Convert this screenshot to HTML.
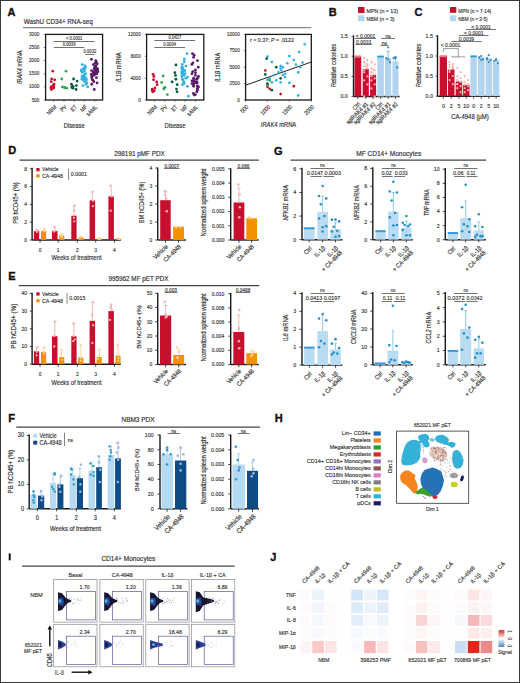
<!DOCTYPE html>
<html><head><meta charset="utf-8"><style>
html,body{margin:0;padding:0;background:#fff;}
svg{display:block;}
text{font-family:"Liberation Sans", sans-serif;}
</style></head><body>
<svg width="520" height="683" viewBox="0 0 520 683" font-family='"Liberation Sans", sans-serif'>
<rect x="0" y="0" width="520" height="683" fill="#fff"/>
<text x="7.6" y="15.7" font-size="11.0" text-anchor="start" fill="#111" font-weight="bold" stroke="#111" stroke-width="0.35">A</text>
<text x="23.8" y="23.6" font-size="6.9" text-anchor="start" fill="#333" stroke="#333" stroke-width="0.173" textLength="69" lengthAdjust="spacingAndGlyphs">WashU CD34+ RNA-seq</text>
<line x1="23" y1="27.7" x2="311.3" y2="27.7" stroke="#8a8a8a" stroke-width="1.2"/>
<rect x="45.6" y="34.4" width="56.99999999999999" height="65.6" fill="none" stroke="#1a1a1a" stroke-width="1.3"/>
<line x1="43.800000000000004" y1="100.0" x2="45.6" y2="100.0" stroke="#1a1a1a" stroke-width="0.6"/>
<text x="39.3" y="101.6" font-size="5.29" text-anchor="end" fill="#333" stroke="#333" stroke-width="0.132" textLength="7.67" lengthAdjust="spacingAndGlyphs">500</text>
<line x1="43.800000000000004" y1="86.88" x2="45.6" y2="86.88" stroke="#1a1a1a" stroke-width="0.6"/>
<text x="39.3" y="88.47999999999999" font-size="5.29" text-anchor="end" fill="#333" stroke="#333" stroke-width="0.132" textLength="10.23" lengthAdjust="spacingAndGlyphs">1000</text>
<line x1="43.800000000000004" y1="73.76" x2="45.6" y2="73.76" stroke="#1a1a1a" stroke-width="0.6"/>
<text x="39.3" y="75.36" font-size="5.29" text-anchor="end" fill="#333" stroke="#333" stroke-width="0.132" textLength="10.23" lengthAdjust="spacingAndGlyphs">1500</text>
<line x1="43.800000000000004" y1="60.64000000000001" x2="45.6" y2="60.64000000000001" stroke="#1a1a1a" stroke-width="0.6"/>
<text x="39.3" y="62.24000000000001" font-size="5.29" text-anchor="end" fill="#333" stroke="#333" stroke-width="0.132" textLength="10.23" lengthAdjust="spacingAndGlyphs">2000</text>
<line x1="43.800000000000004" y1="47.52" x2="45.6" y2="47.52" stroke="#1a1a1a" stroke-width="0.6"/>
<text x="39.3" y="49.120000000000005" font-size="5.29" text-anchor="end" fill="#333" stroke="#333" stroke-width="0.132" textLength="10.23" lengthAdjust="spacingAndGlyphs">2500</text>
<line x1="43.800000000000004" y1="34.400000000000006" x2="45.6" y2="34.400000000000006" stroke="#1a1a1a" stroke-width="0.6"/>
<text x="39.3" y="36.00000000000001" font-size="5.29" text-anchor="end" fill="#333" stroke="#333" stroke-width="0.132" textLength="10.23" lengthAdjust="spacingAndGlyphs">3000</text>
<text x="22.5" y="67.2" font-size="6.44" text-anchor="middle" fill="#333" stroke="#333" stroke-width="0.161" textLength="33.4" lengthAdjust="spacingAndGlyphs" transform="rotate(-90 22.5 67.2)"><tspan font-style="italic">IRAK4</tspan> mRNA</text>
<line x1="53.8" y1="100.0" x2="53.8" y2="101.6" stroke="#1a1a1a" stroke-width="0.6"/>
<line x1="64.0" y1="100.0" x2="64.0" y2="101.6" stroke="#1a1a1a" stroke-width="0.6"/>
<line x1="74.2" y1="100.0" x2="74.2" y2="101.6" stroke="#1a1a1a" stroke-width="0.6"/>
<line x1="84.4" y1="100.0" x2="84.4" y2="101.6" stroke="#1a1a1a" stroke-width="0.6"/>
<line x1="94.6" y1="100.0" x2="94.6" y2="101.6" stroke="#1a1a1a" stroke-width="0.6"/>
<text x="57.0" y="107.4" font-size="5.86" text-anchor="end" fill="#333" stroke="#333" stroke-width="0.147" textLength="11.33" lengthAdjust="spacingAndGlyphs" transform="rotate(-45 57.0 107.4)">NBM</text>
<text x="67.2" y="107.4" font-size="5.86" text-anchor="end" fill="#333" stroke="#333" stroke-width="0.147" textLength="6.8" lengthAdjust="spacingAndGlyphs" transform="rotate(-45 67.2 107.4)">PV</text>
<text x="77.4" y="107.4" font-size="5.86" text-anchor="end" fill="#333" stroke="#333" stroke-width="0.147" textLength="6.52" lengthAdjust="spacingAndGlyphs" transform="rotate(-45 77.4 107.4)">ET</text>
<text x="87.6" y="107.4" font-size="5.86" text-anchor="end" fill="#333" stroke="#333" stroke-width="0.147" textLength="7.36" lengthAdjust="spacingAndGlyphs" transform="rotate(-45 87.6 107.4)">MF</text>
<text x="97.8" y="107.4" font-size="5.86" text-anchor="end" fill="#333" stroke="#333" stroke-width="0.147" textLength="13.04" lengthAdjust="spacingAndGlyphs" transform="rotate(-45 97.8 107.4)">sAML</text>
<text x="74.2" y="127.5" font-size="6.67" text-anchor="middle" fill="#333" stroke="#333" stroke-width="0.167" textLength="20.95" lengthAdjust="spacingAndGlyphs">Disease</text>
<circle cx="52.74" cy="71.14" r="1.4" fill="#c8102e"/>
<circle cx="51.71" cy="79.01" r="1.4" fill="#c8102e"/>
<circle cx="54.71" cy="79.8" r="1.4" fill="#c8102e"/>
<circle cx="51.23" cy="81.63" r="1.4" fill="#c8102e"/>
<circle cx="54.02" cy="84.26" r="1.4" fill="#c8102e"/>
<circle cx="52.99" cy="85.57" r="1.4" fill="#c8102e"/>
<circle cx="51.15" cy="86.88" r="1.4" fill="#c8102e"/>
<circle cx="53.84" cy="86.88" r="1.4" fill="#c8102e"/>
<circle cx="51.02" cy="87.4" r="1.4" fill="#c8102e"/>
<circle cx="53.4" cy="88.19" r="1.4" fill="#c8102e"/>
<circle cx="51.22" cy="88.72" r="1.4" fill="#c8102e"/>
<circle cx="51.34" cy="89.5" r="1.4" fill="#c8102e"/>
<circle cx="53.35" cy="85.57" r="1.4" fill="#c8102e"/>
<circle cx="65.96" cy="71.14" r="1.4" fill="#34a853"/>
<circle cx="61.74" cy="79.01" r="1.4" fill="#34a853"/>
<circle cx="62.34" cy="86.88" r="1.4" fill="#34a853"/>
<circle cx="64.76" cy="87.93" r="1.4" fill="#34a853"/>
<circle cx="66.69" cy="88.19" r="1.4" fill="#34a853"/>
<circle cx="64.46" cy="87.14" r="1.4" fill="#34a853"/>
<circle cx="73.58" cy="79.01" r="1.4" fill="#0c5a3e"/>
<circle cx="77.06" cy="81.11" r="1.4" fill="#0c5a3e"/>
<circle cx="71.48" cy="84.26" r="1.4" fill="#0c5a3e"/>
<circle cx="76.35" cy="85.57" r="1.4" fill="#0c5a3e"/>
<circle cx="72.94" cy="86.36" r="1.4" fill="#0c5a3e"/>
<circle cx="72.07" cy="86.88" r="1.4" fill="#0c5a3e"/>
<circle cx="71.91" cy="87.4" r="1.4" fill="#0c5a3e"/>
<circle cx="73.05" cy="88.19" r="1.4" fill="#0c5a3e"/>
<circle cx="76.1" cy="89.5" r="1.4" fill="#0c5a3e"/>
<circle cx="82.23" cy="64.58" r="1.4" fill="#36b0e0"/>
<circle cx="84.95" cy="65.89" r="1.4" fill="#36b0e0"/>
<circle cx="85.34" cy="67.2" r="1.4" fill="#36b0e0"/>
<circle cx="83.53" cy="68.51" r="1.4" fill="#36b0e0"/>
<circle cx="84.72" cy="69.04" r="1.4" fill="#36b0e0"/>
<circle cx="81.43" cy="69.82" r="1.4" fill="#36b0e0"/>
<circle cx="81.41" cy="71.14" r="1.4" fill="#36b0e0"/>
<circle cx="82.4" cy="72.45" r="1.4" fill="#36b0e0"/>
<circle cx="85.63" cy="73.76" r="1.4" fill="#36b0e0"/>
<circle cx="83.91" cy="75.07" r="1.4" fill="#36b0e0"/>
<circle cx="83.14" cy="76.38" r="1.4" fill="#36b0e0"/>
<circle cx="84.98" cy="76.91" r="1.4" fill="#36b0e0"/>
<circle cx="84.08" cy="77.7" r="1.4" fill="#36b0e0"/>
<circle cx="83.04" cy="78.22" r="1.4" fill="#36b0e0"/>
<circle cx="86.4" cy="79.01" r="1.4" fill="#36b0e0"/>
<circle cx="85.75" cy="79.01" r="1.4" fill="#36b0e0"/>
<circle cx="82.66" cy="79.53" r="1.4" fill="#36b0e0"/>
<circle cx="84.91" cy="80.32" r="1.4" fill="#36b0e0"/>
<circle cx="84.57" cy="81.63" r="1.4" fill="#36b0e0"/>
<circle cx="86.95" cy="82.94" r="1.4" fill="#36b0e0"/>
<circle cx="85.96" cy="84.26" r="1.4" fill="#36b0e0"/>
<circle cx="82.96" cy="85.57" r="1.4" fill="#36b0e0"/>
<circle cx="87.67" cy="86.88" r="1.4" fill="#36b0e0"/>
<circle cx="81.8" cy="79.01" r="1.4" fill="#36b0e0"/>
<circle cx="83.84" cy="78.48" r="1.4" fill="#36b0e0"/>
<circle cx="86.15" cy="80.32" r="1.4" fill="#36b0e0"/>
<circle cx="82.03" cy="76.38" r="1.4" fill="#36b0e0"/>
<circle cx="84.32" cy="71.14" r="1.4" fill="#36b0e0"/>
<circle cx="91.47" cy="59.33" r="1.4" fill="#5a1a6a"/>
<circle cx="95.74" cy="60.64" r="1.4" fill="#5a1a6a"/>
<circle cx="96.4" cy="61.95" r="1.4" fill="#5a1a6a"/>
<circle cx="95.1" cy="63.26" r="1.4" fill="#5a1a6a"/>
<circle cx="97.15" cy="63.79" r="1.4" fill="#5a1a6a"/>
<circle cx="93.33" cy="64.58" r="1.4" fill="#5a1a6a"/>
<circle cx="95.93" cy="65.89" r="1.4" fill="#5a1a6a"/>
<circle cx="95.24" cy="66.41" r="1.4" fill="#5a1a6a"/>
<circle cx="95.14" cy="67.2" r="1.4" fill="#5a1a6a"/>
<circle cx="94.3" cy="67.99" r="1.4" fill="#5a1a6a"/>
<circle cx="96.91" cy="68.51" r="1.4" fill="#5a1a6a"/>
<circle cx="97.62" cy="69.04" r="1.4" fill="#5a1a6a"/>
<circle cx="94.42" cy="69.82" r="1.4" fill="#5a1a6a"/>
<circle cx="95.72" cy="70.09" r="1.4" fill="#5a1a6a"/>
<circle cx="91.61" cy="70.61" r="1.4" fill="#5a1a6a"/>
<circle cx="95.97" cy="71.14" r="1.4" fill="#5a1a6a"/>
<circle cx="95.6" cy="71.14" r="1.4" fill="#5a1a6a"/>
<circle cx="97.95" cy="71.66" r="1.4" fill="#5a1a6a"/>
<circle cx="96.79" cy="72.19" r="1.4" fill="#5a1a6a"/>
<circle cx="93.14" cy="72.45" r="1.4" fill="#5a1a6a"/>
<circle cx="93.82" cy="72.97" r="1.4" fill="#5a1a6a"/>
<circle cx="95.75" cy="73.76" r="1.4" fill="#5a1a6a"/>
<circle cx="91.35" cy="74.28" r="1.4" fill="#5a1a6a"/>
<circle cx="94.34" cy="75.07" r="1.4" fill="#5a1a6a"/>
<circle cx="92.34" cy="75.86" r="1.4" fill="#5a1a6a"/>
<circle cx="92.0" cy="76.38" r="1.4" fill="#5a1a6a"/>
<circle cx="91.6" cy="76.91" r="1.4" fill="#5a1a6a"/>
<circle cx="96.42" cy="77.7" r="1.4" fill="#5a1a6a"/>
<circle cx="92.08" cy="79.01" r="1.4" fill="#5a1a6a"/>
<circle cx="92.88" cy="80.32" r="1.4" fill="#5a1a6a"/>
<circle cx="93.86" cy="81.63" r="1.4" fill="#5a1a6a"/>
<circle cx="97.13" cy="82.94" r="1.4" fill="#5a1a6a"/>
<circle cx="91.75" cy="84.26" r="1.4" fill="#5a1a6a"/>
<circle cx="94.25" cy="89.5" r="1.4" fill="#5a1a6a"/>
<circle cx="94.94" cy="68.51" r="1.4" fill="#5a1a6a"/>
<circle cx="97.21" cy="69.82" r="1.4" fill="#5a1a6a"/>
<circle cx="96.77" cy="73.76" r="1.4" fill="#5a1a6a"/>
<circle cx="97.08" cy="71.14" r="1.4" fill="#5a1a6a"/>
<line x1="53.8" y1="41.5" x2="94.6" y2="41.5" stroke="#444" stroke-width="0.75"/>
<text x="74.19999999999999" y="40.3" font-size="4.83" text-anchor="middle" fill="#333" stroke="#333" stroke-width="0.121" textLength="16.47" lengthAdjust="spacingAndGlyphs">&lt; 0.0001</text>
<line x1="53.8" y1="47.5" x2="84.4" y2="47.5" stroke="#444" stroke-width="0.75"/>
<text x="69.1" y="46.3" font-size="4.83" text-anchor="middle" fill="#333" stroke="#333" stroke-width="0.121" textLength="12.85" lengthAdjust="spacingAndGlyphs">0.0039</text>
<line x1="85.2" y1="54.5" x2="94.6" y2="54.5" stroke="#444" stroke-width="0.75"/>
<text x="89.9" y="53.3" font-size="4.83" text-anchor="middle" fill="#333" stroke="#333" stroke-width="0.121" textLength="12.85" lengthAdjust="spacingAndGlyphs">0.0032</text>
<rect x="146.6" y="34.4" width="57.20000000000002" height="65.6" fill="none" stroke="#1a1a1a" stroke-width="1.3"/>
<line x1="144.79999999999998" y1="100.0" x2="146.6" y2="100.0" stroke="#1a1a1a" stroke-width="0.6"/>
<text x="140.7" y="101.6" font-size="5.29" text-anchor="end" fill="#333" stroke="#333" stroke-width="0.132" textLength="2.56" lengthAdjust="spacingAndGlyphs">0</text>
<line x1="144.79999999999998" y1="78.13333333333334" x2="146.6" y2="78.13333333333334" stroke="#1a1a1a" stroke-width="0.6"/>
<text x="140.7" y="79.73333333333333" font-size="5.29" text-anchor="end" fill="#333" stroke="#333" stroke-width="0.132" textLength="10.23" lengthAdjust="spacingAndGlyphs">4000</text>
<line x1="144.79999999999998" y1="56.26666666666667" x2="146.6" y2="56.26666666666667" stroke="#1a1a1a" stroke-width="0.6"/>
<text x="140.7" y="57.866666666666674" font-size="5.29" text-anchor="end" fill="#333" stroke="#333" stroke-width="0.132" textLength="10.23" lengthAdjust="spacingAndGlyphs">8000</text>
<line x1="144.79999999999998" y1="34.400000000000006" x2="146.6" y2="34.400000000000006" stroke="#1a1a1a" stroke-width="0.6"/>
<text x="140.7" y="36.00000000000001" font-size="5.29" text-anchor="end" fill="#333" stroke="#333" stroke-width="0.132" textLength="12.79" lengthAdjust="spacingAndGlyphs">12000</text>
<text x="120.9" y="67.2" font-size="6.44" text-anchor="middle" fill="#333" stroke="#333" stroke-width="0.161" textLength="29.4" lengthAdjust="spacingAndGlyphs" transform="rotate(-90 120.9 67.2)"><tspan font-style="italic">IL1B</tspan> mRNA</text>
<line x1="154.4" y1="100.0" x2="154.4" y2="101.6" stroke="#1a1a1a" stroke-width="0.6"/>
<line x1="164.6" y1="100.0" x2="164.6" y2="101.6" stroke="#1a1a1a" stroke-width="0.6"/>
<line x1="174.8" y1="100.0" x2="174.8" y2="101.6" stroke="#1a1a1a" stroke-width="0.6"/>
<line x1="185.0" y1="100.0" x2="185.0" y2="101.6" stroke="#1a1a1a" stroke-width="0.6"/>
<line x1="195.2" y1="100.0" x2="195.2" y2="101.6" stroke="#1a1a1a" stroke-width="0.6"/>
<text x="157.6" y="107.4" font-size="5.86" text-anchor="end" fill="#333" stroke="#333" stroke-width="0.147" textLength="11.33" lengthAdjust="spacingAndGlyphs" transform="rotate(-45 157.6 107.4)">NBM</text>
<text x="167.8" y="107.4" font-size="5.86" text-anchor="end" fill="#333" stroke="#333" stroke-width="0.147" textLength="6.8" lengthAdjust="spacingAndGlyphs" transform="rotate(-45 167.8 107.4)">PV</text>
<text x="178.0" y="107.4" font-size="5.86" text-anchor="end" fill="#333" stroke="#333" stroke-width="0.147" textLength="6.52" lengthAdjust="spacingAndGlyphs" transform="rotate(-45 178.0 107.4)">ET</text>
<text x="188.2" y="107.4" font-size="5.86" text-anchor="end" fill="#333" stroke="#333" stroke-width="0.147" textLength="7.36" lengthAdjust="spacingAndGlyphs" transform="rotate(-45 188.2 107.4)">MF</text>
<text x="198.4" y="107.4" font-size="5.86" text-anchor="end" fill="#333" stroke="#333" stroke-width="0.147" textLength="13.04" lengthAdjust="spacingAndGlyphs" transform="rotate(-45 198.4 107.4)">sAML</text>
<text x="175" y="127.5" font-size="6.67" text-anchor="middle" fill="#333" stroke="#333" stroke-width="0.167" textLength="20.95" lengthAdjust="spacingAndGlyphs">Disease</text>
<circle cx="153.07" cy="74.31" r="1.4" fill="#c8102e"/>
<circle cx="153.89" cy="76.49" r="1.4" fill="#c8102e"/>
<circle cx="153.55" cy="79.77" r="1.4" fill="#c8102e"/>
<circle cx="156.71" cy="81.96" r="1.4" fill="#c8102e"/>
<circle cx="157.15" cy="84.69" r="1.4" fill="#c8102e"/>
<circle cx="152.31" cy="89.07" r="1.4" fill="#c8102e"/>
<circle cx="152.46" cy="90.16" r="1.4" fill="#c8102e"/>
<circle cx="152.79" cy="91.25" r="1.4" fill="#c8102e"/>
<circle cx="152.8" cy="91.8" r="1.4" fill="#c8102e"/>
<circle cx="154.31" cy="90.71" r="1.4" fill="#c8102e"/>
<circle cx="154.93" cy="87.97" r="1.4" fill="#c8102e"/>
<circle cx="163.18" cy="75.95" r="1.4" fill="#34a853"/>
<circle cx="161.62" cy="82.51" r="1.4" fill="#34a853"/>
<circle cx="164.11" cy="87.97" r="1.4" fill="#34a853"/>
<circle cx="163.82" cy="89.07" r="1.4" fill="#34a853"/>
<circle cx="165.0" cy="87.43" r="1.4" fill="#34a853"/>
<circle cx="167.32" cy="94.53" r="1.4" fill="#34a853"/>
<circle cx="175.94" cy="65.01" r="1.4" fill="#0c5a3e"/>
<circle cx="174.89" cy="72.67" r="1.4" fill="#0c5a3e"/>
<circle cx="175.51" cy="75.4" r="1.4" fill="#0c5a3e"/>
<circle cx="175.86" cy="79.23" r="1.4" fill="#0c5a3e"/>
<circle cx="172.12" cy="81.96" r="1.4" fill="#0c5a3e"/>
<circle cx="177.2" cy="84.69" r="1.4" fill="#0c5a3e"/>
<circle cx="176.48" cy="89.07" r="1.4" fill="#0c5a3e"/>
<circle cx="177.05" cy="91.8" r="1.4" fill="#0c5a3e"/>
<circle cx="187.03" cy="53.53" r="1.4" fill="#36b0e0"/>
<circle cx="184.27" cy="59.0" r="1.4" fill="#36b0e0"/>
<circle cx="184.31" cy="61.73" r="1.4" fill="#36b0e0"/>
<circle cx="182.3" cy="64.47" r="1.4" fill="#36b0e0"/>
<circle cx="185.91" cy="66.11" r="1.4" fill="#36b0e0"/>
<circle cx="182.02" cy="67.2" r="1.4" fill="#36b0e0"/>
<circle cx="182.06" cy="68.29" r="1.4" fill="#36b0e0"/>
<circle cx="183.02" cy="69.39" r="1.4" fill="#36b0e0"/>
<circle cx="182.7" cy="69.93" r="1.4" fill="#36b0e0"/>
<circle cx="183.91" cy="71.03" r="1.4" fill="#36b0e0"/>
<circle cx="181.96" cy="71.57" r="1.4" fill="#36b0e0"/>
<circle cx="181.6" cy="72.67" r="1.4" fill="#36b0e0"/>
<circle cx="182.63" cy="73.21" r="1.4" fill="#36b0e0"/>
<circle cx="182.29" cy="74.31" r="1.4" fill="#36b0e0"/>
<circle cx="184.07" cy="75.4" r="1.4" fill="#36b0e0"/>
<circle cx="181.77" cy="76.49" r="1.4" fill="#36b0e0"/>
<circle cx="187.55" cy="77.04" r="1.4" fill="#36b0e0"/>
<circle cx="185.78" cy="78.13" r="1.4" fill="#36b0e0"/>
<circle cx="182.61" cy="79.23" r="1.4" fill="#36b0e0"/>
<circle cx="183.32" cy="80.87" r="1.4" fill="#36b0e0"/>
<circle cx="183.96" cy="82.51" r="1.4" fill="#36b0e0"/>
<circle cx="184.08" cy="83.6" r="1.4" fill="#36b0e0"/>
<circle cx="182.44" cy="84.69" r="1.4" fill="#36b0e0"/>
<circle cx="187.37" cy="86.33" r="1.4" fill="#36b0e0"/>
<circle cx="188.35" cy="96.17" r="1.4" fill="#36b0e0"/>
<circle cx="184.77" cy="70.48" r="1.4" fill="#36b0e0"/>
<circle cx="184.89" cy="73.76" r="1.4" fill="#36b0e0"/>
<circle cx="182.18" cy="67.2" r="1.4" fill="#36b0e0"/>
<circle cx="192.49" cy="53.53" r="1.4" fill="#5a1a6a"/>
<circle cx="194.13" cy="55.17" r="1.4" fill="#5a1a6a"/>
<circle cx="193.6" cy="57.36" r="1.4" fill="#5a1a6a"/>
<circle cx="197.44" cy="60.64" r="1.4" fill="#5a1a6a"/>
<circle cx="192.9" cy="62.83" r="1.4" fill="#5a1a6a"/>
<circle cx="191.96" cy="64.47" r="1.4" fill="#5a1a6a"/>
<circle cx="198.27" cy="67.2" r="1.4" fill="#5a1a6a"/>
<circle cx="195.39" cy="69.93" r="1.4" fill="#5a1a6a"/>
<circle cx="192.8" cy="71.57" r="1.4" fill="#5a1a6a"/>
<circle cx="195.49" cy="72.67" r="1.4" fill="#5a1a6a"/>
<circle cx="191.98" cy="73.76" r="1.4" fill="#5a1a6a"/>
<circle cx="195.39" cy="75.4" r="1.4" fill="#5a1a6a"/>
<circle cx="198.45" cy="76.49" r="1.4" fill="#5a1a6a"/>
<circle cx="197.67" cy="78.13" r="1.4" fill="#5a1a6a"/>
<circle cx="196.53" cy="79.23" r="1.4" fill="#5a1a6a"/>
<circle cx="193.58" cy="80.32" r="1.4" fill="#5a1a6a"/>
<circle cx="194.29" cy="80.87" r="1.4" fill="#5a1a6a"/>
<circle cx="192.94" cy="81.41" r="1.4" fill="#5a1a6a"/>
<circle cx="197.05" cy="81.96" r="1.4" fill="#5a1a6a"/>
<circle cx="195.42" cy="82.51" r="1.4" fill="#5a1a6a"/>
<circle cx="197.1" cy="83.05" r="1.4" fill="#5a1a6a"/>
<circle cx="194.04" cy="83.6" r="1.4" fill="#5a1a6a"/>
<circle cx="193.32" cy="84.69" r="1.4" fill="#5a1a6a"/>
<circle cx="197.32" cy="85.79" r="1.4" fill="#5a1a6a"/>
<circle cx="198.5" cy="86.88" r="1.4" fill="#5a1a6a"/>
<circle cx="197.6" cy="87.97" r="1.4" fill="#5a1a6a"/>
<circle cx="197.28" cy="89.07" r="1.4" fill="#5a1a6a"/>
<circle cx="197.36" cy="90.16" r="1.4" fill="#5a1a6a"/>
<circle cx="196.83" cy="91.8" r="1.4" fill="#5a1a6a"/>
<circle cx="193.34" cy="93.44" r="1.4" fill="#5a1a6a"/>
<circle cx="195.32" cy="94.53" r="1.4" fill="#5a1a6a"/>
<circle cx="194.22" cy="95.08" r="1.4" fill="#5a1a6a"/>
<circle cx="192.0" cy="80.87" r="1.4" fill="#5a1a6a"/>
<circle cx="191.99" cy="83.6" r="1.4" fill="#5a1a6a"/>
<circle cx="193.7" cy="86.33" r="1.4" fill="#5a1a6a"/>
<circle cx="193.56" cy="78.13" r="1.4" fill="#5a1a6a"/>
<line x1="154.4" y1="40.5" x2="195.2" y2="40.5" stroke="#444" stroke-width="0.75"/>
<text x="174.8" y="39.3" font-size="4.83" text-anchor="middle" fill="#333" stroke="#333" stroke-width="0.121" textLength="12.85" lengthAdjust="spacingAndGlyphs">0.0427</text>
<line x1="154.4" y1="47.5" x2="185.0" y2="47.5" stroke="#444" stroke-width="0.75"/>
<text x="169.7" y="46.3" font-size="4.83" text-anchor="middle" fill="#333" stroke="#333" stroke-width="0.121" textLength="12.85" lengthAdjust="spacingAndGlyphs">0.0004</text>
<rect x="245.6" y="34.4" width="65.70000000000002" height="65.6" fill="none" stroke="#1a1a1a" stroke-width="1.3"/>
<line x1="243.79999999999998" y1="100.0" x2="245.6" y2="100.0" stroke="#1a1a1a" stroke-width="0.6"/>
<text x="239.7" y="101.6" font-size="5.29" text-anchor="end" fill="#333" stroke="#333" stroke-width="0.132" textLength="2.56" lengthAdjust="spacingAndGlyphs">0</text>
<line x1="243.79999999999998" y1="83.6" x2="245.6" y2="83.6" stroke="#1a1a1a" stroke-width="0.6"/>
<text x="239.7" y="85.19999999999999" font-size="5.29" text-anchor="end" fill="#333" stroke="#333" stroke-width="0.132" textLength="10.23" lengthAdjust="spacingAndGlyphs">2500</text>
<line x1="243.79999999999998" y1="67.2" x2="245.6" y2="67.2" stroke="#1a1a1a" stroke-width="0.6"/>
<text x="239.7" y="68.8" font-size="5.29" text-anchor="end" fill="#333" stroke="#333" stroke-width="0.132" textLength="10.23" lengthAdjust="spacingAndGlyphs">5000</text>
<line x1="243.79999999999998" y1="50.800000000000004" x2="245.6" y2="50.800000000000004" stroke="#1a1a1a" stroke-width="0.6"/>
<text x="239.7" y="52.400000000000006" font-size="5.29" text-anchor="end" fill="#333" stroke="#333" stroke-width="0.132" textLength="10.23" lengthAdjust="spacingAndGlyphs">7500</text>
<line x1="243.79999999999998" y1="34.400000000000006" x2="245.6" y2="34.400000000000006" stroke="#1a1a1a" stroke-width="0.6"/>
<text x="239.7" y="36.00000000000001" font-size="5.29" text-anchor="end" fill="#333" stroke="#333" stroke-width="0.132" textLength="12.79" lengthAdjust="spacingAndGlyphs">10000</text>
<line x1="245.6" y1="100.0" x2="245.6" y2="101.6" stroke="#1a1a1a" stroke-width="0.6"/>
<text x="248.8" y="107.4" font-size="5.86" text-anchor="end" fill="#333" stroke="#333" stroke-width="0.147" textLength="8.51" lengthAdjust="spacingAndGlyphs" transform="rotate(-45 248.8 107.4)">500</text>
<line x1="267.5" y1="100.0" x2="267.5" y2="101.6" stroke="#1a1a1a" stroke-width="0.6"/>
<text x="270.7" y="107.4" font-size="5.86" text-anchor="end" fill="#333" stroke="#333" stroke-width="0.147" textLength="11.34" lengthAdjust="spacingAndGlyphs" transform="rotate(-45 270.7 107.4)">1000</text>
<line x1="289.4" y1="100.0" x2="289.4" y2="101.6" stroke="#1a1a1a" stroke-width="0.6"/>
<text x="292.6" y="107.4" font-size="5.86" text-anchor="end" fill="#333" stroke="#333" stroke-width="0.147" textLength="11.34" lengthAdjust="spacingAndGlyphs" transform="rotate(-45 292.6 107.4)">1500</text>
<line x1="311.3" y1="100.0" x2="311.3" y2="101.6" stroke="#1a1a1a" stroke-width="0.6"/>
<text x="314.5" y="107.4" font-size="5.86" text-anchor="end" fill="#333" stroke="#333" stroke-width="0.147" textLength="11.34" lengthAdjust="spacingAndGlyphs" transform="rotate(-45 314.5 107.4)">2000</text>
<text x="219.7" y="67.4" font-size="6.72" text-anchor="middle" fill="#333" stroke="#333" stroke-width="0.168" textLength="29.0" lengthAdjust="spacingAndGlyphs" transform="rotate(-90 219.7 67.4)"><tspan font-style="italic">IL1B</tspan> mRNA</text>
<text x="278.5" y="126.5" font-size="6.67" text-anchor="middle" fill="#333" stroke="#333" stroke-width="0.167" textLength="35.45" lengthAdjust="spacingAndGlyphs"><tspan font-style="italic">IRAK4</tspan> mRNA</text>
<text x="250" y="41.5" font-size="5.29" text-anchor="start" fill="#333" stroke="#333" stroke-width="0.132" textLength="44" lengthAdjust="spacingAndGlyphs">r = 0.37; <tspan font-style="italic">P</tspan> = .0122</text>
<line x1="245.6" y1="85.2" x2="311.3" y2="62.0" stroke="#222" stroke-width="1.0"/>
<circle cx="267.5" cy="56.7" r="1.35" fill="#36b0e0"/>
<circle cx="271.88" cy="61.95" r="1.35" fill="#36b0e0"/>
<circle cx="269.69" cy="78.35" r="1.35" fill="#36b0e0"/>
<circle cx="271.88" cy="82.29" r="1.35" fill="#36b0e0"/>
<circle cx="276.26" cy="80.32" r="1.35" fill="#36b0e0"/>
<circle cx="280.64" cy="65.89" r="1.35" fill="#36b0e0"/>
<circle cx="280.64" cy="68.51" r="1.35" fill="#36b0e0"/>
<circle cx="281.52" cy="70.48" r="1.35" fill="#36b0e0"/>
<circle cx="282.83" cy="75.07" r="1.35" fill="#36b0e0"/>
<circle cx="285.02" cy="73.76" r="1.35" fill="#36b0e0"/>
<circle cx="287.21" cy="63.26" r="1.35" fill="#36b0e0"/>
<circle cx="289.4" cy="56.05" r="1.35" fill="#36b0e0"/>
<circle cx="289.4" cy="82.94" r="1.35" fill="#36b0e0"/>
<circle cx="293.78" cy="59.98" r="1.35" fill="#36b0e0"/>
<circle cx="295.97" cy="64.58" r="1.35" fill="#36b0e0"/>
<circle cx="298.16" cy="72.45" r="1.35" fill="#36b0e0"/>
<circle cx="299.04" cy="52.11" r="1.35" fill="#36b0e0"/>
<circle cx="300.35" cy="67.2" r="1.35" fill="#36b0e0"/>
<circle cx="302.54" cy="62.61" r="1.35" fill="#36b0e0"/>
<circle cx="304.73" cy="44.24" r="1.35" fill="#36b0e0"/>
<circle cx="298.16" cy="95.41" r="1.35" fill="#36b0e0"/>
<circle cx="280.64" cy="82.29" r="1.35" fill="#36b0e0"/>
<circle cx="278.45" cy="72.45" r="1.35" fill="#36b0e0"/>
<circle cx="274.07" cy="75.07" r="1.35" fill="#36b0e0"/>
<circle cx="267.5" cy="79.66" r="1.35" fill="#36b0e0"/>
<circle cx="285.02" cy="77.04" r="1.35" fill="#36b0e0"/>
<circle cx="282.83" cy="67.2" r="1.35" fill="#36b0e0"/>
<circle cx="265.31" cy="70.48" r="1.35" fill="#c8102e"/>
<circle cx="267.5" cy="86.88" r="1.35" fill="#c8102e"/>
<circle cx="269.69" cy="88.85" r="1.35" fill="#c8102e"/>
<circle cx="280.64" cy="94.1" r="1.35" fill="#c8102e"/>
<circle cx="293.78" cy="86.22" r="1.35" fill="#c8102e"/>
<circle cx="267.5" cy="84.91" r="1.35" fill="#c8102e"/>
<circle cx="266.62" cy="58.67" r="1.35" fill="#0c5a3e"/>
<circle cx="265.31" cy="74.42" r="1.35" fill="#0c5a3e"/>
<circle cx="267.5" cy="83.6" r="1.35" fill="#0c5a3e"/>
<circle cx="271.88" cy="90.16" r="1.35" fill="#0c5a3e"/>
<circle cx="276.26" cy="67.2" r="1.35" fill="#0c5a3e"/>
<circle cx="280.64" cy="78.35" r="1.35" fill="#0c5a3e"/>
<circle cx="269.69" cy="80.32" r="1.35" fill="#34a853"/>
<circle cx="267.5" cy="85.57" r="1.35" fill="#34a853"/>
<text x="328.8" y="16.2" font-size="11.0" text-anchor="start" fill="#111" font-weight="bold" stroke="#111" stroke-width="0.35">B</text>
<rect x="358" y="7" width="6.5" height="6" fill="#c8102e"/>
<text x="366.5" y="12.5" font-size="5.98" text-anchor="start" fill="#333" stroke="#333" stroke-width="0.15" textLength="31.5" lengthAdjust="spacingAndGlyphs">MPN (n = 13)</text>
<rect x="358" y="15.3" width="6.5" height="6" fill="#b3d6f0"/>
<text x="366.5" y="20.7" font-size="5.98" text-anchor="start" fill="#333" stroke="#333" stroke-width="0.15" textLength="28" lengthAdjust="spacingAndGlyphs">NBM (n = 3)</text>
<line x1="353.5" y1="35.5" x2="353.5" y2="96.5" stroke="#1a1a1a" stroke-width="1.4"/>
<line x1="353.5" y1="96.5" x2="399.6" y2="96.5" stroke="#1a1a1a" stroke-width="1.4"/>
<line x1="351.6" y1="96.5" x2="353.5" y2="96.5" stroke="#1a1a1a" stroke-width="0.7"/>
<text x="347.8" y="98.4" font-size="6.09" text-anchor="end" fill="#333" stroke="#333" stroke-width="0.152" textLength="7.37" lengthAdjust="spacingAndGlyphs">0.0</text>
<line x1="351.6" y1="76.36666666666667" x2="353.5" y2="76.36666666666667" stroke="#1a1a1a" stroke-width="0.7"/>
<text x="347.8" y="78.26666666666668" font-size="6.09" text-anchor="end" fill="#333" stroke="#333" stroke-width="0.152" textLength="7.37" lengthAdjust="spacingAndGlyphs">0.5</text>
<line x1="351.6" y1="56.233333333333334" x2="353.5" y2="56.233333333333334" stroke="#1a1a1a" stroke-width="0.7"/>
<text x="347.8" y="58.13333333333333" font-size="6.09" text-anchor="end" fill="#333" stroke="#333" stroke-width="0.152" textLength="7.37" lengthAdjust="spacingAndGlyphs">1.0</text>
<line x1="351.6" y1="36.1" x2="353.5" y2="36.1" stroke="#1a1a1a" stroke-width="0.7"/>
<text x="347.8" y="38.0" font-size="6.09" text-anchor="end" fill="#333" stroke="#333" stroke-width="0.152" textLength="7.37" lengthAdjust="spacingAndGlyphs">1.5</text>
<text x="336.1" y="65.55" font-size="7.53" text-anchor="middle" fill="#333" stroke="#333" stroke-width="0.188" textLength="43.1" lengthAdjust="spacingAndGlyphs" transform="rotate(-90 336.1 65.55)">Relative colonies</text>
<rect x="354.5" y="56.233333333333334" width="6.699999999999989" height="40.266666666666666" fill="#c8102e"/>
<line x1="357.85" y1="96.5" x2="357.85" y2="99.1" stroke="#1a1a1a" stroke-width="0.7"/>
<text x="360.85" y="104.5" font-size="6.2" text-anchor="end" fill="#333" stroke="#333" stroke-width="0.155" textLength="8.38" lengthAdjust="spacingAndGlyphs" transform="rotate(-45 360.85 104.5)">Ctrl</text>
<rect x="362.7" y="69.11866666666667" width="6.100000000000023" height="27.38133333333333" fill="#c8102e"/>
<line x1="365.75" y1="96.5" x2="365.75" y2="99.1" stroke="#1a1a1a" stroke-width="0.7"/>
<text x="368.75" y="104.5" font-size="6.2" text-anchor="end" fill="#333" stroke="#333" stroke-width="0.155" textLength="28.76" lengthAdjust="spacingAndGlyphs" transform="rotate(-45 368.75 104.5)">sgIRAK4 #1</text>
<rect x="370.1" y="75.15866666666668" width="6.0" height="21.341333333333324" fill="#c8102e"/>
<line x1="373.1" y1="96.5" x2="373.1" y2="99.1" stroke="#1a1a1a" stroke-width="0.7"/>
<text x="376.1" y="104.5" font-size="6.2" text-anchor="end" fill="#333" stroke="#333" stroke-width="0.155" textLength="28.76" lengthAdjust="spacingAndGlyphs" transform="rotate(-45 376.1 104.5)">sgIRAK4 #2</text>
<rect x="377.3" y="56.233333333333334" width="6.599999999999966" height="40.266666666666666" fill="#b3d4f0"/>
<line x1="380.6" y1="96.5" x2="380.6" y2="99.1" stroke="#1a1a1a" stroke-width="0.7"/>
<text x="383.6" y="104.5" font-size="6.2" text-anchor="end" fill="#333" stroke="#333" stroke-width="0.155" textLength="8.38" lengthAdjust="spacingAndGlyphs" transform="rotate(-45 383.6 104.5)">Ctrl</text>
<rect x="385" y="58.24666666666667" width="6.199999999999989" height="38.25333333333333" fill="#b3d4f0"/>
<line x1="388.1" y1="96.5" x2="388.1" y2="99.1" stroke="#1a1a1a" stroke-width="0.7"/>
<text x="391.1" y="104.5" font-size="6.2" text-anchor="end" fill="#333" stroke="#333" stroke-width="0.155" textLength="28.76" lengthAdjust="spacingAndGlyphs" transform="rotate(-45 391.1 104.5)">sgIRAK4 #1</text>
<rect x="392.4" y="61.468" width="6.100000000000023" height="35.032" fill="#b3d4f0"/>
<line x1="395.45" y1="96.5" x2="395.45" y2="99.1" stroke="#1a1a1a" stroke-width="0.7"/>
<text x="398.45" y="104.5" font-size="6.2" text-anchor="end" fill="#333" stroke="#333" stroke-width="0.155" textLength="28.76" lengthAdjust="spacingAndGlyphs" transform="rotate(-45 398.45 104.5)">sgIRAK4 #2</text>
<circle cx="364.15" cy="58.25" r="1.15" fill="#f6b0b0"/>
<circle cx="367.35" cy="60.26" r="1.15" fill="#f6b0b0"/>
<circle cx="364.15" cy="62.27" r="1.15" fill="#f6b0b0"/>
<circle cx="367.35" cy="64.29" r="1.15" fill="#f6b0b0"/>
<circle cx="364.15" cy="66.3" r="1.15" fill="#f6b0b0"/>
<circle cx="367.35" cy="68.31" r="1.15" fill="#f6b0b0"/>
<circle cx="364.15" cy="72.34" r="1.15" fill="#f6b0b0"/>
<circle cx="367.35" cy="76.37" r="1.15" fill="#f6b0b0"/>
<circle cx="364.15" cy="80.39" r="1.15" fill="#f6b0b0"/>
<circle cx="367.35" cy="84.42" r="1.15" fill="#f6b0b0"/>
<circle cx="364.15" cy="96.5" r="1.15" fill="#f6b0b0"/>
<circle cx="367.35" cy="66.3" r="1.15" fill="#f6b0b0"/>
<circle cx="364.15" cy="70.33" r="1.15" fill="#f6b0b0"/>
<circle cx="371.5" cy="62.27" r="1.15" fill="#f6b0b0"/>
<circle cx="374.7" cy="64.29" r="1.15" fill="#f6b0b0"/>
<circle cx="371.5" cy="68.31" r="1.15" fill="#f6b0b0"/>
<circle cx="374.7" cy="70.33" r="1.15" fill="#f6b0b0"/>
<circle cx="371.5" cy="72.34" r="1.15" fill="#f6b0b0"/>
<circle cx="374.7" cy="74.35" r="1.15" fill="#f6b0b0"/>
<circle cx="371.5" cy="76.37" r="1.15" fill="#f6b0b0"/>
<circle cx="374.7" cy="78.38" r="1.15" fill="#f6b0b0"/>
<circle cx="371.5" cy="80.39" r="1.15" fill="#f6b0b0"/>
<circle cx="374.7" cy="84.42" r="1.15" fill="#f6b0b0"/>
<circle cx="371.5" cy="88.45" r="1.15" fill="#f6b0b0"/>
<circle cx="374.7" cy="96.5" r="1.15" fill="#f6b0b0"/>
<circle cx="371.5" cy="72.34" r="1.15" fill="#f6b0b0"/>
<circle cx="356.25" cy="56.23" r="1.15" fill="#f6b0b0"/>
<circle cx="359.45" cy="56.23" r="1.15" fill="#f6b0b0"/>
<circle cx="356.25" cy="56.23" r="1.15" fill="#f6b0b0"/>
<rect x="377.3" y="55.63333333333333" width="6.6" height="1.8" fill="#2a9ac0"/>
<rect x="354.5" y="55.63333333333333" width="6.7" height="1.8" fill="#e87a88"/>
<circle cx="388.1" cy="47.37" r="1.15" fill="#3a8cc0"/>
<circle cx="386.3" cy="58.25" r="1.15" fill="#3a8cc0"/>
<circle cx="389.9" cy="62.27" r="1.15" fill="#3a8cc0"/>
<circle cx="388.1" cy="59.45" r="1.15" fill="#3a8cc0"/>
<circle cx="395.45" cy="57.04" r="1.15" fill="#3a8cc0"/>
<circle cx="393.65" cy="58.25" r="1.15" fill="#3a8cc0"/>
<circle cx="397.25" cy="67.51" r="1.15" fill="#3a8cc0"/>
<circle cx="395.45" cy="58.25" r="1.15" fill="#3a8cc0"/>
<line x1="365.75" y1="69.11866666666667" x2="365.75" y2="62.676" stroke="#f6b0b0" stroke-width="0.6"/>
<line x1="364.15" y1="62.676" x2="367.35" y2="62.676" stroke="#f6b0b0" stroke-width="0.6"/>
<line x1="373.1" y1="75.15866666666668" x2="373.1" y2="69.11866666666667" stroke="#f6b0b0" stroke-width="0.6"/>
<line x1="371.5" y1="69.11866666666667" x2="374.70000000000005" y2="69.11866666666667" stroke="#f6b0b0" stroke-width="0.6"/>
<line x1="388.1" y1="58.24666666666667" x2="388.1" y2="51.40133333333333" stroke="#2b8fd0" stroke-width="0.6"/>
<line x1="386.5" y1="51.40133333333333" x2="389.70000000000005" y2="51.40133333333333" stroke="#2b8fd0" stroke-width="0.6"/>
<line x1="395.45" y1="61.468" x2="395.45" y2="57.03866666666667" stroke="#2b8fd0" stroke-width="0.6"/>
<line x1="393.84999999999997" y1="57.03866666666667" x2="397.05" y2="57.03866666666667" stroke="#2b8fd0" stroke-width="0.6"/>
<line x1="355" y1="38.5" x2="376" y2="38.5" stroke="#444" stroke-width="0.75"/>
<text x="365.5" y="37.6" font-size="5.75" text-anchor="middle" fill="#333" stroke="#333" stroke-width="0.144" textLength="19.6" lengthAdjust="spacingAndGlyphs">&lt; 0.0001</text>
<line x1="355.5" y1="44.5" x2="372" y2="44.5" stroke="#444" stroke-width="0.75"/>
<text x="363.75" y="43.6" font-size="5.75" text-anchor="middle" fill="#333" stroke="#333" stroke-width="0.144" textLength="15.3" lengthAdjust="spacingAndGlyphs">0.0033</text>
<line x1="381.2" y1="38.5" x2="395" y2="38.5" stroke="#444" stroke-width="0.75"/>
<text x="388.1" y="37.6" font-size="5.75" text-anchor="middle" fill="#333" stroke="#333" stroke-width="0.144" textLength="5.28" lengthAdjust="spacingAndGlyphs">ns</text>
<line x1="380.7" y1="45.5" x2="388" y2="45.5" stroke="#444" stroke-width="0.75"/>
<text x="384.35" y="44.6" font-size="5.75" text-anchor="middle" fill="#333" stroke="#333" stroke-width="0.144" textLength="5.28" lengthAdjust="spacingAndGlyphs">ns</text>
<text x="414.5" y="16.2" font-size="11.0" text-anchor="start" fill="#111" font-weight="bold" stroke="#111" stroke-width="0.35">C</text>
<rect x="450" y="7" width="6.3" height="5.8" fill="#c8102e"/>
<text x="458.2" y="12.5" font-size="5.98" text-anchor="start" fill="#333" stroke="#333" stroke-width="0.15" textLength="33" lengthAdjust="spacingAndGlyphs">MPN (n = 7-14)</text>
<rect x="450" y="15.3" width="6.3" height="5.8" fill="#b3d6f0"/>
<text x="458.2" y="20.7" font-size="5.98" text-anchor="start" fill="#333" stroke="#333" stroke-width="0.15" textLength="29.5" lengthAdjust="spacingAndGlyphs">NBM (n = 3-5)</text>
<line x1="437.5" y1="35.2" x2="437.5" y2="96.2" stroke="#1a1a1a" stroke-width="1.4"/>
<line x1="437.5" y1="96.2" x2="499.8" y2="96.2" stroke="#1a1a1a" stroke-width="1.4"/>
<line x1="435.6" y1="96.2" x2="437.5" y2="96.2" stroke="#1a1a1a" stroke-width="0.7"/>
<text x="432.9" y="98.10000000000001" font-size="6.09" text-anchor="end" fill="#333" stroke="#333" stroke-width="0.152" textLength="7.37" lengthAdjust="spacingAndGlyphs">0.0</text>
<line x1="435.6" y1="76.1" x2="437.5" y2="76.1" stroke="#1a1a1a" stroke-width="0.7"/>
<text x="432.9" y="78.0" font-size="6.09" text-anchor="end" fill="#333" stroke="#333" stroke-width="0.152" textLength="7.37" lengthAdjust="spacingAndGlyphs">0.5</text>
<line x1="435.6" y1="56.0" x2="437.5" y2="56.0" stroke="#1a1a1a" stroke-width="0.7"/>
<text x="432.9" y="57.9" font-size="6.09" text-anchor="end" fill="#333" stroke="#333" stroke-width="0.152" textLength="7.37" lengthAdjust="spacingAndGlyphs">1.0</text>
<line x1="435.6" y1="35.9" x2="437.5" y2="35.9" stroke="#1a1a1a" stroke-width="0.7"/>
<text x="432.9" y="37.8" font-size="6.09" text-anchor="end" fill="#333" stroke="#333" stroke-width="0.152" textLength="7.37" lengthAdjust="spacingAndGlyphs">1.5</text>
<text x="421.1" y="65.55" font-size="7.26" text-anchor="middle" fill="#333" stroke="#333" stroke-width="0.181" textLength="43.1" lengthAdjust="spacingAndGlyphs" transform="rotate(-90 421.1 65.55)">Relative colonies</text>
<rect x="439.7" y="56.0" width="7.300000000000011" height="40.2" fill="#c8102e"/>
<line x1="443.35" y1="96.2" x2="443.35" y2="98.8" stroke="#1a1a1a" stroke-width="0.7"/>
<text x="443.35" y="107.6" font-size="6.09" text-anchor="middle" fill="#333" stroke="#333" stroke-width="0.152" textLength="2.95" lengthAdjust="spacingAndGlyphs">0</text>
<rect x="447.9" y="69.467" width="6.600000000000023" height="26.733000000000004" fill="#c8102e"/>
<line x1="451.2" y1="96.2" x2="451.2" y2="98.8" stroke="#1a1a1a" stroke-width="0.7"/>
<text x="451.2" y="107.6" font-size="6.09" text-anchor="middle" fill="#333" stroke="#333" stroke-width="0.152" textLength="2.95" lengthAdjust="spacingAndGlyphs">2</text>
<rect x="455.7" y="81.527" width="6.5" height="14.673000000000002" fill="#c8102e"/>
<line x1="458.95" y1="96.2" x2="458.95" y2="98.8" stroke="#1a1a1a" stroke-width="0.7"/>
<text x="458.95" y="107.6" font-size="6.09" text-anchor="middle" fill="#333" stroke="#333" stroke-width="0.152" textLength="2.95" lengthAdjust="spacingAndGlyphs">5</text>
<rect x="463.1" y="84.944" width="6.399999999999977" height="11.256" fill="#c8102e"/>
<line x1="466.3" y1="96.2" x2="466.3" y2="98.8" stroke="#1a1a1a" stroke-width="0.7"/>
<text x="466.3" y="107.6" font-size="6.09" text-anchor="middle" fill="#333" stroke="#333" stroke-width="0.152" textLength="5.89" lengthAdjust="spacingAndGlyphs">10</text>
<rect x="470.4" y="56.0" width="6.400000000000034" height="40.2" fill="#b3d4f0"/>
<line x1="473.6" y1="96.2" x2="473.6" y2="98.8" stroke="#1a1a1a" stroke-width="0.7"/>
<text x="473.6" y="107.6" font-size="6.09" text-anchor="middle" fill="#333" stroke="#333" stroke-width="0.152" textLength="2.95" lengthAdjust="spacingAndGlyphs">0</text>
<rect x="477.8" y="57.407000000000004" width="6.800000000000011" height="38.793" fill="#b3d4f0"/>
<line x1="481.20000000000005" y1="96.2" x2="481.20000000000005" y2="98.8" stroke="#1a1a1a" stroke-width="0.7"/>
<text x="481.20000000000005" y="107.6" font-size="6.09" text-anchor="middle" fill="#333" stroke="#333" stroke-width="0.152" textLength="2.95" lengthAdjust="spacingAndGlyphs">2</text>
<rect x="485.6" y="58.211" width="6.399999999999977" height="37.989000000000004" fill="#b3d4f0"/>
<line x1="488.8" y1="96.2" x2="488.8" y2="98.8" stroke="#1a1a1a" stroke-width="0.7"/>
<text x="488.8" y="107.6" font-size="6.09" text-anchor="middle" fill="#333" stroke="#333" stroke-width="0.152" textLength="2.95" lengthAdjust="spacingAndGlyphs">5</text>
<rect x="492.9" y="60.02" width="6.400000000000034" height="36.18" fill="#b3d4f0"/>
<line x1="496.1" y1="96.2" x2="496.1" y2="98.8" stroke="#1a1a1a" stroke-width="0.7"/>
<text x="496.1" y="107.6" font-size="6.09" text-anchor="middle" fill="#333" stroke="#333" stroke-width="0.152" textLength="5.89" lengthAdjust="spacingAndGlyphs">10</text>
<text x="470.0" y="118.6" font-size="7.36" text-anchor="middle" fill="#333" stroke="#333" stroke-width="0.184" textLength="37.5" lengthAdjust="spacingAndGlyphs">CA-4948 (μM)</text>
<circle cx="449.6" cy="62.03" r="1.1" fill="#f6b0b0"/>
<circle cx="452.8" cy="64.04" r="1.1" fill="#f6b0b0"/>
<circle cx="449.6" cy="64.84" r="1.1" fill="#f6b0b0"/>
<circle cx="452.8" cy="66.05" r="1.1" fill="#f6b0b0"/>
<circle cx="449.6" cy="67.26" r="1.1" fill="#f6b0b0"/>
<circle cx="452.8" cy="68.06" r="1.1" fill="#f6b0b0"/>
<circle cx="449.6" cy="72.08" r="1.1" fill="#f6b0b0"/>
<circle cx="452.8" cy="76.1" r="1.1" fill="#f6b0b0"/>
<circle cx="449.6" cy="80.12" r="1.1" fill="#f6b0b0"/>
<circle cx="452.8" cy="84.14" r="1.1" fill="#f6b0b0"/>
<circle cx="449.6" cy="70.07" r="1.1" fill="#f6b0b0"/>
<circle cx="452.8" cy="68.06" r="1.1" fill="#f6b0b0"/>
<circle cx="457.35" cy="68.06" r="1.1" fill="#f6b0b0"/>
<circle cx="460.55" cy="72.08" r="1.1" fill="#f6b0b0"/>
<circle cx="457.35" cy="76.1" r="1.1" fill="#f6b0b0"/>
<circle cx="460.55" cy="78.11" r="1.1" fill="#f6b0b0"/>
<circle cx="457.35" cy="80.12" r="1.1" fill="#f6b0b0"/>
<circle cx="460.55" cy="82.13" r="1.1" fill="#f6b0b0"/>
<circle cx="457.35" cy="84.14" r="1.1" fill="#f6b0b0"/>
<circle cx="460.55" cy="86.15" r="1.1" fill="#f6b0b0"/>
<circle cx="457.35" cy="88.16" r="1.1" fill="#f6b0b0"/>
<circle cx="460.55" cy="92.18" r="1.1" fill="#f6b0b0"/>
<circle cx="457.35" cy="84.14" r="1.1" fill="#f6b0b0"/>
<circle cx="464.7" cy="76.1" r="1.1" fill="#f6b0b0"/>
<circle cx="467.9" cy="80.12" r="1.1" fill="#f6b0b0"/>
<circle cx="464.7" cy="82.13" r="1.1" fill="#f6b0b0"/>
<circle cx="467.9" cy="84.14" r="1.1" fill="#f6b0b0"/>
<circle cx="464.7" cy="84.94" r="1.1" fill="#f6b0b0"/>
<circle cx="467.9" cy="86.15" r="1.1" fill="#f6b0b0"/>
<circle cx="464.7" cy="88.16" r="1.1" fill="#f6b0b0"/>
<circle cx="467.9" cy="90.17" r="1.1" fill="#f6b0b0"/>
<circle cx="464.7" cy="92.18" r="1.1" fill="#f6b0b0"/>
<circle cx="441.75" cy="56.0" r="1.1" fill="#f6b0b0"/>
<circle cx="444.95" cy="56.0" r="1.1" fill="#f6b0b0"/>
<circle cx="441.75" cy="56.0" r="1.1" fill="#f6b0b0"/>
<circle cx="444.95" cy="56.0" r="1.1" fill="#f6b0b0"/>
<rect x="470.4" y="55.4" width="6.4" height="1.8" fill="#2a9ac0"/>
<rect x="439.7" y="55.4" width="7.3" height="1.8" fill="#e87a88"/>
<circle cx="481.2" cy="56.0" r="1.1" fill="#3a8cc0"/>
<circle cx="479.4" cy="58.01" r="1.1" fill="#3a8cc0"/>
<circle cx="483.0" cy="59.22" r="1.1" fill="#3a8cc0"/>
<circle cx="481.2" cy="60.02" r="1.1" fill="#3a8cc0"/>
<circle cx="479.4" cy="57.21" r="1.1" fill="#3a8cc0"/>
<circle cx="488.8" cy="55.2" r="1.1" fill="#3a8cc0"/>
<circle cx="487.0" cy="58.01" r="1.1" fill="#3a8cc0"/>
<circle cx="490.6" cy="60.02" r="1.1" fill="#3a8cc0"/>
<circle cx="488.8" cy="62.03" r="1.1" fill="#3a8cc0"/>
<circle cx="487.0" cy="59.22" r="1.1" fill="#3a8cc0"/>
<circle cx="496.1" cy="59.22" r="1.1" fill="#3a8cc0"/>
<circle cx="494.3" cy="60.82" r="1.1" fill="#3a8cc0"/>
<circle cx="497.9" cy="63.24" r="1.1" fill="#3a8cc0"/>
<circle cx="496.1" cy="60.02" r="1.1" fill="#3a8cc0"/>
<line x1="466" y1="29.5" x2="496" y2="29.5" stroke="#444" stroke-width="0.75"/>
<text x="481.0" y="28.6" font-size="5.75" text-anchor="middle" fill="#333" stroke="#333" stroke-width="0.144" textLength="19.6" lengthAdjust="spacingAndGlyphs">&lt; 0.0001</text>
<line x1="459.1" y1="35.5" x2="488.6" y2="35.5" stroke="#444" stroke-width="0.75"/>
<text x="473.85" y="34.6" font-size="5.75" text-anchor="middle" fill="#333" stroke="#333" stroke-width="0.144" textLength="19.6" lengthAdjust="spacingAndGlyphs">&lt; 0.0001</text>
<line x1="451.3" y1="41.5" x2="481.6" y2="41.5" stroke="#444" stroke-width="0.75"/>
<text x="466.45000000000005" y="40.6" font-size="5.75" text-anchor="middle" fill="#333" stroke="#333" stroke-width="0.144" textLength="15.3" lengthAdjust="spacingAndGlyphs">0.0039</text>
<text x="450.5" y="47.4" font-size="5.75" text-anchor="middle" fill="#333" stroke="#333" stroke-width="0.144" textLength="19.6" lengthAdjust="spacingAndGlyphs">&lt; 0.0001</text>
<path d="M443.6 52 V48.6 H458.3 V56.9" fill="none" stroke="#555" stroke-width="0.6"/>
<line x1="451.3" y1="56.9" x2="465.2" y2="56.9" stroke="#555" stroke-width="0.6"/>
<line x1="32.1" y1="167.8" x2="32.1" y2="240" stroke="#1a1a1a" stroke-width="1.4"/>
<line x1="32.1" y1="240" x2="120.8" y2="240" stroke="#1a1a1a" stroke-width="1.4"/>
<line x1="29.8" y1="240.0" x2="32.1" y2="240.0" stroke="#1a1a1a" stroke-width="0.8"/>
<text x="27.0" y="241.8" font-size="5.75" text-anchor="end" fill="#333" stroke="#333" stroke-width="0.144" textLength="2.78" lengthAdjust="spacingAndGlyphs">0</text>
<line x1="29.8" y1="222.2" x2="32.1" y2="222.2" stroke="#1a1a1a" stroke-width="0.8"/>
<text x="27.0" y="224.0" font-size="5.75" text-anchor="end" fill="#333" stroke="#333" stroke-width="0.144" textLength="2.78" lengthAdjust="spacingAndGlyphs">2</text>
<line x1="29.8" y1="204.4" x2="32.1" y2="204.4" stroke="#1a1a1a" stroke-width="0.8"/>
<text x="27.0" y="206.20000000000002" font-size="5.75" text-anchor="end" fill="#333" stroke="#333" stroke-width="0.144" textLength="2.78" lengthAdjust="spacingAndGlyphs">4</text>
<line x1="29.8" y1="186.60000000000002" x2="32.1" y2="186.60000000000002" stroke="#1a1a1a" stroke-width="0.8"/>
<text x="27.0" y="188.40000000000003" font-size="5.75" text-anchor="end" fill="#333" stroke="#333" stroke-width="0.144" textLength="2.78" lengthAdjust="spacingAndGlyphs">6</text>
<line x1="29.8" y1="168.8" x2="32.1" y2="168.8" stroke="#1a1a1a" stroke-width="0.8"/>
<text x="27.0" y="170.60000000000002" font-size="5.75" text-anchor="end" fill="#333" stroke="#333" stroke-width="0.144" textLength="2.78" lengthAdjust="spacingAndGlyphs">8</text>
<text x="18.41" y="203.0" font-size="6.6" text-anchor="middle" fill="#333" stroke="#333" stroke-width="0.165" textLength="41.6" lengthAdjust="spacingAndGlyphs" transform="rotate(-90 18.41 203.0)">PB hCD45+ (%)</text>
<rect x="33.9" y="231.1" width="5.300000000000004" height="8.900000000000006" fill="#c8102e"/>
<rect x="41" y="231.1" width="5.200000000000003" height="8.900000000000006" fill="#f39200"/>
<rect x="52" y="231.1" width="5.5" height="8.900000000000006" fill="#c8102e"/>
<rect x="59.1" y="235.55" width="5.199999999999996" height="4.449999999999989" fill="#f39200"/>
<rect x="71.3" y="215.703" width="5.299999999999997" height="24.296999999999997" fill="#c8102e"/>
<rect x="78.1" y="237.33" width="5.300000000000011" height="2.6699999999999875" fill="#f39200"/>
<rect x="89.6" y="200.395" width="5.5" height="39.60499999999999" fill="#c8102e"/>
<rect x="96.6" y="238.665" width="5.200000000000003" height="1.335000000000008" fill="#f39200"/>
<rect x="108.4" y="196.39" width="5.5" height="43.610000000000014" fill="#c8102e"/>
<rect x="115.5" y="238.665" width="5.099999999999994" height="1.335000000000008" fill="#f39200"/>
<line x1="36.55" y1="231.1" x2="36.55" y2="229.76500000000001" stroke="#e58a8a" stroke-width="0.6"/>
<line x1="35.25" y1="229.76500000000001" x2="37.849999999999994" y2="229.76500000000001" stroke="#e58a8a" stroke-width="0.6"/>
<line x1="43.6" y1="231.1" x2="43.6" y2="228.875" stroke="#f7c27a" stroke-width="0.6"/>
<line x1="42.300000000000004" y1="228.875" x2="44.9" y2="228.875" stroke="#f7c27a" stroke-width="0.6"/>
<line x1="54.75" y1="231.1" x2="54.75" y2="227.095" stroke="#e58a8a" stroke-width="0.6"/>
<line x1="53.45" y1="227.095" x2="56.05" y2="227.095" stroke="#e58a8a" stroke-width="0.6"/>
<line x1="61.7" y1="235.55" x2="61.7" y2="233.77" stroke="#f7c27a" stroke-width="0.6"/>
<line x1="60.400000000000006" y1="233.77" x2="63.0" y2="233.77" stroke="#f7c27a" stroke-width="0.6"/>
<line x1="73.94999999999999" y1="215.703" x2="73.94999999999999" y2="205.735" stroke="#e58a8a" stroke-width="0.6"/>
<line x1="72.64999999999999" y1="205.735" x2="75.24999999999999" y2="205.735" stroke="#e58a8a" stroke-width="0.6"/>
<line x1="80.75" y1="237.33" x2="80.75" y2="236.44" stroke="#f7c27a" stroke-width="0.6"/>
<line x1="79.45" y1="236.44" x2="82.05" y2="236.44" stroke="#f7c27a" stroke-width="0.6"/>
<line x1="92.35" y1="200.395" x2="92.35" y2="191.94" stroke="#e58a8a" stroke-width="0.6"/>
<line x1="91.05" y1="191.94" x2="93.64999999999999" y2="191.94" stroke="#e58a8a" stroke-width="0.6"/>
<line x1="99.19999999999999" y1="238.665" x2="99.19999999999999" y2="238.22" stroke="#f7c27a" stroke-width="0.6"/>
<line x1="97.89999999999999" y1="238.22" x2="100.49999999999999" y2="238.22" stroke="#f7c27a" stroke-width="0.6"/>
<line x1="111.15" y1="196.39" x2="111.15" y2="185.71" stroke="#e58a8a" stroke-width="0.6"/>
<line x1="109.85000000000001" y1="185.71" x2="112.45" y2="185.71" stroke="#e58a8a" stroke-width="0.6"/>
<line x1="118.05" y1="238.665" x2="118.05" y2="238.22" stroke="#f7c27a" stroke-width="0.6"/>
<line x1="116.75" y1="238.22" x2="119.35" y2="238.22" stroke="#f7c27a" stroke-width="0.6"/>
<circle cx="36.94" cy="231.99" r="1.15" fill="#f5b3b3"/>
<circle cx="37.46" cy="230.21" r="1.15" fill="#f5b3b3"/>
<circle cx="36.44" cy="231.1" r="1.15" fill="#f5b3b3"/>
<circle cx="44.65" cy="229.32" r="1.1" fill="#fbd39a"/>
<circle cx="44.77" cy="230.21" r="1.1" fill="#fbd39a"/>
<circle cx="44.69" cy="231.1" r="1.1" fill="#fbd39a"/>
<circle cx="54.48" cy="227.09" r="1.15" fill="#f5b3b3"/>
<circle cx="54.19" cy="231.1" r="1.15" fill="#f5b3b3"/>
<circle cx="54.2" cy="231.55" r="1.15" fill="#f5b3b3"/>
<circle cx="60.97" cy="233.77" r="1.1" fill="#fbd39a"/>
<circle cx="60.99" cy="236.44" r="1.1" fill="#fbd39a"/>
<circle cx="62.0" cy="237.33" r="1.1" fill="#fbd39a"/>
<circle cx="74.75" cy="205.74" r="1.15" fill="#f5b3b3"/>
<circle cx="74.63" cy="210.63" r="1.15" fill="#f5b3b3"/>
<circle cx="73.91" cy="217.75" r="1.15" fill="#f5b3b3"/>
<circle cx="74.26" cy="221.31" r="1.15" fill="#f5b3b3"/>
<circle cx="81.47" cy="236.88" r="1.1" fill="#fbd39a"/>
<circle cx="79.75" cy="238.22" r="1.1" fill="#fbd39a"/>
<circle cx="92.67" cy="191.94" r="1.15" fill="#f5b3b3"/>
<circle cx="93.17" cy="200.84" r="1.15" fill="#f5b3b3"/>
<circle cx="92.91" cy="206.18" r="1.15" fill="#f5b3b3"/>
<circle cx="99.8" cy="238.66" r="1.1" fill="#fbd39a"/>
<circle cx="99.15" cy="239.11" r="1.1" fill="#fbd39a"/>
<circle cx="110.51" cy="185.71" r="1.15" fill="#f5b3b3"/>
<circle cx="111.73" cy="196.39" r="1.15" fill="#f5b3b3"/>
<circle cx="110.82" cy="210.63" r="1.15" fill="#f5b3b3"/>
<circle cx="118.77" cy="238.66" r="1.1" fill="#fbd39a"/>
<circle cx="119.18" cy="239.11" r="1.1" fill="#fbd39a"/>
<line x1="40.05" y1="240" x2="40.05" y2="242.6" stroke="#1a1a1a" stroke-width="0.8"/>
<text x="40.05" y="251.8" font-size="5.75" text-anchor="middle" fill="#333" stroke="#333" stroke-width="0.144" textLength="2.78" lengthAdjust="spacingAndGlyphs">0</text>
<line x1="58.15" y1="240" x2="58.15" y2="242.6" stroke="#1a1a1a" stroke-width="0.8"/>
<text x="58.15" y="251.8" font-size="5.75" text-anchor="middle" fill="#333" stroke="#333" stroke-width="0.144" textLength="2.78" lengthAdjust="spacingAndGlyphs">1</text>
<line x1="77.35" y1="240" x2="77.35" y2="242.6" stroke="#1a1a1a" stroke-width="0.8"/>
<text x="77.35" y="251.8" font-size="5.75" text-anchor="middle" fill="#333" stroke="#333" stroke-width="0.144" textLength="2.78" lengthAdjust="spacingAndGlyphs">2</text>
<line x1="95.69999999999999" y1="240" x2="95.69999999999999" y2="242.6" stroke="#1a1a1a" stroke-width="0.8"/>
<text x="95.69999999999999" y="251.8" font-size="5.75" text-anchor="middle" fill="#333" stroke="#333" stroke-width="0.144" textLength="2.78" lengthAdjust="spacingAndGlyphs">3</text>
<line x1="114.5" y1="240" x2="114.5" y2="242.6" stroke="#1a1a1a" stroke-width="0.8"/>
<text x="114.5" y="251.8" font-size="5.75" text-anchor="middle" fill="#333" stroke="#333" stroke-width="0.144" textLength="2.78" lengthAdjust="spacingAndGlyphs">4</text>
<text x="76.6" y="260.2" font-size="7.36" text-anchor="middle" fill="#333" stroke="#333" stroke-width="0.184" textLength="50" lengthAdjust="spacingAndGlyphs">Weeks of treatment</text>
<rect x="36.3" y="168.0" width="3.3" height="3.3" fill="#c8102e"/>
<text x="42" y="171.3" font-size="5.75" text-anchor="start" fill="#333" stroke="#333" stroke-width="0.144" textLength="16.5" lengthAdjust="spacingAndGlyphs">Vehicle</text>
<rect x="36.3" y="174.2" width="3.3" height="3.3" fill="#f39200"/>
<text x="42" y="177.6" font-size="5.75" text-anchor="start" fill="#333" stroke="#333" stroke-width="0.144" textLength="21" lengthAdjust="spacingAndGlyphs">CA-4948</text>
<line x1="68.6" y1="168.4" x2="68.6" y2="180" stroke="#333" stroke-width="0.6"/>
<text x="70.8" y="176.2" font-size="5.75" text-anchor="start" fill="#333" stroke="#333" stroke-width="0.144" textLength="16.2" lengthAdjust="spacingAndGlyphs">0.0001</text>
<line x1="157.7" y1="167.4" x2="157.7" y2="240" stroke="#1a1a1a" stroke-width="1.4"/>
<line x1="157.7" y1="240" x2="186.2" y2="240" stroke="#1a1a1a" stroke-width="1.4"/>
<line x1="155.2" y1="240.0" x2="157.7" y2="240.0" stroke="#1a1a1a" stroke-width="0.8"/>
<text x="152.4" y="241.8" font-size="5.75" text-anchor="end" fill="#333" stroke="#333" stroke-width="0.144" textLength="2.78" lengthAdjust="spacingAndGlyphs">0</text>
<line x1="155.2" y1="222.0" x2="157.7" y2="222.0" stroke="#1a1a1a" stroke-width="0.8"/>
<text x="152.4" y="223.8" font-size="5.75" text-anchor="end" fill="#333" stroke="#333" stroke-width="0.144" textLength="2.78" lengthAdjust="spacingAndGlyphs">1</text>
<line x1="155.2" y1="204.0" x2="157.7" y2="204.0" stroke="#1a1a1a" stroke-width="0.8"/>
<text x="152.4" y="205.8" font-size="5.75" text-anchor="end" fill="#333" stroke="#333" stroke-width="0.144" textLength="2.78" lengthAdjust="spacingAndGlyphs">2</text>
<line x1="155.2" y1="186.0" x2="157.7" y2="186.0" stroke="#1a1a1a" stroke-width="0.8"/>
<text x="152.4" y="187.8" font-size="5.75" text-anchor="end" fill="#333" stroke="#333" stroke-width="0.144" textLength="2.78" lengthAdjust="spacingAndGlyphs">3</text>
<line x1="155.2" y1="168.0" x2="157.7" y2="168.0" stroke="#1a1a1a" stroke-width="0.8"/>
<text x="152.4" y="169.8" font-size="5.75" text-anchor="end" fill="#333" stroke="#333" stroke-width="0.144" textLength="2.78" lengthAdjust="spacingAndGlyphs">4</text>
<text x="143.91" y="202.45" font-size="6.6" text-anchor="middle" fill="#333" stroke="#333" stroke-width="0.165" textLength="41.5" lengthAdjust="spacingAndGlyphs" transform="rotate(-90 143.91 202.45)">BM hCD45+ (%)</text>
<rect x="160.2" y="200.2" width="10.5" height="39.80000000000001" fill="#c8102e"/>
<rect x="173.1" y="226.7" width="10.900000000000006" height="13.300000000000011" fill="#f39200"/>
<line x1="165.45" y1="200.2" x2="165.45" y2="191.4" stroke="#e58a8a" stroke-width="0.6"/>
<line x1="163.85" y1="191.4" x2="167.04999999999998" y2="191.4" stroke="#e58a8a" stroke-width="0.6"/>
<circle cx="165.14" cy="191.4" r="1.3" fill="#f5b3b3"/>
<circle cx="165.15" cy="195.0" r="1.3" fill="#f5b3b3"/>
<circle cx="166.79" cy="211.2" r="1.3" fill="#f5b3b3"/>
<circle cx="166.12" cy="198.6" r="1.3" fill="#f5b3b3"/>
<circle cx="176.52" cy="227.04" r="0.9" fill="#fbd39a"/>
<circle cx="176.26" cy="227.4" r="0.9" fill="#fbd39a"/>
<circle cx="176.41" cy="227.76" r="0.9" fill="#fbd39a"/>
<circle cx="180.93" cy="227.04" r="0.9" fill="#fbd39a"/>
<circle cx="180.34" cy="227.4" r="0.9" fill="#fbd39a"/>
<line x1="165.45" y1="240" x2="165.45" y2="242.8" stroke="#1a1a1a" stroke-width="0.8"/>
<text x="168.35" y="247.0" font-size="6.32" text-anchor="end" fill="#333" stroke="#333" stroke-width="0.158" textLength="17.74" lengthAdjust="spacingAndGlyphs" transform="rotate(-45 168.35 247.0)">Vehicle</text>
<line x1="178.5" y1="240" x2="178.5" y2="242.8" stroke="#1a1a1a" stroke-width="0.8"/>
<text x="181.4" y="247.0" font-size="6.32" text-anchor="end" fill="#333" stroke="#333" stroke-width="0.158" textLength="21.71" lengthAdjust="spacingAndGlyphs" transform="rotate(-45 181.4 247.0)">CA-4948</text>
<line x1="164" y1="168.5" x2="179.5" y2="168.5" stroke="#444" stroke-width="0.75"/>
<text x="171.75" y="167.5" font-size="5.52" text-anchor="middle" fill="#333" stroke="#333" stroke-width="0.138" textLength="14.69" lengthAdjust="spacingAndGlyphs">0.0007</text>
<line x1="230.7" y1="168.2" x2="230.7" y2="240" stroke="#1a1a1a" stroke-width="1.4"/>
<line x1="230.7" y1="240" x2="258.8" y2="240" stroke="#1a1a1a" stroke-width="1.4"/>
<line x1="228.2" y1="240.0" x2="230.7" y2="240.0" stroke="#1a1a1a" stroke-width="0.8"/>
<text x="224.6" y="241.8" font-size="5.75" text-anchor="end" fill="#333" stroke="#333" stroke-width="0.144" textLength="12.51" lengthAdjust="spacingAndGlyphs">0.000</text>
<line x1="228.2" y1="225.75" x2="230.7" y2="225.75" stroke="#1a1a1a" stroke-width="0.8"/>
<text x="224.6" y="227.55" font-size="5.75" text-anchor="end" fill="#333" stroke="#333" stroke-width="0.144" textLength="12.51" lengthAdjust="spacingAndGlyphs">0.001</text>
<line x1="228.2" y1="211.5" x2="230.7" y2="211.5" stroke="#1a1a1a" stroke-width="0.8"/>
<text x="224.6" y="213.3" font-size="5.75" text-anchor="end" fill="#333" stroke="#333" stroke-width="0.144" textLength="12.51" lengthAdjust="spacingAndGlyphs">0.002</text>
<line x1="228.2" y1="197.25" x2="230.7" y2="197.25" stroke="#1a1a1a" stroke-width="0.8"/>
<text x="224.6" y="199.05" font-size="5.75" text-anchor="end" fill="#333" stroke="#333" stroke-width="0.144" textLength="12.51" lengthAdjust="spacingAndGlyphs">0.003</text>
<line x1="228.2" y1="183.0" x2="230.7" y2="183.0" stroke="#1a1a1a" stroke-width="0.8"/>
<text x="224.6" y="184.8" font-size="5.75" text-anchor="end" fill="#333" stroke="#333" stroke-width="0.144" textLength="12.51" lengthAdjust="spacingAndGlyphs">0.004</text>
<line x1="228.2" y1="168.75" x2="230.7" y2="168.75" stroke="#1a1a1a" stroke-width="0.8"/>
<text x="224.6" y="170.55" font-size="5.75" text-anchor="end" fill="#333" stroke="#333" stroke-width="0.144" textLength="12.51" lengthAdjust="spacingAndGlyphs">0.005</text>
<text x="205.98" y="202.45" font-size="7.23" text-anchor="middle" fill="#333" stroke="#333" stroke-width="0.181" textLength="67.9" lengthAdjust="spacingAndGlyphs" transform="rotate(-90 205.98 202.45)">Normalized spleen weight</text>
<rect x="233.6" y="202.5" width="10.700000000000017" height="37.5" fill="#c8102e"/>
<rect x="246.3" y="218.3" width="10.699999999999989" height="21.69999999999999" fill="#f39200"/>
<line x1="238.95" y1="202.5" x2="238.95" y2="188" stroke="#e58a8a" stroke-width="0.6"/>
<line x1="237.35" y1="188" x2="240.54999999999998" y2="188" stroke="#e58a8a" stroke-width="0.6"/>
<circle cx="238.24" cy="184.43" r="1.3" fill="#f5b3b3"/>
<circle cx="239.6" cy="194.4" r="1.3" fill="#f5b3b3"/>
<circle cx="239.91" cy="207.22" r="1.3" fill="#f5b3b3"/>
<circle cx="239.26" cy="217.2" r="1.3" fill="#f5b3b3"/>
<circle cx="250.7" cy="217.2" r="0.9" fill="#fbd39a"/>
<circle cx="251.89" cy="218.62" r="0.9" fill="#fbd39a"/>
<circle cx="249.39" cy="217.91" r="0.9" fill="#fbd39a"/>
<circle cx="248.69" cy="217.2" r="0.9" fill="#fbd39a"/>
<line x1="238.95" y1="240" x2="238.95" y2="242.8" stroke="#1a1a1a" stroke-width="0.8"/>
<text x="241.85" y="247.0" font-size="6.32" text-anchor="end" fill="#333" stroke="#333" stroke-width="0.158" textLength="17.74" lengthAdjust="spacingAndGlyphs" transform="rotate(-45 241.85 247.0)">Vehicle</text>
<line x1="251.6" y1="240" x2="251.6" y2="242.8" stroke="#1a1a1a" stroke-width="0.8"/>
<text x="254.5" y="247.0" font-size="6.32" text-anchor="end" fill="#333" stroke="#333" stroke-width="0.158" textLength="21.71" lengthAdjust="spacingAndGlyphs" transform="rotate(-45 254.5 247.0)">CA-4948</text>
<line x1="237" y1="168.5" x2="250" y2="168.5" stroke="#444" stroke-width="0.75"/>
<text x="243.5" y="167.5" font-size="5.52" text-anchor="middle" fill="#333" stroke="#333" stroke-width="0.138" textLength="12.02" lengthAdjust="spacingAndGlyphs">0.066</text>
<line x1="32.1" y1="292.8" x2="32.1" y2="364.2" stroke="#1a1a1a" stroke-width="1.4"/>
<line x1="32.1" y1="364.2" x2="120.8" y2="364.2" stroke="#1a1a1a" stroke-width="1.4"/>
<line x1="29.8" y1="364.2" x2="32.1" y2="364.2" stroke="#1a1a1a" stroke-width="0.8"/>
<text x="27.0" y="366.0" font-size="5.75" text-anchor="end" fill="#333" stroke="#333" stroke-width="0.144" textLength="2.78" lengthAdjust="spacingAndGlyphs">0</text>
<line x1="29.8" y1="346.5" x2="32.1" y2="346.5" stroke="#1a1a1a" stroke-width="0.8"/>
<text x="27.0" y="348.3" font-size="5.75" text-anchor="end" fill="#333" stroke="#333" stroke-width="0.144" textLength="5.56" lengthAdjust="spacingAndGlyphs">10</text>
<line x1="29.8" y1="328.79999999999995" x2="32.1" y2="328.79999999999995" stroke="#1a1a1a" stroke-width="0.8"/>
<text x="27.0" y="330.59999999999997" font-size="5.75" text-anchor="end" fill="#333" stroke="#333" stroke-width="0.144" textLength="5.56" lengthAdjust="spacingAndGlyphs">20</text>
<line x1="29.8" y1="311.09999999999997" x2="32.1" y2="311.09999999999997" stroke="#1a1a1a" stroke-width="0.8"/>
<text x="27.0" y="312.9" font-size="5.75" text-anchor="end" fill="#333" stroke="#333" stroke-width="0.144" textLength="5.56" lengthAdjust="spacingAndGlyphs">30</text>
<line x1="29.8" y1="293.4" x2="32.1" y2="293.4" stroke="#1a1a1a" stroke-width="0.8"/>
<text x="27.0" y="295.2" font-size="5.75" text-anchor="end" fill="#333" stroke="#333" stroke-width="0.144" textLength="5.56" lengthAdjust="spacingAndGlyphs">40</text>
<text x="15.96" y="326.25" font-size="7.34" text-anchor="middle" fill="#333" stroke="#333" stroke-width="0.183" textLength="45.1" lengthAdjust="spacingAndGlyphs" transform="rotate(-90 15.96 326.25)">PB hCD45+ (%)</text>
<rect x="33.9" y="351.279" width="5.300000000000004" height="12.920999999999992" fill="#c8102e"/>
<rect x="41" y="351.81" width="5.200000000000003" height="12.389999999999986" fill="#f39200"/>
<rect x="52" y="336.234" width="5.5" height="27.966000000000008" fill="#c8102e"/>
<rect x="59.1" y="357.12" width="5.199999999999996" height="7.079999999999984" fill="#f39200"/>
<rect x="71.3" y="336.234" width="5.299999999999997" height="27.966000000000008" fill="#c8102e"/>
<rect x="78.1" y="357.474" width="5.300000000000011" height="6.725999999999999" fill="#f39200"/>
<rect x="89.6" y="320.835" width="5.5" height="43.36500000000001" fill="#c8102e"/>
<rect x="96.6" y="357.12" width="5.200000000000003" height="7.079999999999984" fill="#f39200"/>
<rect x="108.4" y="311.09999999999997" width="5.5" height="53.10000000000002" fill="#c8102e"/>
<rect x="115.5" y="355.704" width="5.099999999999994" height="8.495999999999981" fill="#f39200"/>
<line x1="36.55" y1="351.279" x2="36.55" y2="347.385" stroke="#e58a8a" stroke-width="0.6"/>
<line x1="35.25" y1="347.385" x2="37.849999999999994" y2="347.385" stroke="#e58a8a" stroke-width="0.6"/>
<line x1="43.6" y1="351.81" x2="43.6" y2="347.385" stroke="#f7c27a" stroke-width="0.6"/>
<line x1="42.300000000000004" y1="347.385" x2="44.9" y2="347.385" stroke="#f7c27a" stroke-width="0.6"/>
<line x1="54.75" y1="336.234" x2="54.75" y2="321.71999999999997" stroke="#e58a8a" stroke-width="0.6"/>
<line x1="53.45" y1="321.71999999999997" x2="56.05" y2="321.71999999999997" stroke="#e58a8a" stroke-width="0.6"/>
<line x1="61.7" y1="357.12" x2="61.7" y2="350.03999999999996" stroke="#f7c27a" stroke-width="0.6"/>
<line x1="60.400000000000006" y1="350.03999999999996" x2="63.0" y2="350.03999999999996" stroke="#f7c27a" stroke-width="0.6"/>
<line x1="73.94999999999999" y1="336.234" x2="73.94999999999999" y2="323.49" stroke="#e58a8a" stroke-width="0.6"/>
<line x1="72.64999999999999" y1="323.49" x2="75.24999999999999" y2="323.49" stroke="#e58a8a" stroke-width="0.6"/>
<line x1="80.75" y1="357.474" x2="80.75" y2="344.72999999999996" stroke="#f7c27a" stroke-width="0.6"/>
<line x1="79.45" y1="344.72999999999996" x2="82.05" y2="344.72999999999996" stroke="#f7c27a" stroke-width="0.6"/>
<line x1="92.35" y1="320.835" x2="92.35" y2="302.25" stroke="#e58a8a" stroke-width="0.6"/>
<line x1="91.05" y1="302.25" x2="93.64999999999999" y2="302.25" stroke="#e58a8a" stroke-width="0.6"/>
<line x1="99.19999999999999" y1="357.12" x2="99.19999999999999" y2="350.03999999999996" stroke="#f7c27a" stroke-width="0.6"/>
<line x1="97.89999999999999" y1="350.03999999999996" x2="100.49999999999999" y2="350.03999999999996" stroke="#f7c27a" stroke-width="0.6"/>
<line x1="111.15" y1="311.09999999999997" x2="111.15" y2="304.02" stroke="#e58a8a" stroke-width="0.6"/>
<line x1="109.85000000000001" y1="304.02" x2="112.45" y2="304.02" stroke="#e58a8a" stroke-width="0.6"/>
<line x1="118.05" y1="355.704" x2="118.05" y2="344.72999999999996" stroke="#f7c27a" stroke-width="0.6"/>
<line x1="116.75" y1="344.72999999999996" x2="119.35" y2="344.72999999999996" stroke="#f7c27a" stroke-width="0.6"/>
<circle cx="37.49" cy="347.38" r="1.15" fill="#f5b3b3"/>
<circle cx="36.85" cy="351.81" r="1.15" fill="#f5b3b3"/>
<circle cx="36.6" cy="355.35" r="1.15" fill="#f5b3b3"/>
<circle cx="44.64" cy="347.38" r="1.1" fill="#fbd39a"/>
<circle cx="43.44" cy="351.81" r="1.1" fill="#fbd39a"/>
<circle cx="44.49" cy="353.58" r="1.1" fill="#fbd39a"/>
<circle cx="55.4" cy="321.72" r="1.15" fill="#f5b3b3"/>
<circle cx="54.17" cy="335.88" r="1.15" fill="#f5b3b3"/>
<circle cx="54.25" cy="346.5" r="1.15" fill="#f5b3b3"/>
<circle cx="61.2" cy="350.04" r="1.1" fill="#fbd39a"/>
<circle cx="61.08" cy="353.58" r="1.1" fill="#fbd39a"/>
<circle cx="61.91" cy="359.77" r="1.1" fill="#fbd39a"/>
<circle cx="73.47" cy="323.49" r="1.15" fill="#f5b3b3"/>
<circle cx="73.79" cy="335.88" r="1.15" fill="#f5b3b3"/>
<circle cx="73.21" cy="341.19" r="1.15" fill="#f5b3b3"/>
<circle cx="74.77" cy="339.42" r="1.15" fill="#f5b3b3"/>
<circle cx="80.4" cy="344.73" r="1.1" fill="#fbd39a"/>
<circle cx="80.65" cy="358.0" r="1.1" fill="#fbd39a"/>
<circle cx="80.95" cy="360.66" r="1.1" fill="#fbd39a"/>
<circle cx="93.16" cy="302.25" r="1.15" fill="#f5b3b3"/>
<circle cx="92.19" cy="314.64" r="1.15" fill="#f5b3b3"/>
<circle cx="93.19" cy="325.26" r="1.15" fill="#f5b3b3"/>
<circle cx="92.35" cy="342.96" r="1.15" fill="#f5b3b3"/>
<circle cx="99.28" cy="350.04" r="1.1" fill="#fbd39a"/>
<circle cx="99.26" cy="355.35" r="1.1" fill="#fbd39a"/>
<circle cx="98.04" cy="358.89" r="1.1" fill="#fbd39a"/>
<circle cx="111.03" cy="305.79" r="1.15" fill="#f5b3b3"/>
<circle cx="110.52" cy="307.56" r="1.15" fill="#f5b3b3"/>
<circle cx="110.16" cy="319.95" r="1.15" fill="#f5b3b3"/>
<circle cx="111.75" cy="309.33" r="1.15" fill="#f5b3b3"/>
<circle cx="117.26" cy="344.73" r="1.1" fill="#fbd39a"/>
<circle cx="117.99" cy="355.35" r="1.1" fill="#fbd39a"/>
<circle cx="118.59" cy="358.0" r="1.1" fill="#fbd39a"/>
<circle cx="118.19" cy="360.66" r="1.1" fill="#fbd39a"/>
<line x1="40.05" y1="364.2" x2="40.05" y2="366.8" stroke="#1a1a1a" stroke-width="0.8"/>
<text x="40.05" y="375.6" font-size="5.75" text-anchor="middle" fill="#333" stroke="#333" stroke-width="0.144" textLength="2.78" lengthAdjust="spacingAndGlyphs">0</text>
<line x1="58.15" y1="364.2" x2="58.15" y2="366.8" stroke="#1a1a1a" stroke-width="0.8"/>
<text x="58.15" y="375.6" font-size="5.75" text-anchor="middle" fill="#333" stroke="#333" stroke-width="0.144" textLength="2.78" lengthAdjust="spacingAndGlyphs">1</text>
<line x1="77.35" y1="364.2" x2="77.35" y2="366.8" stroke="#1a1a1a" stroke-width="0.8"/>
<text x="77.35" y="375.6" font-size="5.75" text-anchor="middle" fill="#333" stroke="#333" stroke-width="0.144" textLength="2.78" lengthAdjust="spacingAndGlyphs">2</text>
<line x1="95.69999999999999" y1="364.2" x2="95.69999999999999" y2="366.8" stroke="#1a1a1a" stroke-width="0.8"/>
<text x="95.69999999999999" y="375.6" font-size="5.75" text-anchor="middle" fill="#333" stroke="#333" stroke-width="0.144" textLength="2.78" lengthAdjust="spacingAndGlyphs">3</text>
<line x1="114.5" y1="364.2" x2="114.5" y2="366.8" stroke="#1a1a1a" stroke-width="0.8"/>
<text x="114.5" y="375.6" font-size="5.75" text-anchor="middle" fill="#333" stroke="#333" stroke-width="0.144" textLength="2.78" lengthAdjust="spacingAndGlyphs">4</text>
<text x="76.6" y="384.5" font-size="7.36" text-anchor="middle" fill="#333" stroke="#333" stroke-width="0.184" textLength="50" lengthAdjust="spacingAndGlyphs">Weeks of treatment</text>
<rect x="36.3" y="292.3" width="3.3" height="3.3" fill="#c8102e"/>
<text x="42" y="295.5" font-size="5.75" text-anchor="start" fill="#333" stroke="#333" stroke-width="0.144" textLength="16.5" lengthAdjust="spacingAndGlyphs">Vehicle</text>
<rect x="36.3" y="299.1" width="3.3" height="3.3" fill="#f39200"/>
<text x="42" y="302.5" font-size="5.75" text-anchor="start" fill="#333" stroke="#333" stroke-width="0.144" textLength="21" lengthAdjust="spacingAndGlyphs">CA-4948</text>
<line x1="67" y1="292.7" x2="67" y2="303.8" stroke="#333" stroke-width="0.6"/>
<text x="69.3" y="300.1" font-size="5.75" text-anchor="start" fill="#333" stroke="#333" stroke-width="0.144" textLength="16" lengthAdjust="spacingAndGlyphs">0.0015</text>
<line x1="157.7" y1="292.7" x2="157.7" y2="364.5" stroke="#1a1a1a" stroke-width="1.4"/>
<line x1="157.7" y1="364.5" x2="186" y2="364.5" stroke="#1a1a1a" stroke-width="1.4"/>
<line x1="155.2" y1="364.5" x2="157.7" y2="364.5" stroke="#1a1a1a" stroke-width="0.8"/>
<text x="152.4" y="366.3" font-size="5.75" text-anchor="end" fill="#333" stroke="#333" stroke-width="0.144" textLength="2.78" lengthAdjust="spacingAndGlyphs">0</text>
<line x1="155.2" y1="350.26" x2="157.7" y2="350.26" stroke="#1a1a1a" stroke-width="0.8"/>
<text x="152.4" y="352.06" font-size="5.75" text-anchor="end" fill="#333" stroke="#333" stroke-width="0.144" textLength="5.56" lengthAdjust="spacingAndGlyphs">10</text>
<line x1="155.2" y1="336.02" x2="157.7" y2="336.02" stroke="#1a1a1a" stroke-width="0.8"/>
<text x="152.4" y="337.82" font-size="5.75" text-anchor="end" fill="#333" stroke="#333" stroke-width="0.144" textLength="5.56" lengthAdjust="spacingAndGlyphs">20</text>
<line x1="155.2" y1="321.78000000000003" x2="157.7" y2="321.78000000000003" stroke="#1a1a1a" stroke-width="0.8"/>
<text x="152.4" y="323.58000000000004" font-size="5.75" text-anchor="end" fill="#333" stroke="#333" stroke-width="0.144" textLength="5.56" lengthAdjust="spacingAndGlyphs">30</text>
<line x1="155.2" y1="307.54" x2="157.7" y2="307.54" stroke="#1a1a1a" stroke-width="0.8"/>
<text x="152.4" y="309.34000000000003" font-size="5.75" text-anchor="end" fill="#333" stroke="#333" stroke-width="0.144" textLength="5.56" lengthAdjust="spacingAndGlyphs">40</text>
<line x1="155.2" y1="293.3" x2="157.7" y2="293.3" stroke="#1a1a1a" stroke-width="0.8"/>
<text x="152.4" y="295.1" font-size="5.75" text-anchor="end" fill="#333" stroke="#333" stroke-width="0.144" textLength="5.56" lengthAdjust="spacingAndGlyphs">50</text>
<text x="141.1" y="327.0" font-size="6.18" text-anchor="middle" fill="#333" stroke="#333" stroke-width="0.154" textLength="43.6" lengthAdjust="spacingAndGlyphs" transform="rotate(-90 141.1 327.0)">BM hCD45+ (%)</text>
<rect x="160" y="315.5" width="11.199999999999989" height="49.0" fill="#c8102e"/>
<rect x="173.2" y="355" width="11.0" height="9.5" fill="#f39200"/>
<line x1="165.6" y1="315.5" x2="165.6" y2="305.5" stroke="#e58a8a" stroke-width="0.6"/>
<line x1="164.0" y1="305.5" x2="167.2" y2="305.5" stroke="#e58a8a" stroke-width="0.6"/>
<circle cx="164.73" cy="301.84" r="1.3" fill="#f5b3b3"/>
<circle cx="165.69" cy="314.66" r="1.3" fill="#f5b3b3"/>
<circle cx="165.88" cy="317.51" r="1.3" fill="#f5b3b3"/>
<circle cx="167.02" cy="316.08" r="1.3" fill="#f5b3b3"/>
<circle cx="176.73" cy="347.41" r="1.2" fill="#fbd39a"/>
<circle cx="179.0" cy="351.68" r="1.2" fill="#fbd39a"/>
<circle cx="177.44" cy="357.38" r="1.2" fill="#fbd39a"/>
<circle cx="177.58" cy="357.38" r="1.2" fill="#fbd39a"/>
<line x1="178.7" y1="355" x2="178.7" y2="349" stroke="#f7c27a" stroke-width="0.6"/>
<line x1="177.1" y1="349" x2="180.29999999999998" y2="349" stroke="#f7c27a" stroke-width="0.6"/>
<line x1="165.6" y1="364.5" x2="165.6" y2="367.3" stroke="#1a1a1a" stroke-width="0.8"/>
<text x="168.5" y="371.5" font-size="6.32" text-anchor="end" fill="#333" stroke="#333" stroke-width="0.158" textLength="17.74" lengthAdjust="spacingAndGlyphs" transform="rotate(-45 168.5 371.5)">Vehicle</text>
<line x1="178.7" y1="364.5" x2="178.7" y2="367.3" stroke="#1a1a1a" stroke-width="0.8"/>
<text x="181.6" y="371.5" font-size="6.32" text-anchor="end" fill="#333" stroke="#333" stroke-width="0.158" textLength="21.71" lengthAdjust="spacingAndGlyphs" transform="rotate(-45 181.6 371.5)">CA-4948</text>
<line x1="164.5" y1="292.5" x2="177.5" y2="292.5" stroke="#444" stroke-width="0.75"/>
<text x="171.0" y="291.5" font-size="5.52" text-anchor="middle" fill="#333" stroke="#333" stroke-width="0.138" textLength="12.02" lengthAdjust="spacingAndGlyphs">0.003</text>
<line x1="230.7" y1="293.1" x2="230.7" y2="364.5" stroke="#1a1a1a" stroke-width="1.4"/>
<line x1="230.7" y1="364.5" x2="258.8" y2="364.5" stroke="#1a1a1a" stroke-width="1.4"/>
<line x1="228.2" y1="364.5" x2="230.7" y2="364.5" stroke="#1a1a1a" stroke-width="0.8"/>
<text x="224.3" y="366.3" font-size="5.75" text-anchor="end" fill="#333" stroke="#333" stroke-width="0.144" textLength="12.51" lengthAdjust="spacingAndGlyphs">0.000</text>
<line x1="228.2" y1="350.34" x2="230.7" y2="350.34" stroke="#1a1a1a" stroke-width="0.8"/>
<text x="224.3" y="352.14" font-size="5.75" text-anchor="end" fill="#333" stroke="#333" stroke-width="0.144" textLength="12.51" lengthAdjust="spacingAndGlyphs">0.002</text>
<line x1="228.2" y1="336.18" x2="230.7" y2="336.18" stroke="#1a1a1a" stroke-width="0.8"/>
<text x="224.3" y="337.98" font-size="5.75" text-anchor="end" fill="#333" stroke="#333" stroke-width="0.144" textLength="12.51" lengthAdjust="spacingAndGlyphs">0.004</text>
<line x1="228.2" y1="322.02" x2="230.7" y2="322.02" stroke="#1a1a1a" stroke-width="0.8"/>
<text x="224.3" y="323.82" font-size="5.75" text-anchor="end" fill="#333" stroke="#333" stroke-width="0.144" textLength="12.51" lengthAdjust="spacingAndGlyphs">0.006</text>
<line x1="228.2" y1="307.86" x2="230.7" y2="307.86" stroke="#1a1a1a" stroke-width="0.8"/>
<text x="224.3" y="309.66" font-size="5.75" text-anchor="end" fill="#333" stroke="#333" stroke-width="0.144" textLength="12.51" lengthAdjust="spacingAndGlyphs">0.008</text>
<line x1="228.2" y1="293.7" x2="230.7" y2="293.7" stroke="#1a1a1a" stroke-width="0.8"/>
<text x="224.3" y="295.5" font-size="5.75" text-anchor="end" fill="#333" stroke="#333" stroke-width="0.144" textLength="12.51" lengthAdjust="spacingAndGlyphs">0.010</text>
<text x="206.05" y="327.45" font-size="6.91" text-anchor="middle" fill="#333" stroke="#333" stroke-width="0.173" textLength="67.9" lengthAdjust="spacingAndGlyphs" transform="rotate(-90 206.05 327.45)">Normalized spleen weight</text>
<rect x="233.3" y="332" width="11.0" height="32.5" fill="#c8102e"/>
<rect x="246.3" y="353.2" width="10.699999999999989" height="11.300000000000011" fill="#f39200"/>
<line x1="238.8" y1="332" x2="238.8" y2="315" stroke="#e58a8a" stroke-width="0.6"/>
<line x1="237.20000000000002" y1="315" x2="240.4" y2="315" stroke="#e58a8a" stroke-width="0.6"/>
<circle cx="239.24" cy="309.98" r="1.3" fill="#f5b3b3"/>
<circle cx="238.81" cy="328.39" r="1.3" fill="#f5b3b3"/>
<circle cx="238.9" cy="341.14" r="1.3" fill="#f5b3b3"/>
<circle cx="239.22" cy="348.22" r="1.3" fill="#f5b3b3"/>
<circle cx="253.66" cy="351.76" r="1.2" fill="#fbd39a"/>
<circle cx="251.32" cy="356.0" r="1.2" fill="#fbd39a"/>
<circle cx="252.16" cy="354.59" r="1.2" fill="#fbd39a"/>
<line x1="251.6" y1="353.2" x2="251.6" y2="350" stroke="#f7c27a" stroke-width="0.6"/>
<line x1="250.0" y1="350" x2="253.2" y2="350" stroke="#f7c27a" stroke-width="0.6"/>
<line x1="238.8" y1="364.5" x2="238.8" y2="367.3" stroke="#1a1a1a" stroke-width="0.8"/>
<text x="241.7" y="371.5" font-size="6.32" text-anchor="end" fill="#333" stroke="#333" stroke-width="0.158" textLength="17.74" lengthAdjust="spacingAndGlyphs" transform="rotate(-45 241.7 371.5)">Vehicle</text>
<line x1="251.6" y1="364.5" x2="251.6" y2="367.3" stroke="#1a1a1a" stroke-width="0.8"/>
<text x="254.5" y="371.5" font-size="6.32" text-anchor="end" fill="#333" stroke="#333" stroke-width="0.158" textLength="21.71" lengthAdjust="spacingAndGlyphs" transform="rotate(-45 254.5 371.5)">CA-4948</text>
<line x1="236" y1="292.5" x2="250" y2="292.5" stroke="#444" stroke-width="0.75"/>
<text x="243.0" y="291.5" font-size="5.52" text-anchor="middle" fill="#333" stroke="#333" stroke-width="0.138" textLength="14.69" lengthAdjust="spacingAndGlyphs">0.0488</text>
<line x1="29.2" y1="434.6" x2="29.2" y2="508.8" stroke="#1a1a1a" stroke-width="1.4"/>
<line x1="29.2" y1="508.8" x2="121" y2="508.8" stroke="#1a1a1a" stroke-width="1.4"/>
<line x1="26.8" y1="508.8" x2="29.2" y2="508.8" stroke="#1a1a1a" stroke-width="0.8"/>
<text x="24.0" y="510.8" font-size="6.44" text-anchor="end" fill="#333" stroke="#333" stroke-width="0.161" textLength="3.11" lengthAdjust="spacingAndGlyphs">0</text>
<line x1="26.8" y1="484.3333333333333" x2="29.2" y2="484.3333333333333" stroke="#1a1a1a" stroke-width="0.8"/>
<text x="24.0" y="486.3333333333333" font-size="6.44" text-anchor="end" fill="#333" stroke="#333" stroke-width="0.161" textLength="6.23" lengthAdjust="spacingAndGlyphs">10</text>
<line x1="26.8" y1="459.8666666666667" x2="29.2" y2="459.8666666666667" stroke="#1a1a1a" stroke-width="0.8"/>
<text x="24.0" y="461.8666666666667" font-size="6.44" text-anchor="end" fill="#333" stroke="#333" stroke-width="0.161" textLength="6.23" lengthAdjust="spacingAndGlyphs">20</text>
<line x1="26.8" y1="435.4" x2="29.2" y2="435.4" stroke="#1a1a1a" stroke-width="0.8"/>
<text x="24.0" y="437.4" font-size="6.44" text-anchor="end" fill="#333" stroke="#333" stroke-width="0.161" textLength="6.23" lengthAdjust="spacingAndGlyphs">30</text>
<text x="12.84" y="471.65" font-size="6.49" text-anchor="middle" fill="#333" stroke="#333" stroke-width="0.162" textLength="43.5" lengthAdjust="spacingAndGlyphs" transform="rotate(-90 12.84 471.65)">PB hCD45+ (%)</text>
<rect x="30.4" y="494.36466666666666" width="6.399999999999999" height="14.435333333333347" fill="#b7daf3"/>
<rect x="38" y="495.588" width="6.200000000000003" height="13.211999999999989" fill="#0f4b85"/>
<rect x="50" y="482.86533333333335" width="6.200000000000003" height="25.934666666666658" fill="#b7daf3"/>
<rect x="57.4" y="484.3333333333333" width="6.0" height="24.466666666666697" fill="#0f4b85"/>
<rect x="69.6" y="475.28066666666666" width="6.300000000000011" height="33.51933333333335" fill="#b7daf3"/>
<rect x="76.8" y="478.21666666666664" width="6.200000000000003" height="30.58333333333337" fill="#0f4b85"/>
<rect x="88.5" y="470.632" width="6.5" height="38.168000000000006" fill="#b7daf3"/>
<rect x="96.2" y="467.20666666666665" width="5.700000000000003" height="41.59333333333336" fill="#0f4b85"/>
<rect x="107.7" y="454.9733333333333" width="6.5" height="53.82666666666671" fill="#b7daf3"/>
<rect x="115.1" y="458.39866666666666" width="5.800000000000011" height="50.401333333333355" fill="#0f4b85"/>
<line x1="33.599999999999994" y1="494.36466666666666" x2="33.599999999999994" y2="491.67333333333335" stroke="#6fb5e5" stroke-width="0.6"/>
<line x1="32.3" y1="491.67333333333335" x2="34.89999999999999" y2="491.67333333333335" stroke="#6fb5e5" stroke-width="0.6"/>
<line x1="41.1" y1="495.588" x2="41.1" y2="490.45" stroke="#7fa8d0" stroke-width="0.6"/>
<line x1="39.800000000000004" y1="490.45" x2="42.4" y2="490.45" stroke="#7fa8d0" stroke-width="0.6"/>
<line x1="53.1" y1="482.86533333333335" x2="53.1" y2="473.3233333333333" stroke="#6fb5e5" stroke-width="0.6"/>
<line x1="51.800000000000004" y1="473.3233333333333" x2="54.4" y2="473.3233333333333" stroke="#6fb5e5" stroke-width="0.6"/>
<line x1="60.4" y1="484.3333333333333" x2="60.4" y2="476.99333333333334" stroke="#7fa8d0" stroke-width="0.6"/>
<line x1="59.1" y1="476.99333333333334" x2="61.699999999999996" y2="476.99333333333334" stroke="#7fa8d0" stroke-width="0.6"/>
<line x1="72.75" y1="475.28066666666666" x2="72.75" y2="468.43" stroke="#6fb5e5" stroke-width="0.6"/>
<line x1="71.45" y1="468.43" x2="74.05" y2="468.43" stroke="#6fb5e5" stroke-width="0.6"/>
<line x1="79.9" y1="478.21666666666664" x2="79.9" y2="468.43" stroke="#7fa8d0" stroke-width="0.6"/>
<line x1="78.60000000000001" y1="468.43" x2="81.2" y2="468.43" stroke="#7fa8d0" stroke-width="0.6"/>
<line x1="91.75" y1="470.632" x2="91.75" y2="462.31333333333333" stroke="#6fb5e5" stroke-width="0.6"/>
<line x1="90.45" y1="462.31333333333333" x2="93.05" y2="462.31333333333333" stroke="#6fb5e5" stroke-width="0.6"/>
<line x1="99.05000000000001" y1="467.20666666666665" x2="99.05000000000001" y2="456.19666666666666" stroke="#7fa8d0" stroke-width="0.6"/>
<line x1="97.75000000000001" y1="456.19666666666666" x2="100.35000000000001" y2="456.19666666666666" stroke="#7fa8d0" stroke-width="0.6"/>
<line x1="110.95" y1="454.9733333333333" x2="110.95" y2="446.40999999999997" stroke="#6fb5e5" stroke-width="0.6"/>
<line x1="109.65" y1="446.40999999999997" x2="112.25" y2="446.40999999999997" stroke="#6fb5e5" stroke-width="0.6"/>
<line x1="118.0" y1="458.39866666666666" x2="118.0" y2="442.74" stroke="#7fa8d0" stroke-width="0.6"/>
<line x1="116.7" y1="442.74" x2="119.3" y2="442.74" stroke="#7fa8d0" stroke-width="0.6"/>
<circle cx="33.62" cy="491.18" r="1.2" fill="#2a9ed0"/>
<circle cx="33.65" cy="495.34" r="1.2" fill="#2a9ed0"/>
<circle cx="34.37" cy="497.06" r="1.2" fill="#2a9ed0"/>
<circle cx="33.41" cy="500.24" r="1.2" fill="#2a9ed0"/>
<circle cx="33.73" cy="502.68" r="1.2" fill="#2a9ed0"/>
<circle cx="41.05" cy="491.18" r="1.25" fill="#9ab8dc"/>
<circle cx="42.16" cy="496.57" r="1.25" fill="#9ab8dc"/>
<circle cx="41.58" cy="500.24" r="1.25" fill="#9ab8dc"/>
<circle cx="54.61" cy="473.32" r="1.2" fill="#2a9ed0"/>
<circle cx="54.87" cy="474.55" r="1.2" fill="#2a9ed0"/>
<circle cx="52.14" cy="486.78" r="1.2" fill="#2a9ed0"/>
<circle cx="53.34" cy="489.23" r="1.2" fill="#2a9ed0"/>
<circle cx="54.87" cy="491.67" r="1.2" fill="#2a9ed0"/>
<circle cx="61.22" cy="475.77" r="1.25" fill="#9ab8dc"/>
<circle cx="59.53" cy="484.33" r="1.25" fill="#9ab8dc"/>
<circle cx="59.49" cy="486.78" r="1.25" fill="#9ab8dc"/>
<circle cx="60.26" cy="491.67" r="1.25" fill="#9ab8dc"/>
<circle cx="71.04" cy="468.43" r="1.2" fill="#2a9ed0"/>
<circle cx="71.71" cy="469.65" r="1.2" fill="#2a9ed0"/>
<circle cx="71.04" cy="474.55" r="1.2" fill="#2a9ed0"/>
<circle cx="73.43" cy="479.44" r="1.2" fill="#2a9ed0"/>
<circle cx="73.89" cy="484.33" r="1.2" fill="#2a9ed0"/>
<circle cx="80.85" cy="464.76" r="1.25" fill="#9ab8dc"/>
<circle cx="79.07" cy="476.99" r="1.25" fill="#9ab8dc"/>
<circle cx="80.42" cy="484.33" r="1.25" fill="#9ab8dc"/>
<circle cx="80.28" cy="491.67" r="1.25" fill="#9ab8dc"/>
<circle cx="90.32" cy="463.54" r="1.2" fill="#2a9ed0"/>
<circle cx="93.28" cy="465.98" r="1.2" fill="#2a9ed0"/>
<circle cx="93.62" cy="472.1" r="1.2" fill="#2a9ed0"/>
<circle cx="90.63" cy="474.55" r="1.2" fill="#2a9ed0"/>
<circle cx="93.56" cy="475.77" r="1.2" fill="#2a9ed0"/>
<circle cx="98.81" cy="456.2" r="1.25" fill="#9ab8dc"/>
<circle cx="99.02" cy="462.31" r="1.25" fill="#9ab8dc"/>
<circle cx="100.23" cy="469.65" r="1.25" fill="#9ab8dc"/>
<circle cx="99.85" cy="481.89" r="1.25" fill="#9ab8dc"/>
<circle cx="109.6" cy="446.41" r="1.2" fill="#2a9ed0"/>
<circle cx="110.68" cy="450.08" r="1.2" fill="#2a9ed0"/>
<circle cx="111.01" cy="452.53" r="1.2" fill="#2a9ed0"/>
<circle cx="110.31" cy="456.2" r="1.2" fill="#2a9ed0"/>
<circle cx="109.73" cy="459.87" r="1.2" fill="#2a9ed0"/>
<circle cx="117.56" cy="442.74" r="1.25" fill="#9ab8dc"/>
<circle cx="118.53" cy="447.63" r="1.25" fill="#9ab8dc"/>
<circle cx="116.85" cy="452.53" r="1.25" fill="#9ab8dc"/>
<circle cx="118.13" cy="459.87" r="1.25" fill="#9ab8dc"/>
<circle cx="117.86" cy="481.89" r="1.25" fill="#9ab8dc"/>
<line x1="37.3" y1="508.8" x2="37.3" y2="511.4" stroke="#1a1a1a" stroke-width="0.8"/>
<text x="37.3" y="520.0" font-size="6.44" text-anchor="middle" fill="#333" stroke="#333" stroke-width="0.161" textLength="3.11" lengthAdjust="spacingAndGlyphs">0</text>
<line x1="56.7" y1="508.8" x2="56.7" y2="511.4" stroke="#1a1a1a" stroke-width="0.8"/>
<text x="56.7" y="520.0" font-size="6.44" text-anchor="middle" fill="#333" stroke="#333" stroke-width="0.161" textLength="3.11" lengthAdjust="spacingAndGlyphs">1</text>
<line x1="76.3" y1="508.8" x2="76.3" y2="511.4" stroke="#1a1a1a" stroke-width="0.8"/>
<text x="76.3" y="520.0" font-size="6.44" text-anchor="middle" fill="#333" stroke="#333" stroke-width="0.161" textLength="3.11" lengthAdjust="spacingAndGlyphs">2</text>
<line x1="95.2" y1="508.8" x2="95.2" y2="511.4" stroke="#1a1a1a" stroke-width="0.8"/>
<text x="95.2" y="520.0" font-size="6.44" text-anchor="middle" fill="#333" stroke="#333" stroke-width="0.161" textLength="3.11" lengthAdjust="spacingAndGlyphs">3</text>
<line x1="114.30000000000001" y1="508.8" x2="114.30000000000001" y2="511.4" stroke="#1a1a1a" stroke-width="0.8"/>
<text x="114.30000000000001" y="520.0" font-size="6.44" text-anchor="middle" fill="#333" stroke="#333" stroke-width="0.161" textLength="3.11" lengthAdjust="spacingAndGlyphs">4</text>
<text x="75.5" y="530.5" font-size="7.82" text-anchor="middle" fill="#333" stroke="#333" stroke-width="0.196" textLength="51" lengthAdjust="spacingAndGlyphs">Weeks of treatment</text>
<rect x="33.2" y="433.8" width="4" height="3.9" fill="#b7daf3"/>
<text x="39.6" y="437.5" font-size="6.44" text-anchor="start" fill="#333" stroke="#333" stroke-width="0.161" textLength="17" lengthAdjust="spacingAndGlyphs">Vehicle</text>
<rect x="33.2" y="440.7" width="4" height="3.9" fill="#0f4b85"/>
<text x="39.6" y="445.0" font-size="6.44" text-anchor="start" fill="#333" stroke="#333" stroke-width="0.161" textLength="22" lengthAdjust="spacingAndGlyphs">CA-4948</text>
<line x1="64.5" y1="432.6" x2="64.5" y2="446" stroke="#333" stroke-width="0.6"/>
<text x="67.8" y="442.3" font-size="5.75" text-anchor="start" fill="#333" stroke="#333" stroke-width="0.144" textLength="5.28" lengthAdjust="spacingAndGlyphs">ns</text>
<line x1="160.0" y1="434.4" x2="160.0" y2="508.8" stroke="#1a1a1a" stroke-width="1.4"/>
<line x1="160.0" y1="508.8" x2="187.5" y2="508.8" stroke="#1a1a1a" stroke-width="1.4"/>
<line x1="157.5" y1="508.8" x2="160.0" y2="508.8" stroke="#1a1a1a" stroke-width="0.8"/>
<text x="153.6" y="510.7" font-size="6.09" text-anchor="end" fill="#333" stroke="#333" stroke-width="0.152" textLength="2.95" lengthAdjust="spacingAndGlyphs">0</text>
<line x1="157.5" y1="494.04" x2="160.0" y2="494.04" stroke="#1a1a1a" stroke-width="0.8"/>
<text x="153.6" y="495.94" font-size="6.09" text-anchor="end" fill="#333" stroke="#333" stroke-width="0.152" textLength="5.89" lengthAdjust="spacingAndGlyphs">20</text>
<line x1="157.5" y1="479.28000000000003" x2="160.0" y2="479.28000000000003" stroke="#1a1a1a" stroke-width="0.8"/>
<text x="153.6" y="481.18" font-size="6.09" text-anchor="end" fill="#333" stroke="#333" stroke-width="0.152" textLength="5.89" lengthAdjust="spacingAndGlyphs">40</text>
<line x1="157.5" y1="464.52" x2="160.0" y2="464.52" stroke="#1a1a1a" stroke-width="0.8"/>
<text x="153.6" y="466.41999999999996" font-size="6.09" text-anchor="end" fill="#333" stroke="#333" stroke-width="0.152" textLength="5.89" lengthAdjust="spacingAndGlyphs">60</text>
<line x1="157.5" y1="449.76" x2="160.0" y2="449.76" stroke="#1a1a1a" stroke-width="0.8"/>
<text x="153.6" y="451.65999999999997" font-size="6.09" text-anchor="end" fill="#333" stroke="#333" stroke-width="0.152" textLength="5.89" lengthAdjust="spacingAndGlyphs">80</text>
<line x1="157.5" y1="435.0" x2="160.0" y2="435.0" stroke="#1a1a1a" stroke-width="0.8"/>
<text x="153.6" y="436.9" font-size="6.09" text-anchor="end" fill="#333" stroke="#333" stroke-width="0.152" textLength="8.84" lengthAdjust="spacingAndGlyphs">100</text>
<text x="139.1" y="469.95" font-size="6.18" text-anchor="middle" fill="#333" stroke="#333" stroke-width="0.154" textLength="42.5" lengthAdjust="spacingAndGlyphs" transform="rotate(-90 139.1 469.95)">BM hCD45+ (%)</text>
<rect x="161.3" y="454.5" width="11.699999999999989" height="54.30000000000001" fill="#b7daf3"/>
<rect x="175" y="460.5" width="11.300000000000011" height="48.30000000000001" fill="#0f4b85"/>
<line x1="167.1" y1="454.5" x2="167.1" y2="448.5" stroke="#6fb5e5" stroke-width="0.6"/>
<line x1="165.5" y1="448.5" x2="168.7" y2="448.5" stroke="#6fb5e5" stroke-width="0.6"/>
<line x1="180.6" y1="460.5" x2="180.6" y2="449" stroke="#7fa8d0" stroke-width="0.6"/>
<line x1="179.0" y1="449" x2="182.2" y2="449" stroke="#7fa8d0" stroke-width="0.6"/>
<circle cx="167.1" cy="447.55" r="1.3" fill="#2a9ed0"/>
<circle cx="167.1" cy="450.13" r="1.3" fill="#2a9ed0"/>
<circle cx="163.6" cy="454.19" r="1.3" fill="#2a9ed0"/>
<circle cx="170.6" cy="454.19" r="1.3" fill="#2a9ed0"/>
<circle cx="167.1" cy="464.52" r="1.3" fill="#2a9ed0"/>
<circle cx="180.6" cy="447.55" r="1.3" fill="#9ab8dc"/>
<circle cx="177.8" cy="455.66" r="1.3" fill="#9ab8dc"/>
<circle cx="183.4" cy="454.19" r="1.3" fill="#9ab8dc"/>
<circle cx="180.6" cy="463.78" r="1.3" fill="#9ab8dc"/>
<circle cx="180.6" cy="470.42" r="1.3" fill="#9ab8dc"/>
<line x1="167.1" y1="508.8" x2="167.1" y2="511.8" stroke="#1a1a1a" stroke-width="0.8"/>
<text x="170.7" y="517.1" font-size="6.96" text-anchor="end" fill="#333" stroke="#333" stroke-width="0.174" textLength="19.51" lengthAdjust="spacingAndGlyphs" transform="rotate(-45 170.7 517.1)">Vehicle</text>
<line x1="180.6" y1="508.8" x2="180.6" y2="511.8" stroke="#1a1a1a" stroke-width="0.8"/>
<text x="184.2" y="517.1" font-size="6.96" text-anchor="end" fill="#333" stroke="#333" stroke-width="0.174" textLength="23.88" lengthAdjust="spacingAndGlyphs" transform="rotate(-45 184.2 517.1)">CA-4948</text>
<line x1="167.5" y1="433.5" x2="180" y2="433.5" stroke="#444" stroke-width="0.75"/>
<text x="173.75" y="432.5" font-size="5.52" text-anchor="middle" fill="#333" stroke="#333" stroke-width="0.138" textLength="5.07" lengthAdjust="spacingAndGlyphs">ns</text>
<line x1="230.7" y1="434.4" x2="230.7" y2="508.8" stroke="#1a1a1a" stroke-width="1.4"/>
<line x1="230.7" y1="508.8" x2="259" y2="508.8" stroke="#1a1a1a" stroke-width="1.4"/>
<line x1="228.2" y1="508.8" x2="230.7" y2="508.8" stroke="#1a1a1a" stroke-width="0.8"/>
<text x="224.3" y="510.7" font-size="6.09" text-anchor="end" fill="#333" stroke="#333" stroke-width="0.152" textLength="13.26" lengthAdjust="spacingAndGlyphs">0.000</text>
<line x1="228.2" y1="494.04" x2="230.7" y2="494.04" stroke="#1a1a1a" stroke-width="0.8"/>
<text x="224.3" y="495.94" font-size="6.09" text-anchor="end" fill="#333" stroke="#333" stroke-width="0.152" textLength="13.26" lengthAdjust="spacingAndGlyphs">0.001</text>
<line x1="228.2" y1="479.28000000000003" x2="230.7" y2="479.28000000000003" stroke="#1a1a1a" stroke-width="0.8"/>
<text x="224.3" y="481.18" font-size="6.09" text-anchor="end" fill="#333" stroke="#333" stroke-width="0.152" textLength="13.26" lengthAdjust="spacingAndGlyphs">0.002</text>
<line x1="228.2" y1="464.52" x2="230.7" y2="464.52" stroke="#1a1a1a" stroke-width="0.8"/>
<text x="224.3" y="466.41999999999996" font-size="6.09" text-anchor="end" fill="#333" stroke="#333" stroke-width="0.152" textLength="13.26" lengthAdjust="spacingAndGlyphs">0.003</text>
<line x1="228.2" y1="449.76" x2="230.7" y2="449.76" stroke="#1a1a1a" stroke-width="0.8"/>
<text x="224.3" y="451.65999999999997" font-size="6.09" text-anchor="end" fill="#333" stroke="#333" stroke-width="0.152" textLength="13.26" lengthAdjust="spacingAndGlyphs">0.004</text>
<line x1="228.2" y1="435.0" x2="230.7" y2="435.0" stroke="#1a1a1a" stroke-width="0.8"/>
<text x="224.3" y="436.9" font-size="6.09" text-anchor="end" fill="#333" stroke="#333" stroke-width="0.152" textLength="13.26" lengthAdjust="spacingAndGlyphs">0.005</text>
<text x="205.83" y="470.4" font-size="7.03" text-anchor="middle" fill="#333" stroke="#333" stroke-width="0.176" textLength="68.0" lengthAdjust="spacingAndGlyphs" transform="rotate(-90 205.83 470.4)">Normalized spleen weight</text>
<rect x="232.5" y="464.5" width="12.5" height="44.30000000000001" fill="#b7daf3"/>
<rect x="247" y="470.8" width="11" height="38.0" fill="#0f4b85"/>
<line x1="238.7" y1="464.5" x2="238.7" y2="453.8" stroke="#6fb5e5" stroke-width="0.6"/>
<line x1="237.1" y1="453.8" x2="240.29999999999998" y2="453.8" stroke="#6fb5e5" stroke-width="0.6"/>
<line x1="252.5" y1="470.8" x2="252.5" y2="462" stroke="#7fa8d0" stroke-width="0.6"/>
<line x1="250.9" y1="462" x2="254.1" y2="462" stroke="#7fa8d0" stroke-width="0.6"/>
<circle cx="235.81" cy="446.81" r="1.3" fill="#2a9ed0"/>
<circle cx="237.69" cy="460.09" r="1.3" fill="#2a9ed0"/>
<circle cx="239.44" cy="467.47" r="1.3" fill="#2a9ed0"/>
<circle cx="238.77" cy="470.42" r="1.3" fill="#2a9ed0"/>
<circle cx="236.09" cy="479.28" r="1.3" fill="#2a9ed0"/>
<circle cx="253.47" cy="460.09" r="1.3" fill="#9ab8dc"/>
<circle cx="253.08" cy="468.95" r="1.3" fill="#9ab8dc"/>
<circle cx="253.44" cy="473.38" r="1.3" fill="#9ab8dc"/>
<circle cx="251.71" cy="476.33" r="1.3" fill="#9ab8dc"/>
<line x1="238.7" y1="508.8" x2="238.7" y2="511.8" stroke="#1a1a1a" stroke-width="0.8"/>
<text x="242.3" y="517.1" font-size="6.96" text-anchor="end" fill="#333" stroke="#333" stroke-width="0.174" textLength="19.51" lengthAdjust="spacingAndGlyphs" transform="rotate(-45 242.3 517.1)">Vehicle</text>
<line x1="252.5" y1="508.8" x2="252.5" y2="511.8" stroke="#1a1a1a" stroke-width="0.8"/>
<text x="256.1" y="517.1" font-size="6.96" text-anchor="end" fill="#333" stroke="#333" stroke-width="0.174" textLength="23.88" lengthAdjust="spacingAndGlyphs" transform="rotate(-45 256.1 517.1)">CA-4948</text>
<line x1="237.5" y1="433.5" x2="249.5" y2="433.5" stroke="#444" stroke-width="0.75"/>
<text x="243.5" y="432.5" font-size="5.52" text-anchor="middle" fill="#333" stroke="#333" stroke-width="0.138" textLength="5.07" lengthAdjust="spacingAndGlyphs">ns</text>
<text x="8.3" y="154.3" font-size="11.0" text-anchor="start" fill="#111" font-weight="bold" stroke="#111" stroke-width="0.35">D</text>
<text x="139.5" y="155.8" font-size="7.13" text-anchor="middle" fill="#333" stroke="#333" stroke-width="0.178" textLength="50.5" lengthAdjust="spacingAndGlyphs">298191 pMF PDX</text>
<line x1="19.5" y1="160.2" x2="258.8" y2="160.2" stroke="#444" stroke-width="1.2"/>
<text x="8.2" y="280.3" font-size="11.0" text-anchor="start" fill="#111" font-weight="bold" stroke="#111" stroke-width="0.35">E</text>
<text x="138.5" y="280.6" font-size="7.13" text-anchor="middle" fill="#333" stroke="#333" stroke-width="0.178" textLength="60" lengthAdjust="spacingAndGlyphs">995962 MF pET PDX</text>
<line x1="18.8" y1="285.6" x2="259.3" y2="285.6" stroke="#444" stroke-width="1.2"/>
<text x="8.2" y="421.6" font-size="11.0" text-anchor="start" fill="#111" font-weight="bold" stroke="#111" stroke-width="0.35">F</text>
<text x="138" y="422.2" font-size="7.13" text-anchor="middle" fill="#333" stroke="#333" stroke-width="0.178" textLength="33" lengthAdjust="spacingAndGlyphs">NBM3 PDX</text>
<line x1="16.3" y1="427.1" x2="260" y2="427.1" stroke="#444" stroke-width="1.2"/>
<text x="274.1" y="155.3" font-size="11.0" text-anchor="start" fill="#111" font-weight="bold" stroke="#111" stroke-width="0.35">G</text>
<text x="388.8" y="155.8" font-size="7.13" text-anchor="middle" fill="#333" stroke="#333" stroke-width="0.178" textLength="65" lengthAdjust="spacingAndGlyphs">MF CD14+ Monocytes</text>
<line x1="290.5" y1="160.2" x2="486.3" y2="160.2" stroke="#444" stroke-width="1.2"/>
<line x1="302.0" y1="167.70000000000002" x2="302.0" y2="239.7" stroke="#1a1a1a" stroke-width="1.4"/>
<line x1="302.0" y1="239.7" x2="342.4" y2="239.7" stroke="#1a1a1a" stroke-width="1.4"/>
<line x1="299.4" y1="239.7" x2="302.0" y2="239.7" stroke="#1a1a1a" stroke-width="0.8"/>
<text x="296.3" y="241.6" font-size="6.09" text-anchor="end" fill="#333" stroke="#333" stroke-width="0.152" textLength="2.95" lengthAdjust="spacingAndGlyphs">0</text>
<line x1="299.4" y1="216.1" x2="302.0" y2="216.1" stroke="#1a1a1a" stroke-width="0.8"/>
<text x="296.3" y="218.0" font-size="6.09" text-anchor="end" fill="#333" stroke="#333" stroke-width="0.152" textLength="2.95" lengthAdjust="spacingAndGlyphs">2</text>
<line x1="299.4" y1="192.5" x2="302.0" y2="192.5" stroke="#1a1a1a" stroke-width="0.8"/>
<text x="296.3" y="194.4" font-size="6.09" text-anchor="end" fill="#333" stroke="#333" stroke-width="0.152" textLength="2.95" lengthAdjust="spacingAndGlyphs">4</text>
<line x1="299.4" y1="168.9" x2="302.0" y2="168.9" stroke="#1a1a1a" stroke-width="0.8"/>
<text x="296.3" y="170.8" font-size="6.09" text-anchor="end" fill="#333" stroke="#333" stroke-width="0.152" textLength="2.95" lengthAdjust="spacingAndGlyphs">6</text>
<rect x="303.8" y="227.89999999999998" width="10.800000000000011" height="11.800000000000011" fill="#badcf3"/>
<rect x="317.3" y="211.852" width="10.699999999999989" height="27.847999999999985" fill="#badcf3"/>
<rect x="330.2" y="229.316" width="10.600000000000023" height="10.383999999999986" fill="#badcf3"/>
<rect x="303.8" y="227.29999999999998" width="10.800000000000011" height="2.0" fill="#3a9ad8"/>
<line x1="322.65" y1="211.852" x2="322.65" y2="196.04" stroke="#4aa6d8" stroke-width="0.6"/>
<line x1="321.34999999999997" y1="196.04" x2="323.95" y2="196.04" stroke="#4aa6d8" stroke-width="0.6"/>
<line x1="335.5" y1="229.316" x2="335.5" y2="222.59" stroke="#4aa6d8" stroke-width="0.6"/>
<line x1="334.2" y1="222.59" x2="336.8" y2="222.59" stroke="#4aa6d8" stroke-width="0.6"/>
<circle cx="322.65" cy="186.01" r="1.3" fill="#2690c8"/>
<circle cx="319.05" cy="196.04" r="1.3" fill="#2690c8"/>
<circle cx="326.25" cy="198.4" r="1.3" fill="#2690c8"/>
<circle cx="320.85" cy="204.3" r="1.3" fill="#2690c8"/>
<circle cx="324.45" cy="216.1" r="1.3" fill="#2690c8"/>
<circle cx="319.05" cy="218.46" r="1.3" fill="#2690c8"/>
<circle cx="326.25" cy="226.13" r="1.3" fill="#2690c8"/>
<circle cx="322.65" cy="227.31" r="1.3" fill="#2690c8"/>
<circle cx="322.65" cy="231.44" r="1.3" fill="#2690c8"/>
<circle cx="335.5" cy="219.64" r="1.3" fill="#2690c8"/>
<circle cx="331.9" cy="219.64" r="1.3" fill="#2690c8"/>
<circle cx="339.1" cy="221.41" r="1.3" fill="#2690c8"/>
<circle cx="333.7" cy="226.72" r="1.3" fill="#2690c8"/>
<circle cx="337.3" cy="230.85" r="1.3" fill="#2690c8"/>
<circle cx="331.9" cy="231.44" r="1.3" fill="#2690c8"/>
<circle cx="339.1" cy="236.16" r="1.3" fill="#2690c8"/>
<circle cx="335.5" cy="236.75" r="1.3" fill="#2690c8"/>
<line x1="309.20000000000005" y1="239.7" x2="309.20000000000005" y2="242.29999999999998" stroke="#1a1a1a" stroke-width="0.8"/>
<line x1="322.65" y1="239.7" x2="322.65" y2="242.29999999999998" stroke="#1a1a1a" stroke-width="0.8"/>
<line x1="335.5" y1="239.7" x2="335.5" y2="242.29999999999998" stroke="#1a1a1a" stroke-width="0.8"/>
<text x="312.3" y="249.0" font-size="6.32" text-anchor="end" fill="#333" stroke="#333" stroke-width="0.158" textLength="8.55" lengthAdjust="spacingAndGlyphs" transform="rotate(-45 312.3 249.0)">Ctrl</text>
<text x="325.75" y="248.5" font-size="6.32" text-anchor="end" fill="#333" stroke="#333" stroke-width="0.158" textLength="12.64" lengthAdjust="spacingAndGlyphs" transform="rotate(-45 325.75 248.5)">IL-1β</text>
<text x="338.6" y="248.5" font-size="6.32" text-anchor="end" fill="#333" stroke="#333" stroke-width="0.158" textLength="12.64" lengthAdjust="spacingAndGlyphs" transform="rotate(-45 338.6 248.5)">IL-1β</text>
<text x="342.8" y="253.2" font-size="6.32" text-anchor="end" fill="#333" stroke="#333" stroke-width="0.158" textLength="26.45" lengthAdjust="spacingAndGlyphs" transform="rotate(-45 342.8 253.2)">+ CA-4948</text>
<text x="288.0" y="202.9" font-size="6.99" text-anchor="middle" fill="#333" stroke="#333" stroke-width="0.175" textLength="35.4" lengthAdjust="spacingAndGlyphs" transform="rotate(-90 288.0 202.9)"><tspan font-style="italic">NFKB1</tspan> mRNA</text>
<line x1="310.50000000000006" y1="168.5" x2="334.2" y2="168.5" stroke="#444" stroke-width="0.75"/>
<text x="322.35" y="167.3" font-size="5.06" text-anchor="middle" fill="#333" stroke="#333" stroke-width="0.127" textLength="4.65" lengthAdjust="spacingAndGlyphs">ns</text>
<line x1="310.50000000000006" y1="176.5" x2="321.95" y2="176.5" stroke="#444" stroke-width="0.75"/>
<line x1="323.34999999999997" y1="176.5" x2="334.2" y2="176.5" stroke="#444" stroke-width="0.75"/>
<text x="315.0" y="174.9" font-size="5.75" text-anchor="middle" fill="#333" stroke="#333" stroke-width="0.144" textLength="16" lengthAdjust="spacingAndGlyphs">0.0147</text>
<text x="332.7" y="174.9" font-size="5.75" text-anchor="middle" fill="#333" stroke="#333" stroke-width="0.144" textLength="16.5" lengthAdjust="spacingAndGlyphs">0.0003</text>
<line x1="372.8" y1="167.20000000000002" x2="372.8" y2="239.7" stroke="#1a1a1a" stroke-width="1.4"/>
<line x1="372.8" y1="239.7" x2="412.8" y2="239.7" stroke="#1a1a1a" stroke-width="1.4"/>
<line x1="370.2" y1="239.7" x2="372.8" y2="239.7" stroke="#1a1a1a" stroke-width="0.8"/>
<text x="367.1" y="241.6" font-size="6.09" text-anchor="end" fill="#333" stroke="#333" stroke-width="0.152" textLength="2.95" lengthAdjust="spacingAndGlyphs">0</text>
<line x1="370.2" y1="221.875" x2="372.8" y2="221.875" stroke="#1a1a1a" stroke-width="0.8"/>
<text x="367.1" y="223.775" font-size="6.09" text-anchor="end" fill="#333" stroke="#333" stroke-width="0.152" textLength="2.95" lengthAdjust="spacingAndGlyphs">2</text>
<line x1="370.2" y1="204.05" x2="372.8" y2="204.05" stroke="#1a1a1a" stroke-width="0.8"/>
<text x="367.1" y="205.95000000000002" font-size="6.09" text-anchor="end" fill="#333" stroke="#333" stroke-width="0.152" textLength="2.95" lengthAdjust="spacingAndGlyphs">4</text>
<line x1="370.2" y1="186.225" x2="372.8" y2="186.225" stroke="#1a1a1a" stroke-width="0.8"/>
<text x="367.1" y="188.125" font-size="6.09" text-anchor="end" fill="#333" stroke="#333" stroke-width="0.152" textLength="2.95" lengthAdjust="spacingAndGlyphs">6</text>
<line x1="370.2" y1="168.4" x2="372.8" y2="168.4" stroke="#1a1a1a" stroke-width="0.8"/>
<text x="367.1" y="170.3" font-size="6.09" text-anchor="end" fill="#333" stroke="#333" stroke-width="0.152" textLength="2.95" lengthAdjust="spacingAndGlyphs">8</text>
<rect x="375.4" y="230.7875" width="10.300000000000011" height="8.912499999999994" fill="#badcf3"/>
<rect x="388.1" y="211.62562499999999" width="10.5" height="28.074375000000003" fill="#badcf3"/>
<rect x="401.2" y="228.11374999999998" width="10.400000000000034" height="11.586250000000007" fill="#badcf3"/>
<rect x="375.4" y="230.1875" width="10.300000000000011" height="2.0" fill="#3a9ad8"/>
<line x1="393.35" y1="211.62562499999999" x2="393.35" y2="192.46375" stroke="#4aa6d8" stroke-width="0.6"/>
<line x1="392.05" y1="192.46375" x2="394.65000000000003" y2="192.46375" stroke="#4aa6d8" stroke-width="0.6"/>
<line x1="406.4" y1="228.11374999999998" x2="406.4" y2="220.98375" stroke="#4aa6d8" stroke-width="0.6"/>
<line x1="405.09999999999997" y1="220.98375" x2="407.7" y2="220.98375" stroke="#4aa6d8" stroke-width="0.6"/>
<circle cx="393.35" cy="181.77" r="1.3" fill="#2690c8"/>
<circle cx="389.75" cy="191.57" r="1.3" fill="#2690c8"/>
<circle cx="396.95" cy="192.46" r="1.3" fill="#2690c8"/>
<circle cx="391.55" cy="200.48" r="1.3" fill="#2690c8"/>
<circle cx="395.15" cy="212.96" r="1.3" fill="#2690c8"/>
<circle cx="389.75" cy="217.42" r="1.3" fill="#2690c8"/>
<circle cx="396.95" cy="224.99" r="1.3" fill="#2690c8"/>
<circle cx="393.35" cy="225.44" r="1.3" fill="#2690c8"/>
<circle cx="393.35" cy="235.24" r="1.3" fill="#2690c8"/>
<circle cx="406.4" cy="216.08" r="1.3" fill="#2690c8"/>
<circle cx="402.8" cy="222.77" r="1.3" fill="#2690c8"/>
<circle cx="410.0" cy="224.55" r="1.3" fill="#2690c8"/>
<circle cx="404.6" cy="224.99" r="1.3" fill="#2690c8"/>
<circle cx="408.2" cy="226.33" r="1.3" fill="#2690c8"/>
<circle cx="402.8" cy="229.9" r="1.3" fill="#2690c8"/>
<circle cx="410.0" cy="235.24" r="1.3" fill="#2690c8"/>
<circle cx="406.4" cy="235.24" r="1.3" fill="#2690c8"/>
<line x1="380.54999999999995" y1="239.7" x2="380.54999999999995" y2="242.29999999999998" stroke="#1a1a1a" stroke-width="0.8"/>
<line x1="393.35" y1="239.7" x2="393.35" y2="242.29999999999998" stroke="#1a1a1a" stroke-width="0.8"/>
<line x1="406.4" y1="239.7" x2="406.4" y2="242.29999999999998" stroke="#1a1a1a" stroke-width="0.8"/>
<text x="383.65" y="249.0" font-size="6.32" text-anchor="end" fill="#333" stroke="#333" stroke-width="0.158" textLength="8.55" lengthAdjust="spacingAndGlyphs" transform="rotate(-45 383.65 249.0)">Ctrl</text>
<text x="396.45" y="248.5" font-size="6.32" text-anchor="end" fill="#333" stroke="#333" stroke-width="0.158" textLength="12.64" lengthAdjust="spacingAndGlyphs" transform="rotate(-45 396.45 248.5)">IL-1β</text>
<text x="409.5" y="248.5" font-size="6.32" text-anchor="end" fill="#333" stroke="#333" stroke-width="0.158" textLength="12.64" lengthAdjust="spacingAndGlyphs" transform="rotate(-45 409.5 248.5)">IL-1β</text>
<text x="413.7" y="253.2" font-size="6.32" text-anchor="end" fill="#333" stroke="#333" stroke-width="0.158" textLength="26.45" lengthAdjust="spacingAndGlyphs" transform="rotate(-45 413.7 253.2)">+ CA-4948</text>
<text x="359.0" y="202.75" font-size="6.99" text-anchor="middle" fill="#333" stroke="#333" stroke-width="0.175" textLength="35.1" lengthAdjust="spacingAndGlyphs" transform="rotate(-90 359.0 202.75)"><tspan font-style="italic">NFKB2</tspan> mRNA</text>
<line x1="381.84999999999997" y1="168.5" x2="405.09999999999997" y2="168.5" stroke="#444" stroke-width="0.75"/>
<text x="393.47499999999997" y="167.3" font-size="5.06" text-anchor="middle" fill="#333" stroke="#333" stroke-width="0.127" textLength="4.65" lengthAdjust="spacingAndGlyphs">ns</text>
<line x1="381.84999999999997" y1="176.5" x2="392.65000000000003" y2="176.5" stroke="#444" stroke-width="0.75"/>
<line x1="394.05" y1="176.5" x2="405.09999999999997" y2="176.5" stroke="#444" stroke-width="0.75"/>
<text x="386.6" y="174.9" font-size="5.75" text-anchor="middle" fill="#333" stroke="#333" stroke-width="0.144" textLength="10.4" lengthAdjust="spacingAndGlyphs">0.02</text>
<text x="401.2" y="174.9" font-size="5.75" text-anchor="middle" fill="#333" stroke="#333" stroke-width="0.144" textLength="12.9" lengthAdjust="spacingAndGlyphs">0.033</text>
<line x1="445.3" y1="168.0" x2="445.3" y2="239.7" stroke="#1a1a1a" stroke-width="1.4"/>
<line x1="445.3" y1="239.7" x2="485.8" y2="239.7" stroke="#1a1a1a" stroke-width="1.4"/>
<line x1="442.7" y1="239.7" x2="445.3" y2="239.7" stroke="#1a1a1a" stroke-width="0.8"/>
<text x="439.6" y="241.6" font-size="6.09" text-anchor="end" fill="#333" stroke="#333" stroke-width="0.152" textLength="2.95" lengthAdjust="spacingAndGlyphs">0</text>
<line x1="442.7" y1="225.6" x2="445.3" y2="225.6" stroke="#1a1a1a" stroke-width="0.8"/>
<text x="439.6" y="227.5" font-size="6.09" text-anchor="end" fill="#333" stroke="#333" stroke-width="0.152" textLength="2.95" lengthAdjust="spacingAndGlyphs">2</text>
<line x1="442.7" y1="211.5" x2="445.3" y2="211.5" stroke="#1a1a1a" stroke-width="0.8"/>
<text x="439.6" y="213.4" font-size="6.09" text-anchor="end" fill="#333" stroke="#333" stroke-width="0.152" textLength="2.95" lengthAdjust="spacingAndGlyphs">4</text>
<line x1="442.7" y1="197.39999999999998" x2="445.3" y2="197.39999999999998" stroke="#1a1a1a" stroke-width="0.8"/>
<text x="439.6" y="199.29999999999998" font-size="6.09" text-anchor="end" fill="#333" stroke="#333" stroke-width="0.152" textLength="2.95" lengthAdjust="spacingAndGlyphs">6</text>
<line x1="442.7" y1="183.29999999999998" x2="445.3" y2="183.29999999999998" stroke="#1a1a1a" stroke-width="0.8"/>
<text x="439.6" y="185.2" font-size="6.09" text-anchor="end" fill="#333" stroke="#333" stroke-width="0.152" textLength="2.95" lengthAdjust="spacingAndGlyphs">8</text>
<line x1="442.7" y1="169.2" x2="445.3" y2="169.2" stroke="#1a1a1a" stroke-width="0.8"/>
<text x="439.6" y="171.1" font-size="6.09" text-anchor="end" fill="#333" stroke="#333" stroke-width="0.152" textLength="5.89" lengthAdjust="spacingAndGlyphs">10</text>
<rect x="447.7" y="232.64999999999998" width="10.400000000000034" height="7.050000000000011" fill="#badcf3"/>
<rect x="460.2" y="218.1975" width="11.0" height="21.502499999999998" fill="#badcf3"/>
<rect x="473.6" y="230.535" width="10.399999999999977" height="9.164999999999992" fill="#badcf3"/>
<rect x="447.7" y="232.04999999999998" width="10.400000000000034" height="2.0" fill="#3a9ad8"/>
<line x1="465.7" y1="218.1975" x2="465.7" y2="200.92499999999998" stroke="#4aa6d8" stroke-width="0.6"/>
<line x1="464.4" y1="200.92499999999998" x2="467.0" y2="200.92499999999998" stroke="#4aa6d8" stroke-width="0.6"/>
<line x1="478.8" y1="230.535" x2="478.8" y2="222.075" stroke="#4aa6d8" stroke-width="0.6"/>
<line x1="477.5" y1="222.075" x2="480.1" y2="222.075" stroke="#4aa6d8" stroke-width="0.6"/>
<circle cx="465.7" cy="184.71" r="1.3" fill="#2690c8"/>
<circle cx="462.1" cy="207.27" r="1.3" fill="#2690c8"/>
<circle cx="469.3" cy="219.25" r="1.3" fill="#2690c8"/>
<circle cx="463.9" cy="224.19" r="1.3" fill="#2690c8"/>
<circle cx="467.5" cy="226.3" r="1.3" fill="#2690c8"/>
<circle cx="462.1" cy="231.24" r="1.3" fill="#2690c8"/>
<circle cx="469.3" cy="231.94" r="1.3" fill="#2690c8"/>
<circle cx="478.8" cy="214.32" r="1.3" fill="#2690c8"/>
<circle cx="475.2" cy="226.3" r="1.3" fill="#2690c8"/>
<circle cx="482.4" cy="227.01" r="1.3" fill="#2690c8"/>
<circle cx="477.0" cy="234.76" r="1.3" fill="#2690c8"/>
<circle cx="480.6" cy="236.17" r="1.3" fill="#2690c8"/>
<circle cx="475.2" cy="236.88" r="1.3" fill="#2690c8"/>
<circle cx="482.4" cy="236.17" r="1.3" fill="#2690c8"/>
<line x1="452.9" y1="239.7" x2="452.9" y2="242.29999999999998" stroke="#1a1a1a" stroke-width="0.8"/>
<line x1="465.7" y1="239.7" x2="465.7" y2="242.29999999999998" stroke="#1a1a1a" stroke-width="0.8"/>
<line x1="478.8" y1="239.7" x2="478.8" y2="242.29999999999998" stroke="#1a1a1a" stroke-width="0.8"/>
<text x="456.0" y="249.0" font-size="6.32" text-anchor="end" fill="#333" stroke="#333" stroke-width="0.158" textLength="8.55" lengthAdjust="spacingAndGlyphs" transform="rotate(-45 456.0 249.0)">Ctrl</text>
<text x="468.8" y="248.5" font-size="6.32" text-anchor="end" fill="#333" stroke="#333" stroke-width="0.158" textLength="12.64" lengthAdjust="spacingAndGlyphs" transform="rotate(-45 468.8 248.5)">IL-1β</text>
<text x="481.9" y="248.5" font-size="6.32" text-anchor="end" fill="#333" stroke="#333" stroke-width="0.158" textLength="12.64" lengthAdjust="spacingAndGlyphs" transform="rotate(-45 481.9 248.5)">IL-1β</text>
<text x="486.1" y="253.2" font-size="6.32" text-anchor="end" fill="#333" stroke="#333" stroke-width="0.158" textLength="26.45" lengthAdjust="spacingAndGlyphs" transform="rotate(-45 486.1 253.2)">+ CA-4948</text>
<text x="428.6" y="202.75" font-size="7.26" text-anchor="middle" fill="#333" stroke="#333" stroke-width="0.181" textLength="26.7" lengthAdjust="spacingAndGlyphs" transform="rotate(-90 428.6 202.75)"><tspan font-style="italic">TNF</tspan> mRNA</text>
<line x1="454.2" y1="168.5" x2="477.5" y2="168.5" stroke="#444" stroke-width="0.75"/>
<text x="465.85" y="167.3" font-size="5.06" text-anchor="middle" fill="#333" stroke="#333" stroke-width="0.127" textLength="4.65" lengthAdjust="spacingAndGlyphs">ns</text>
<line x1="454.2" y1="176.5" x2="465.0" y2="176.5" stroke="#444" stroke-width="0.75"/>
<line x1="466.4" y1="176.5" x2="477.5" y2="176.5" stroke="#444" stroke-width="0.75"/>
<text x="458.3" y="174.9" font-size="5.75" text-anchor="middle" fill="#333" stroke="#333" stroke-width="0.144" textLength="10.5" lengthAdjust="spacingAndGlyphs">0.06</text>
<text x="471.1" y="174.9" font-size="5.75" text-anchor="middle" fill="#333" stroke="#333" stroke-width="0.144" textLength="8.8" lengthAdjust="spacingAndGlyphs">0.11</text>
<line x1="302.0" y1="292.3" x2="302.0" y2="365.1" stroke="#1a1a1a" stroke-width="1.4"/>
<line x1="302.0" y1="365.1" x2="342.4" y2="365.1" stroke="#1a1a1a" stroke-width="1.4"/>
<line x1="299.4" y1="365.1" x2="302.0" y2="365.1" stroke="#1a1a1a" stroke-width="0.8"/>
<text x="296.3" y="367.0" font-size="6.09" text-anchor="end" fill="#333" stroke="#333" stroke-width="0.152" textLength="2.95" lengthAdjust="spacingAndGlyphs">0</text>
<line x1="299.4" y1="347.20000000000005" x2="302.0" y2="347.20000000000005" stroke="#1a1a1a" stroke-width="0.8"/>
<text x="296.3" y="349.1" font-size="6.09" text-anchor="end" fill="#333" stroke="#333" stroke-width="0.152" textLength="2.95" lengthAdjust="spacingAndGlyphs">1</text>
<line x1="299.4" y1="329.3" x2="302.0" y2="329.3" stroke="#1a1a1a" stroke-width="0.8"/>
<text x="296.3" y="331.2" font-size="6.09" text-anchor="end" fill="#333" stroke="#333" stroke-width="0.152" textLength="2.95" lengthAdjust="spacingAndGlyphs">2</text>
<line x1="299.4" y1="311.4" x2="302.0" y2="311.4" stroke="#1a1a1a" stroke-width="0.8"/>
<text x="296.3" y="313.29999999999995" font-size="6.09" text-anchor="end" fill="#333" stroke="#333" stroke-width="0.152" textLength="2.95" lengthAdjust="spacingAndGlyphs">3</text>
<line x1="299.4" y1="293.5" x2="302.0" y2="293.5" stroke="#1a1a1a" stroke-width="0.8"/>
<text x="296.3" y="295.4" font-size="6.09" text-anchor="end" fill="#333" stroke="#333" stroke-width="0.152" textLength="2.95" lengthAdjust="spacingAndGlyphs">4</text>
<rect x="304.1" y="347.20000000000005" width="10.5" height="17.899999999999977" fill="#badcf3"/>
<rect x="317.3" y="331.09000000000003" width="10.699999999999989" height="34.00999999999999" fill="#badcf3"/>
<rect x="330.2" y="349.348" width="10.600000000000023" height="15.75200000000001" fill="#badcf3"/>
<rect x="304.1" y="346.6" width="10.5" height="2.0" fill="#3a9ad8"/>
<line x1="322.65" y1="331.09000000000003" x2="322.65" y2="314.08500000000004" stroke="#4aa6d8" stroke-width="0.6"/>
<line x1="321.34999999999997" y1="314.08500000000004" x2="323.95" y2="314.08500000000004" stroke="#4aa6d8" stroke-width="0.6"/>
<line x1="335.5" y1="349.348" x2="335.5" y2="343.62" stroke="#4aa6d8" stroke-width="0.6"/>
<line x1="334.2" y1="343.62" x2="336.8" y2="343.62" stroke="#4aa6d8" stroke-width="0.6"/>
<circle cx="322.65" cy="314.09" r="1.3" fill="#2690c8"/>
<circle cx="319.05" cy="318.56" r="1.3" fill="#2690c8"/>
<circle cx="326.25" cy="320.35" r="1.3" fill="#2690c8"/>
<circle cx="320.85" cy="340.94" r="1.3" fill="#2690c8"/>
<circle cx="324.45" cy="343.62" r="1.3" fill="#2690c8"/>
<circle cx="319.05" cy="347.2" r="1.3" fill="#2690c8"/>
<circle cx="335.5" cy="339.15" r="1.3" fill="#2690c8"/>
<circle cx="331.9" cy="343.62" r="1.3" fill="#2690c8"/>
<circle cx="339.1" cy="348.1" r="1.3" fill="#2690c8"/>
<circle cx="333.7" cy="352.57" r="1.3" fill="#2690c8"/>
<circle cx="337.3" cy="353.47" r="1.3" fill="#2690c8"/>
<circle cx="331.9" cy="354.36" r="1.3" fill="#2690c8"/>
<line x1="309.35" y1="365.1" x2="309.35" y2="367.70000000000005" stroke="#1a1a1a" stroke-width="0.8"/>
<line x1="322.65" y1="365.1" x2="322.65" y2="367.70000000000005" stroke="#1a1a1a" stroke-width="0.8"/>
<line x1="335.5" y1="365.1" x2="335.5" y2="367.70000000000005" stroke="#1a1a1a" stroke-width="0.8"/>
<text x="312.45" y="374.4" font-size="6.32" text-anchor="end" fill="#333" stroke="#333" stroke-width="0.158" textLength="8.55" lengthAdjust="spacingAndGlyphs" transform="rotate(-45 312.45 374.4)">Ctrl</text>
<text x="325.75" y="373.9" font-size="6.32" text-anchor="end" fill="#333" stroke="#333" stroke-width="0.158" textLength="12.64" lengthAdjust="spacingAndGlyphs" transform="rotate(-45 325.75 373.9)">IL-1β</text>
<text x="338.6" y="373.9" font-size="6.32" text-anchor="end" fill="#333" stroke="#333" stroke-width="0.158" textLength="12.64" lengthAdjust="spacingAndGlyphs" transform="rotate(-45 338.6 373.9)">IL-1β</text>
<text x="342.8" y="378.6" font-size="6.32" text-anchor="end" fill="#333" stroke="#333" stroke-width="0.158" textLength="26.45" lengthAdjust="spacingAndGlyphs" transform="rotate(-45 342.8 378.6)">+ CA-4948</text>
<text x="288.0" y="327.9" font-size="6.99" text-anchor="middle" fill="#333" stroke="#333" stroke-width="0.175" textLength="26.6" lengthAdjust="spacingAndGlyphs" transform="rotate(-90 288.0 327.9)"><tspan font-style="italic">IL6</tspan> mRNA</text>
<line x1="310.65000000000003" y1="293.5" x2="334.2" y2="293.5" stroke="#444" stroke-width="0.75"/>
<text x="322.425" y="292.3" font-size="5.06" text-anchor="middle" fill="#333" stroke="#333" stroke-width="0.127" textLength="4.65" lengthAdjust="spacingAndGlyphs">ns</text>
<line x1="310.65000000000003" y1="301.5" x2="321.95" y2="301.5" stroke="#444" stroke-width="0.75"/>
<line x1="323.34999999999997" y1="301.5" x2="334.2" y2="301.5" stroke="#444" stroke-width="0.75"/>
<text x="314.0" y="299.9" font-size="5.75" text-anchor="middle" fill="#333" stroke="#333" stroke-width="0.144" textLength="16.5" lengthAdjust="spacingAndGlyphs">0.0413</text>
<text x="332.0" y="299.9" font-size="5.75" text-anchor="middle" fill="#333" stroke="#333" stroke-width="0.144" textLength="16.5" lengthAdjust="spacingAndGlyphs">0.0197</text>
<line x1="372.8" y1="292.1" x2="372.8" y2="364.8" stroke="#1a1a1a" stroke-width="1.4"/>
<line x1="372.8" y1="364.8" x2="412.8" y2="364.8" stroke="#1a1a1a" stroke-width="1.4"/>
<line x1="370.2" y1="364.8" x2="372.8" y2="364.8" stroke="#1a1a1a" stroke-width="0.8"/>
<text x="367.1" y="366.7" font-size="6.09" text-anchor="end" fill="#333" stroke="#333" stroke-width="0.152" textLength="2.95" lengthAdjust="spacingAndGlyphs">0</text>
<line x1="370.2" y1="346.925" x2="372.8" y2="346.925" stroke="#1a1a1a" stroke-width="0.8"/>
<text x="367.1" y="348.825" font-size="6.09" text-anchor="end" fill="#333" stroke="#333" stroke-width="0.152" textLength="5.89" lengthAdjust="spacingAndGlyphs">10</text>
<line x1="370.2" y1="329.05" x2="372.8" y2="329.05" stroke="#1a1a1a" stroke-width="0.8"/>
<text x="367.1" y="330.95" font-size="6.09" text-anchor="end" fill="#333" stroke="#333" stroke-width="0.152" textLength="5.89" lengthAdjust="spacingAndGlyphs">20</text>
<line x1="370.2" y1="311.175" x2="372.8" y2="311.175" stroke="#1a1a1a" stroke-width="0.8"/>
<text x="367.1" y="313.075" font-size="6.09" text-anchor="end" fill="#333" stroke="#333" stroke-width="0.152" textLength="5.89" lengthAdjust="spacingAndGlyphs">30</text>
<line x1="370.2" y1="293.3" x2="372.8" y2="293.3" stroke="#1a1a1a" stroke-width="0.8"/>
<text x="367.1" y="295.2" font-size="6.09" text-anchor="end" fill="#333" stroke="#333" stroke-width="0.152" textLength="5.89" lengthAdjust="spacingAndGlyphs">40</text>
<rect x="374.5" y="363.0125" width="11.300000000000011" height="1.7875000000000227" fill="#badcf3"/>
<rect x="387.5" y="350.5" width="10.800000000000011" height="14.300000000000011" fill="#badcf3"/>
<rect x="400.8" y="362.11875000000003" width="10.5" height="2.6812499999999773" fill="#badcf3"/>
<rect x="374.5" y="362.41249999999997" width="11.300000000000011" height="2.0" fill="#3a9ad8"/>
<line x1="392.9" y1="350.5" x2="392.9" y2="330.83750000000003" stroke="#4aa6d8" stroke-width="0.6"/>
<line x1="391.59999999999997" y1="330.83750000000003" x2="394.2" y2="330.83750000000003" stroke="#4aa6d8" stroke-width="0.6"/>
<line x1="406.05" y1="362.11875000000003" x2="406.05" y2="361.40375" stroke="#4aa6d8" stroke-width="0.6"/>
<line x1="404.75" y1="361.40375" x2="407.35" y2="361.40375" stroke="#4aa6d8" stroke-width="0.6"/>
<circle cx="392.9" cy="305.81" r="1.3" fill="#2690c8"/>
<circle cx="389.3" cy="345.14" r="1.3" fill="#2690c8"/>
<circle cx="396.5" cy="346.03" r="1.3" fill="#2690c8"/>
<circle cx="391.1" cy="359.44" r="1.3" fill="#2690c8"/>
<circle cx="394.7" cy="360.33" r="1.3" fill="#2690c8"/>
<circle cx="389.3" cy="362.12" r="1.3" fill="#2690c8"/>
<circle cx="406.05" cy="361.58" r="1.3" fill="#2690c8"/>
<circle cx="402.45" cy="362.12" r="1.3" fill="#2690c8"/>
<circle cx="409.65" cy="362.66" r="1.3" fill="#2690c8"/>
<circle cx="404.25" cy="363.01" r="1.3" fill="#2690c8"/>
<circle cx="407.85" cy="362.12" r="1.3" fill="#2690c8"/>
<line x1="380.15" y1="364.8" x2="380.15" y2="367.40000000000003" stroke="#1a1a1a" stroke-width="0.8"/>
<line x1="392.9" y1="364.8" x2="392.9" y2="367.40000000000003" stroke="#1a1a1a" stroke-width="0.8"/>
<line x1="406.05" y1="364.8" x2="406.05" y2="367.40000000000003" stroke="#1a1a1a" stroke-width="0.8"/>
<text x="383.25" y="374.1" font-size="6.32" text-anchor="end" fill="#333" stroke="#333" stroke-width="0.158" textLength="8.55" lengthAdjust="spacingAndGlyphs" transform="rotate(-45 383.25 374.1)">Ctrl</text>
<text x="396.0" y="373.6" font-size="6.32" text-anchor="end" fill="#333" stroke="#333" stroke-width="0.158" textLength="12.64" lengthAdjust="spacingAndGlyphs" transform="rotate(-45 396.0 373.6)">IL-1β</text>
<text x="409.15" y="373.6" font-size="6.32" text-anchor="end" fill="#333" stroke="#333" stroke-width="0.158" textLength="12.64" lengthAdjust="spacingAndGlyphs" transform="rotate(-45 409.15 373.6)">IL-1β</text>
<text x="413.35" y="378.3" font-size="6.32" text-anchor="end" fill="#333" stroke="#333" stroke-width="0.158" textLength="26.45" lengthAdjust="spacingAndGlyphs" transform="rotate(-45 413.35 378.3)">+ CA-4948</text>
<text x="356.0" y="326.95" font-size="6.99" text-anchor="middle" fill="#333" stroke="#333" stroke-width="0.175" textLength="34.7" lengthAdjust="spacingAndGlyphs" transform="rotate(-90 356.0 326.95)"><tspan font-style="italic">CXCL8</tspan> mRNA</text>
<line x1="381.45" y1="293.5" x2="404.75" y2="293.5" stroke="#444" stroke-width="0.75"/>
<text x="393.1" y="292.3" font-size="5.06" text-anchor="middle" fill="#333" stroke="#333" stroke-width="0.127" textLength="4.65" lengthAdjust="spacingAndGlyphs">ns</text>
<line x1="381.45" y1="301.5" x2="392.2" y2="301.5" stroke="#444" stroke-width="0.75"/>
<line x1="393.59999999999997" y1="301.5" x2="404.75" y2="301.5" stroke="#444" stroke-width="0.75"/>
<text x="387.5" y="299.9" font-size="5.75" text-anchor="middle" fill="#333" stroke="#333" stroke-width="0.144" textLength="9.5" lengthAdjust="spacingAndGlyphs">0.11</text>
<text x="400.5" y="299.9" font-size="5.75" text-anchor="middle" fill="#333" stroke="#333" stroke-width="0.144" textLength="9.5" lengthAdjust="spacingAndGlyphs">0.11</text>
<line x1="445.3" y1="292.1" x2="445.3" y2="364.8" stroke="#1a1a1a" stroke-width="1.4"/>
<line x1="445.3" y1="364.8" x2="485.8" y2="364.8" stroke="#1a1a1a" stroke-width="1.4"/>
<line x1="442.7" y1="364.8" x2="445.3" y2="364.8" stroke="#1a1a1a" stroke-width="0.8"/>
<text x="439.6" y="366.7" font-size="6.09" text-anchor="end" fill="#333" stroke="#333" stroke-width="0.152" textLength="2.95" lengthAdjust="spacingAndGlyphs">0</text>
<line x1="442.7" y1="350.5" x2="445.3" y2="350.5" stroke="#1a1a1a" stroke-width="0.8"/>
<text x="439.6" y="352.4" font-size="6.09" text-anchor="end" fill="#333" stroke="#333" stroke-width="0.152" textLength="2.95" lengthAdjust="spacingAndGlyphs">1</text>
<line x1="442.7" y1="336.2" x2="445.3" y2="336.2" stroke="#1a1a1a" stroke-width="0.8"/>
<text x="439.6" y="338.09999999999997" font-size="6.09" text-anchor="end" fill="#333" stroke="#333" stroke-width="0.152" textLength="2.95" lengthAdjust="spacingAndGlyphs">2</text>
<line x1="442.7" y1="321.90000000000003" x2="445.3" y2="321.90000000000003" stroke="#1a1a1a" stroke-width="0.8"/>
<text x="439.6" y="323.8" font-size="6.09" text-anchor="end" fill="#333" stroke="#333" stroke-width="0.152" textLength="2.95" lengthAdjust="spacingAndGlyphs">3</text>
<line x1="442.7" y1="307.6" x2="445.3" y2="307.6" stroke="#1a1a1a" stroke-width="0.8"/>
<text x="439.6" y="309.5" font-size="6.09" text-anchor="end" fill="#333" stroke="#333" stroke-width="0.152" textLength="2.95" lengthAdjust="spacingAndGlyphs">4</text>
<line x1="442.7" y1="293.3" x2="445.3" y2="293.3" stroke="#1a1a1a" stroke-width="0.8"/>
<text x="439.6" y="295.2" font-size="6.09" text-anchor="end" fill="#333" stroke="#333" stroke-width="0.152" textLength="2.95" lengthAdjust="spacingAndGlyphs">5</text>
<rect x="447.7" y="350.5" width="10.400000000000034" height="14.300000000000011" fill="#badcf3"/>
<rect x="460.2" y="329.05" width="11.0" height="35.75" fill="#badcf3"/>
<rect x="473.6" y="348.355" width="10.399999999999977" height="16.444999999999993" fill="#badcf3"/>
<rect x="447.7" y="349.9" width="10.400000000000034" height="2.0" fill="#3a9ad8"/>
<line x1="465.7" y1="329.05" x2="465.7" y2="310.46000000000004" stroke="#4aa6d8" stroke-width="0.6"/>
<line x1="464.4" y1="310.46000000000004" x2="467.0" y2="310.46000000000004" stroke="#4aa6d8" stroke-width="0.6"/>
<line x1="478.8" y1="348.355" x2="478.8" y2="339.06" stroke="#4aa6d8" stroke-width="0.6"/>
<line x1="477.5" y1="339.06" x2="480.1" y2="339.06" stroke="#4aa6d8" stroke-width="0.6"/>
<circle cx="465.7" cy="304.74" r="1.3" fill="#2690c8"/>
<circle cx="462.1" cy="309.03" r="1.3" fill="#2690c8"/>
<circle cx="469.3" cy="327.62" r="1.3" fill="#2690c8"/>
<circle cx="463.9" cy="333.34" r="1.3" fill="#2690c8"/>
<circle cx="467.5" cy="337.63" r="1.3" fill="#2690c8"/>
<circle cx="462.1" cy="349.79" r="1.3" fill="#2690c8"/>
<circle cx="478.8" cy="336.92" r="1.3" fill="#2690c8"/>
<circle cx="475.2" cy="339.78" r="1.3" fill="#2690c8"/>
<circle cx="482.4" cy="342.63" r="1.3" fill="#2690c8"/>
<circle cx="477.0" cy="353.36" r="1.3" fill="#2690c8"/>
<circle cx="480.6" cy="353.36" r="1.3" fill="#2690c8"/>
<circle cx="475.2" cy="357.65" r="1.3" fill="#2690c8"/>
<line x1="452.9" y1="364.8" x2="452.9" y2="367.40000000000003" stroke="#1a1a1a" stroke-width="0.8"/>
<line x1="465.7" y1="364.8" x2="465.7" y2="367.40000000000003" stroke="#1a1a1a" stroke-width="0.8"/>
<line x1="478.8" y1="364.8" x2="478.8" y2="367.40000000000003" stroke="#1a1a1a" stroke-width="0.8"/>
<text x="456.0" y="374.1" font-size="6.32" text-anchor="end" fill="#333" stroke="#333" stroke-width="0.158" textLength="8.55" lengthAdjust="spacingAndGlyphs" transform="rotate(-45 456.0 374.1)">Ctrl</text>
<text x="468.8" y="373.6" font-size="6.32" text-anchor="end" fill="#333" stroke="#333" stroke-width="0.158" textLength="12.64" lengthAdjust="spacingAndGlyphs" transform="rotate(-45 468.8 373.6)">IL-1β</text>
<text x="481.9" y="373.6" font-size="6.32" text-anchor="end" fill="#333" stroke="#333" stroke-width="0.158" textLength="12.64" lengthAdjust="spacingAndGlyphs" transform="rotate(-45 481.9 373.6)">IL-1β</text>
<text x="486.1" y="378.3" font-size="6.32" text-anchor="end" fill="#333" stroke="#333" stroke-width="0.158" textLength="26.45" lengthAdjust="spacingAndGlyphs" transform="rotate(-45 486.1 378.3)">+ CA-4948</text>
<text x="430.9" y="327.7" font-size="6.72" text-anchor="middle" fill="#333" stroke="#333" stroke-width="0.168" textLength="31.6" lengthAdjust="spacingAndGlyphs" transform="rotate(-90 430.9 327.7)"><tspan font-style="italic">CCL2</tspan> mRNA</text>
<line x1="454.2" y1="293.5" x2="477.5" y2="293.5" stroke="#444" stroke-width="0.75"/>
<text x="465.85" y="292.3" font-size="5.06" text-anchor="middle" fill="#333" stroke="#333" stroke-width="0.127" textLength="4.65" lengthAdjust="spacingAndGlyphs">ns</text>
<line x1="454.2" y1="301.5" x2="465.0" y2="301.5" stroke="#444" stroke-width="0.75"/>
<line x1="466.4" y1="301.5" x2="477.5" y2="301.5" stroke="#444" stroke-width="0.75"/>
<text x="456.0" y="299.9" font-size="5.75" text-anchor="middle" fill="#333" stroke="#333" stroke-width="0.144" textLength="17" lengthAdjust="spacingAndGlyphs">0.0372</text>
<text x="474.4" y="299.9" font-size="5.75" text-anchor="middle" fill="#333" stroke="#333" stroke-width="0.144" textLength="16" lengthAdjust="spacingAndGlyphs">0.0342</text>
<text x="274.8" y="421.9" font-size="11.0" text-anchor="start" fill="#111" font-weight="bold" stroke="#111" stroke-width="0.35">H</text>
<text x="370.8" y="435.4" font-size="5.98" text-anchor="end" fill="#333" stroke="#333" stroke-width="0.15" textLength="29" lengthAdjust="spacingAndGlyphs">Lin− CD34+</text>
<rect x="373.6" y="431.4" width="7.2" height="4.2" fill="#1f6fb8"/>
<text x="370.8" y="442.38" font-size="5.98" text-anchor="end" fill="#333" stroke="#333" stroke-width="0.15" textLength="20.4" lengthAdjust="spacingAndGlyphs">Platelets</text>
<rect x="373.6" y="438.38" width="7.2" height="4.2" fill="#f5821f"/>
<text x="370.8" y="449.35999999999996" font-size="5.98" text-anchor="end" fill="#333" stroke="#333" stroke-width="0.15" textLength="41" lengthAdjust="spacingAndGlyphs">Megakaryoblasts</text>
<rect x="373.6" y="445.35999999999996" width="7.2" height="4.2" fill="#2ca02c"/>
<text x="370.8" y="456.34" font-size="5.98" text-anchor="end" fill="#333" stroke="#333" stroke-width="0.15" textLength="31" lengthAdjust="spacingAndGlyphs">Erythroblasts</text>
<rect x="373.6" y="452.34" width="7.2" height="4.2" fill="#d62728"/>
<text x="370.8" y="463.32" font-size="5.98" text-anchor="end" fill="#333" stroke="#333" stroke-width="0.15" textLength="64" lengthAdjust="spacingAndGlyphs">CD14+ CD16+ Monocytes</text>
<rect x="373.6" y="459.32" width="7.2" height="4.2" fill="#9470c8"/>
<text x="370.8" y="470.29999999999995" font-size="5.98" text-anchor="end" fill="#333" stroke="#333" stroke-width="0.15" textLength="45.8" lengthAdjust="spacingAndGlyphs">CD14hi Monocytes</text>
<rect x="373.6" y="466.29999999999995" width="7.2" height="4.2" fill="#8c564b"/>
<text x="370.8" y="477.28" font-size="5.98" text-anchor="end" fill="#333" stroke="#333" stroke-width="0.15" textLength="45.8" lengthAdjust="spacingAndGlyphs">CD16hi Monocytes</text>
<rect x="373.6" y="473.28" width="7.2" height="4.2" fill="#e07cc2"/>
<text x="370.8" y="484.26" font-size="5.98" text-anchor="end" fill="#333" stroke="#333" stroke-width="0.15" textLength="38.5" lengthAdjust="spacingAndGlyphs">CD16hi NK cells</text>
<rect x="373.6" y="480.26" width="7.2" height="4.2" fill="#7f7f7f"/>
<text x="370.8" y="491.24" font-size="5.98" text-anchor="end" fill="#333" stroke="#333" stroke-width="0.15" textLength="15.4" lengthAdjust="spacingAndGlyphs">B cells</text>
<rect x="373.6" y="487.24" width="7.2" height="4.2" fill="#bcbd22"/>
<text x="370.8" y="498.21999999999997" font-size="5.98" text-anchor="end" fill="#333" stroke="#333" stroke-width="0.15" textLength="15" lengthAdjust="spacingAndGlyphs">T cells</text>
<rect x="373.6" y="494.21999999999997" width="7.2" height="4.2" fill="#2fb4d6"/>
<text x="370.8" y="505.2" font-size="5.98" text-anchor="end" fill="#333" stroke="#333" stroke-width="0.15" textLength="13.5" lengthAdjust="spacingAndGlyphs">pDCs</text>
<rect x="373.6" y="501.2" width="7.2" height="4.2" fill="#1a1a6e"/>
<text x="432.4" y="427.2" font-size="6.21" text-anchor="middle" fill="#333" stroke="#333" stroke-width="0.155" textLength="37" lengthAdjust="spacingAndGlyphs">652021 MF pET</text>
<text x="432.4" y="511.2" font-size="6.21" text-anchor="middle" fill="#333" stroke="#333" stroke-width="0.155" textLength="13" lengthAdjust="spacingAndGlyphs">Dim 1</text>
<text x="391.6" y="466.5" font-size="6.21" text-anchor="middle" fill="#333" stroke="#333" stroke-width="0.155" textLength="13" lengthAdjust="spacingAndGlyphs" transform="rotate(-90 391.6 466.5)">Dim 2</text>
<path d="M407 442.5 L410.8 440.2 L415.5 439.8 L418.5 441 L420.1 444.1 L420.8 448.7 L420.1 453.3 L420.5 456.4 L419.3 459.5 L417 462.5 L412.4 464.8 L407 465.6 L402.4 464.8 L401.2 461.8 L402 455.6 L403.2 451 L404.7 446.4 Z" fill="#33b1d6"/>
<path d="M417.8 436.4 L420.8 434.5 L425.5 433.7 L428.5 435.2 L429.3 438.7 L427.8 441 L429.3 442.5 L429.3 446.4 L427 447.5 L423.9 446.8 L422.8 443.7 L420.8 441.8 L418.9 439.5 Z" fill="#33b1d6"/>
<path d="M435.2 437.2 L438.2 435.2 L442.8 434.8 L446.7 436.8 L449 439.5 L448.2 442.5 L452.1 441.8 L455.5 443.3 L455.2 446 L452.1 447.9 L449.8 446.4 L447.5 445.2 L444.4 444.5 L440.5 443.3 L436.7 441.8 L435.2 439.5 Z" fill="#33b1d6"/>
<path d="M453.6 451 L456.7 449.8 L459.8 451.4 L462.1 455.6 L463.6 460.2 L462.8 464.8 L460.5 467.9 L456.7 468.7 L454.4 467.2 L452.8 463.3 L452.1 458.7 L452.5 454.1 Z" fill="#33b1d6"/>
<path d="M418.5 441 L421 440.5 L421.5 443 L419.5 444 Z" fill="#33b1d6"/>
<path d="M429.3 438.7 L432 438 L435.2 439.5 L434 441.5 L430.5 441.5 Z" fill="#6cc6e2"/>
<circle cx="420.33" cy="444.48" r="0.5" fill="#5cc0e0"/>
<circle cx="422.89" cy="447.25" r="0.5" fill="#5cc0e0"/>
<circle cx="419.65" cy="449.07" r="0.5" fill="#5cc0e0"/>
<circle cx="423.56" cy="453.83" r="0.5" fill="#5cc0e0"/>
<circle cx="420.29" cy="445.79" r="0.5" fill="#5cc0e0"/>
<circle cx="423.6" cy="450.85" r="0.5" fill="#5cc0e0"/>
<circle cx="422.5" cy="445.07" r="0.5" fill="#5cc0e0"/>
<circle cx="419.29" cy="452.26" r="0.5" fill="#5cc0e0"/>
<circle cx="421.13" cy="444.87" r="0.5" fill="#5cc0e0"/>
<circle cx="423.69" cy="451.61" r="0.5" fill="#5cc0e0"/>
<circle cx="423.01" cy="445.0" r="0.5" fill="#5cc0e0"/>
<circle cx="423.28" cy="444.8" r="0.5" fill="#5cc0e0"/>
<circle cx="423.31" cy="449.45" r="0.5" fill="#5cc0e0"/>
<circle cx="420.7" cy="450.64" r="0.5" fill="#5cc0e0"/>
<circle cx="423.63" cy="447.21" r="0.5" fill="#5cc0e0"/>
<circle cx="419.65" cy="450.32" r="0.5" fill="#5cc0e0"/>
<circle cx="420.19" cy="445.31" r="0.5" fill="#5cc0e0"/>
<circle cx="419.81" cy="444.6" r="0.5" fill="#5cc0e0"/>
<circle cx="420.01" cy="447.74" r="0.5" fill="#5cc0e0"/>
<circle cx="420.53" cy="453.11" r="0.5" fill="#5cc0e0"/>
<circle cx="420.45" cy="450.0" r="0.5" fill="#5cc0e0"/>
<circle cx="419.89" cy="448.16" r="0.5" fill="#5cc0e0"/>
<circle cx="419.09" cy="447.01" r="0.5" fill="#5cc0e0"/>
<circle cx="419.08" cy="452.8" r="0.5" fill="#5cc0e0"/>
<circle cx="421.76" cy="446.27" r="0.5" fill="#5cc0e0"/>
<path d="M429.8 448.7 L432.8 446.8 L437.5 446.4 L442.1 447.5 L445.9 450.2 L447.5 454.1 L446.7 457.9 L443.6 461 L439.8 461.8 L436.7 460.2 L433.6 458.7 L430.5 456.4 L429 453.3 Z" fill="#d9bcb2"/>
<circle cx="445.86" cy="453.88" r="0.55" fill="#9c5a4e"/>
<circle cx="440.88" cy="456.55" r="0.55" fill="#c8a090"/>
<circle cx="445.05" cy="454.92" r="0.55" fill="#f0e0e0"/>
<circle cx="433.27" cy="451.46" r="0.55" fill="#9c5a4e"/>
<circle cx="444.07" cy="451.97" r="0.55" fill="#9c5a4e"/>
<circle cx="435.58" cy="452.87" r="0.55" fill="#8c4b40"/>
<circle cx="429.75" cy="459.14" r="0.55" fill="#ffffff"/>
<circle cx="430.47" cy="453.25" r="0.55" fill="#c8a090"/>
<circle cx="441.23" cy="459.62" r="0.55" fill="#ffffff"/>
<circle cx="441.62" cy="455.68" r="0.55" fill="#9c5a4e"/>
<circle cx="432.26" cy="453.66" r="0.55" fill="#c8a090"/>
<circle cx="435.87" cy="447.05" r="0.55" fill="#ffffff"/>
<circle cx="439.07" cy="461.1" r="0.55" fill="#ffffff"/>
<circle cx="444.94" cy="447.5" r="0.55" fill="#9c5a4e"/>
<circle cx="429.52" cy="452.17" r="0.55" fill="#ffffff"/>
<circle cx="434.38" cy="448.22" r="0.55" fill="#9c5a4e"/>
<circle cx="443.08" cy="450.6" r="0.55" fill="#8c4b40"/>
<circle cx="431.07" cy="450.83" r="0.55" fill="#ffffff"/>
<circle cx="436.39" cy="455.51" r="0.55" fill="#ffffff"/>
<circle cx="433.57" cy="451.41" r="0.55" fill="#a86a5a"/>
<circle cx="444.43" cy="460.89" r="0.55" fill="#ffffff"/>
<circle cx="442.03" cy="456.53" r="0.55" fill="#f0e0e0"/>
<circle cx="435.21" cy="452.65" r="0.55" fill="#ffffff"/>
<circle cx="442.17" cy="449.17" r="0.55" fill="#9c5a4e"/>
<circle cx="444.12" cy="447.63" r="0.55" fill="#a86a5a"/>
<circle cx="442.34" cy="456.1" r="0.55" fill="#f0e0e0"/>
<circle cx="438.67" cy="449.02" r="0.55" fill="#a86a5a"/>
<circle cx="443.73" cy="455.24" r="0.55" fill="#9c5a4e"/>
<circle cx="439.72" cy="458.98" r="0.55" fill="#ffffff"/>
<circle cx="430.23" cy="448.23" r="0.55" fill="#ffffff"/>
<circle cx="436.09" cy="460.91" r="0.55" fill="#c8a090"/>
<circle cx="440.49" cy="455.1" r="0.55" fill="#f0e0e0"/>
<circle cx="438.06" cy="456.87" r="0.55" fill="#9c5a4e"/>
<circle cx="430.73" cy="453.63" r="0.55" fill="#f0e0e0"/>
<circle cx="431.11" cy="460.02" r="0.55" fill="#f0e0e0"/>
<circle cx="442.39" cy="447.96" r="0.55" fill="#ffffff"/>
<circle cx="444.31" cy="458.73" r="0.55" fill="#ffffff"/>
<circle cx="433.09" cy="457.58" r="0.55" fill="#c8a090"/>
<circle cx="436.19" cy="454.16" r="0.55" fill="#c8a090"/>
<circle cx="434.53" cy="460.2" r="0.55" fill="#9c5a4e"/>
<circle cx="440.75" cy="455.95" r="0.55" fill="#9c5a4e"/>
<circle cx="435.31" cy="455.7" r="0.55" fill="#ffffff"/>
<circle cx="431.84" cy="456.01" r="0.55" fill="#c8a090"/>
<circle cx="434.2" cy="447.88" r="0.55" fill="#8c4b40"/>
<circle cx="441.32" cy="457.04" r="0.55" fill="#ffffff"/>
<circle cx="434.5" cy="457.28" r="0.55" fill="#c8a090"/>
<circle cx="431.57" cy="453.76" r="0.55" fill="#f0e0e0"/>
<circle cx="446.62" cy="449.89" r="0.55" fill="#ffffff"/>
<circle cx="437.53" cy="447.25" r="0.55" fill="#a86a5a"/>
<circle cx="437.37" cy="461.04" r="0.55" fill="#ffffff"/>
<circle cx="445.54" cy="452.61" r="0.55" fill="#9c5a4e"/>
<circle cx="431.08" cy="448.08" r="0.55" fill="#a86a5a"/>
<circle cx="435.79" cy="450.8" r="0.55" fill="#a86a5a"/>
<circle cx="438.4" cy="458.89" r="0.55" fill="#9c5a4e"/>
<circle cx="433.55" cy="457.2" r="0.55" fill="#c8a090"/>
<circle cx="432.28" cy="452.71" r="0.55" fill="#ffffff"/>
<circle cx="436.59" cy="456.88" r="0.55" fill="#ffffff"/>
<circle cx="436.08" cy="453.03" r="0.55" fill="#9c5a4e"/>
<circle cx="429.53" cy="459.18" r="0.55" fill="#ffffff"/>
<circle cx="431.6" cy="459.17" r="0.55" fill="#ffffff"/>
<circle cx="445.28" cy="457.34" r="0.55" fill="#ffffff"/>
<circle cx="430.64" cy="450.67" r="0.55" fill="#ffffff"/>
<circle cx="439.81" cy="461.48" r="0.55" fill="#ffffff"/>
<circle cx="442.72" cy="460.42" r="0.55" fill="#9c5a4e"/>
<circle cx="430.4" cy="451.07" r="0.55" fill="#ffffff"/>
<circle cx="432.11" cy="456.21" r="0.55" fill="#ffffff"/>
<circle cx="435.02" cy="453.33" r="0.55" fill="#ffffff"/>
<circle cx="436.99" cy="458.38" r="0.55" fill="#9c5a4e"/>
<circle cx="440.54" cy="458.77" r="0.55" fill="#f0e0e0"/>
<circle cx="442.09" cy="454.96" r="0.55" fill="#9c5a4e"/>
<circle cx="436.69" cy="460.54" r="0.55" fill="#f0e0e0"/>
<circle cx="440.78" cy="457.91" r="0.55" fill="#ffffff"/>
<circle cx="445.46" cy="454.04" r="0.55" fill="#f0e0e0"/>
<circle cx="437.76" cy="448.85" r="0.55" fill="#ffffff"/>
<circle cx="433.98" cy="451.09" r="0.55" fill="#ffffff"/>
<circle cx="433.68" cy="452.89" r="0.55" fill="#ffffff"/>
<circle cx="436.4" cy="455.08" r="0.55" fill="#ffffff"/>
<circle cx="430.82" cy="456.33" r="0.55" fill="#f0e0e0"/>
<circle cx="438.2" cy="460.14" r="0.55" fill="#ffffff"/>
<circle cx="435.32" cy="453.57" r="0.55" fill="#c8a090"/>
<circle cx="439.09" cy="453.2" r="0.55" fill="#ffffff"/>
<circle cx="435.48" cy="448.32" r="0.55" fill="#8c4b40"/>
<circle cx="435.95" cy="451.63" r="0.55" fill="#a86a5a"/>
<circle cx="429.85" cy="449.93" r="0.55" fill="#ffffff"/>
<circle cx="442.55" cy="452.55" r="0.55" fill="#9c5a4e"/>
<circle cx="435.42" cy="452.46" r="0.55" fill="#8c4b40"/>
<circle cx="439.55" cy="454.22" r="0.55" fill="#ffffff"/>
<circle cx="438.31" cy="448.83" r="0.55" fill="#9c5a4e"/>
<circle cx="445.19" cy="448.34" r="0.55" fill="#ffffff"/>
<circle cx="437.3" cy="452.8" r="0.55" fill="#ffffff"/>
<path d="M422.4 458.2 L425.5 457.2 L427.8 459.5 L427.2 462.5 L424.5 463.5 L422.4 461.8 Z" fill="#d49ac8"/>
<path d="M421.6 474 L424.5 470 L429 468.5 L432.8 467.6 L437.5 469.2 L441.3 471.5 L442.8 476.1 L444 480.7 L442.8 486.1 L440.5 491.5 L437.5 495.3 L433.6 496.8 L430.1 494.5 L427 492 L423 488.5 L421 484 L420.4 479 Z" fill="#2272b6"/>
<circle cx="437.88" cy="491.97" r="0.7" fill="#7a50a8"/>
<circle cx="426.31" cy="478.52" r="0.7" fill="#7a50a8"/>
<circle cx="435.93" cy="492.33" r="0.7" fill="#7a50a8"/>
<circle cx="432.63" cy="487.39" r="0.7" fill="#7a50a8"/>
<circle cx="426.0" cy="484.26" r="0.7" fill="#7a50a8"/>
<circle cx="438.98" cy="491.21" r="0.7" fill="#7a50a8"/>
<circle cx="437.98" cy="493.56" r="0.7" fill="#7a50a8"/>
<circle cx="429.48" cy="479.74" r="0.7" fill="#7a50a8"/>
<circle cx="428.16" cy="486.36" r="0.7" fill="#7a50a8"/>
<circle cx="435.55" cy="493.06" r="0.7" fill="#7a50a8"/>
<path d="M401.6 473 L404.7 470.7 L408.5 470.3 L412.4 473 L415.5 475.3 L414.7 478.4 L416.2 481.5 L417.8 486.1 L417 491.5 L415.5 493.8 L413.2 493 L410.1 489.2 L406.2 485.3 L402.4 483 L400.5 479.9 L400.1 476.1 Z" fill="#f5841c"/>
<path d="M415.5 492.2 L419.3 489.2 L422.4 487.6 L425.5 489.2 L427.8 491.5 L430.1 493.8 L432.4 495.3 L430.8 496.8 L427.8 496.1 L423.9 494.5 L420.1 493.8 L417 494.5 Z" fill="#3e9e2e"/>
<path d="M432.1 496.1 L435 495.5 L437.5 496.5 L437.2 498.6 L433.5 498.9 Z" fill="#c8283a"/>
<path d="M449.8 473.8 L454.4 472.6 L458.2 474.5 L457.5 477.6 L453.6 478.4 L450.5 477.2 Z" fill="#a0a0a0"/>
<path d="M461.3 476.1 L463.2 475.3 L464 477.6 L462.8 480.7 L460.5 481.5 L460.2 479.5 Z" fill="#14146a"/>
<path d="M450.5 483 L453.6 481.5 L456.7 482.6 L458.2 484.9 L456.7 486.8 L452.8 487.2 L450.9 486.1 Z" fill="#c6d22c"/>
<circle cx="425" cy="498" r="0.8" fill="#9a5ab0"/>
<circle cx="423.5" cy="496.5" r="0.6" fill="#9a5ab0"/>
<circle cx="450.83" cy="469.24" r="0.45" fill="#8c5a50"/>
<circle cx="441.28" cy="472.09" r="0.45" fill="#a0786e"/>
<circle cx="451.73" cy="460.12" r="0.45" fill="#a0786e"/>
<circle cx="449.68" cy="461.68" r="0.45" fill="#c0a090"/>
<circle cx="449.4" cy="466.62" r="0.45" fill="#8c5a50"/>
<circle cx="450.48" cy="457.47" r="0.45" fill="#a0786e"/>
<circle cx="444.51" cy="475.76" r="0.45" fill="#c0a090"/>
<circle cx="445.82" cy="459.92" r="0.45" fill="#a0786e"/>
<circle cx="440.16" cy="461.63" r="0.45" fill="#8c5a50"/>
<circle cx="444.18" cy="461.96" r="0.45" fill="#c0a090"/>
<circle cx="447.13" cy="460.16" r="0.45" fill="#c0a090"/>
<circle cx="440.44" cy="464.06" r="0.45" fill="#b0c8e0"/>
<circle cx="440.83" cy="459.27" r="0.45" fill="#8c5a50"/>
<circle cx="441.22" cy="460.01" r="0.45" fill="#8c5a50"/>
<circle cx="453.88" cy="459.99" r="0.45" fill="#a0786e"/>
<circle cx="450.44" cy="470.8" r="0.45" fill="#b0c8e0"/>
<circle cx="450.24" cy="459.36" r="0.45" fill="#b0c8e0"/>
<circle cx="451.09" cy="466.11" r="0.45" fill="#c0a090"/>
<circle cx="447.44" cy="459.41" r="0.45" fill="#c0a090"/>
<circle cx="443.46" cy="459.87" r="0.45" fill="#b0c8e0"/>
<circle cx="441.64" cy="468.72" r="0.45" fill="#c0a090"/>
<circle cx="453.45" cy="465.67" r="0.45" fill="#a0786e"/>
<circle cx="454.23" cy="458.22" r="0.45" fill="#8c5a50"/>
<circle cx="440.82" cy="455.52" r="0.45" fill="#c0a090"/>
<circle cx="446.23" cy="470.62" r="0.45" fill="#c0a090"/>
<circle cx="445.9" cy="474.76" r="0.45" fill="#b0c8e0"/>
<circle cx="450.99" cy="476.95" r="0.45" fill="#c0a090"/>
<circle cx="444.94" cy="459.08" r="0.45" fill="#8c5a50"/>
<circle cx="440.48" cy="469.62" r="0.45" fill="#8c5a50"/>
<circle cx="452.59" cy="476.67" r="0.45" fill="#8c5a50"/>
<circle cx="442.54" cy="455.06" r="0.45" fill="#b0c8e0"/>
<circle cx="441.21" cy="464.24" r="0.45" fill="#a0786e"/>
<circle cx="448.42" cy="471.69" r="0.45" fill="#8c5a50"/>
<circle cx="445.35" cy="473.07" r="0.45" fill="#8c5a50"/>
<circle cx="441.32" cy="470.52" r="0.45" fill="#c0a090"/>
<circle cx="445.59" cy="475.23" r="0.45" fill="#c0a090"/>
<circle cx="444.85" cy="471.22" r="0.45" fill="#8c5a50"/>
<circle cx="440.45" cy="464.04" r="0.45" fill="#8c5a50"/>
<circle cx="440.61" cy="455.77" r="0.45" fill="#a0786e"/>
<circle cx="452.05" cy="456.36" r="0.45" fill="#c0a090"/>
<circle cx="451.21" cy="474.77" r="0.45" fill="#b0c8e0"/>
<circle cx="445.44" cy="462.37" r="0.45" fill="#a0786e"/>
<circle cx="443.93" cy="470.77" r="0.45" fill="#b0c8e0"/>
<circle cx="453.86" cy="461.54" r="0.45" fill="#a0786e"/>
<circle cx="440.36" cy="460.15" r="0.45" fill="#8c5a50"/>
<circle cx="450.73" cy="465.25" r="0.45" fill="#8c5a50"/>
<circle cx="451.85" cy="475.1" r="0.45" fill="#8c5a50"/>
<circle cx="441.99" cy="465.92" r="0.45" fill="#a0786e"/>
<circle cx="452.04" cy="471.25" r="0.45" fill="#c0a090"/>
<circle cx="449.11" cy="462.21" r="0.45" fill="#b0c8e0"/>
<circle cx="446.91" cy="472.24" r="0.45" fill="#a0786e"/>
<circle cx="447.68" cy="463.62" r="0.45" fill="#c0a090"/>
<circle cx="443.71" cy="456.42" r="0.45" fill="#a0786e"/>
<circle cx="447.23" cy="466.98" r="0.45" fill="#c0a090"/>
<circle cx="454.7" cy="474.44" r="0.45" fill="#a0786e"/>
<circle cx="443.97" cy="456.85" r="0.45" fill="#a0786e"/>
<circle cx="446.32" cy="476.75" r="0.45" fill="#8c5a50"/>
<circle cx="442.6" cy="457.92" r="0.45" fill="#8c5a50"/>
<circle cx="449.3" cy="469.83" r="0.45" fill="#a0786e"/>
<circle cx="451.7" cy="461.47" r="0.45" fill="#b0c8e0"/>
<circle cx="448.5" cy="463.21" r="0.45" fill="#b0c8e0"/>
<circle cx="442.99" cy="460.44" r="0.45" fill="#c0a090"/>
<circle cx="443.53" cy="461.19" r="0.45" fill="#c0a090"/>
<circle cx="444.9" cy="463.71" r="0.45" fill="#c0a090"/>
<circle cx="447.61" cy="460.09" r="0.45" fill="#a0786e"/>
<circle cx="449.8" cy="476.8" r="0.45" fill="#a0786e"/>
<circle cx="440.07" cy="474.42" r="0.45" fill="#c0a090"/>
<circle cx="452.61" cy="475.12" r="0.45" fill="#a0786e"/>
<circle cx="453.15" cy="460.12" r="0.45" fill="#a0786e"/>
<circle cx="442.84" cy="476.41" r="0.45" fill="#c0a090"/>
<rect x="396.6" y="431.1" width="72.1" height="72.2" fill="none" stroke="#333" stroke-width="0.8"/>
<rect x="8.7" y="553.4" width="2.0" height="6.9" fill="#111"/>
<text x="128.4" y="561.0" font-size="7.13" text-anchor="middle" fill="#333" stroke="#333" stroke-width="0.178" textLength="54" lengthAdjust="spacingAndGlyphs">CD14+ Monocytes</text>
<line x1="22" y1="566.2" x2="234.6" y2="566.2" stroke="#444" stroke-width="1.2"/>
<text x="75.4" y="576.6" font-size="5.75" text-anchor="middle" fill="#333" stroke="#333" stroke-width="0.144" textLength="14" lengthAdjust="spacingAndGlyphs">Basal</text>
<text x="122.3" y="576.6" font-size="5.75" text-anchor="middle" fill="#333" stroke="#333" stroke-width="0.144" textLength="21" lengthAdjust="spacingAndGlyphs">CA-4948</text>
<text x="167.4" y="576.6" font-size="5.75" text-anchor="middle" fill="#333" stroke="#333" stroke-width="0.144" textLength="12" lengthAdjust="spacingAndGlyphs">IL-1β</text>
<text x="212.7" y="576.6" font-size="5.75" text-anchor="middle" fill="#333" stroke="#333" stroke-width="0.144" textLength="26" lengthAdjust="spacingAndGlyphs">IL-1β + CA</text>
<rect x="53.7" y="579.6" width="43.3" height="42.5" fill="none" stroke="#8a8a8a" stroke-width="0.7"/>
<rect x="66.4" y="591.5" width="29.0" height="28.4" fill="none" stroke="#5a5a9c" stroke-width="0.7"/>
<text x="89.7" y="588.8000000000001" font-size="5.98" text-anchor="end" fill="#333" stroke="#333" stroke-width="0.15" textLength="10.12" lengthAdjust="spacingAndGlyphs">1.70</text>
<path d="M58.0 592.2 L61.900000000000006 593.2 L65.5 597.4000000000001 L67.7 599.0000000000001 L71.2 600.2 L71.2 601.7 L67.7 602.9000000000001 L65.5 605.2 L61.900000000000006 610.0000000000001 L58.0 611.0000000000001 Z" fill="#12122c" filter="url(#bl)"/>
<ellipse cx="60.900000000000006" cy="601.4000000000001" rx="2.9" ry="3.8" fill="#2b46a0" filter="url(#bl)"/>
<ellipse cx="59.900000000000006" cy="601.1" rx="1.5" ry="1.8" fill="#4fb4d4" filter="url(#bl)"/>
<circle cx="62.7" cy="605.3" r="0.9" fill="#6a2a8a"/>
<circle cx="80.79" cy="600.03" r="0.4" fill="#555"/>
<circle cx="74.54" cy="599.36" r="0.4" fill="#999"/>
<circle cx="80.99" cy="598.43" r="0.4" fill="#999"/>
<circle cx="77.93" cy="599.9" r="0.4" fill="#555"/>
<circle cx="73.49" cy="598.65" r="0.4" fill="#555"/>
<circle cx="81.7" cy="598.03" r="0.4" fill="#999"/>
<circle cx="77.17" cy="599.02" r="0.4" fill="#555"/>
<circle cx="79.34" cy="600.25" r="0.4" fill="#888"/>
<circle cx="71.11" cy="599.67" r="0.4" fill="#555"/>
<circle cx="69.11" cy="600.77" r="0.4" fill="#888"/>
<circle cx="69.52" cy="598.41" r="0.4" fill="#888"/>
<circle cx="77.33" cy="598.73" r="0.4" fill="#999"/>
<circle cx="69.88" cy="598.78" r="0.4" fill="#999"/>
<circle cx="72.23" cy="603.73" r="0.4" fill="#999"/>
<circle cx="72.7" cy="603.52" r="0.4" fill="#888"/>
<circle cx="78.39" cy="603.1" r="0.4" fill="#888"/>
<circle cx="74.11" cy="602.99" r="0.4" fill="#888"/>
<circle cx="77.08" cy="600.14" r="0.4" fill="#888"/>
<circle cx="71.35" cy="597.84" r="0.4" fill="#555"/>
<circle cx="74.21" cy="602.72" r="0.4" fill="#888"/>
<rect x="99.9" y="579.6" width="43.3" height="42.5" fill="none" stroke="#8a8a8a" stroke-width="0.7"/>
<rect x="112.60000000000001" y="591.5" width="29.0" height="28.4" fill="none" stroke="#5a5a9c" stroke-width="0.7"/>
<text x="135.9" y="588.8000000000001" font-size="5.98" text-anchor="end" fill="#333" stroke="#333" stroke-width="0.15" textLength="10.12" lengthAdjust="spacingAndGlyphs">1.20</text>
<path d="M104.2 592.2 L108.10000000000001 593.2 L111.7 597.4000000000001 L113.9 599.0000000000001 L117.4 600.2 L117.4 601.7 L113.9 602.9000000000001 L111.7 605.2 L108.10000000000001 610.0000000000001 L104.2 611.0000000000001 Z" fill="#12122c" filter="url(#bl)"/>
<ellipse cx="107.10000000000001" cy="601.4000000000001" rx="2.9" ry="3.8" fill="#2b46a0" filter="url(#bl)"/>
<ellipse cx="106.10000000000001" cy="601.1" rx="1.5" ry="1.8" fill="#4fb4d4" filter="url(#bl)"/>
<circle cx="108.9" cy="605.3" r="0.9" fill="#6a2a8a"/>
<circle cx="122.41" cy="599.99" r="0.4" fill="#555"/>
<circle cx="116.59" cy="598.11" r="0.4" fill="#555"/>
<circle cx="123.23" cy="603.26" r="0.4" fill="#555"/>
<circle cx="122.35" cy="603.36" r="0.4" fill="#999"/>
<circle cx="121.46" cy="598.68" r="0.4" fill="#888"/>
<circle cx="117.0" cy="598.83" r="0.4" fill="#555"/>
<circle cx="116.31" cy="600.74" r="0.4" fill="#555"/>
<circle cx="118.82" cy="602.82" r="0.4" fill="#555"/>
<circle cx="127.58" cy="600.7" r="0.4" fill="#555"/>
<circle cx="122.8" cy="601.62" r="0.4" fill="#555"/>
<circle cx="126.65" cy="601.52" r="0.4" fill="#555"/>
<circle cx="123.22" cy="602.94" r="0.4" fill="#999"/>
<circle cx="120.16" cy="602.88" r="0.4" fill="#888"/>
<circle cx="117.28" cy="599.11" r="0.4" fill="#888"/>
<circle cx="127.1" cy="598.74" r="0.4" fill="#888"/>
<circle cx="116.5" cy="599.28" r="0.4" fill="#999"/>
<circle cx="125.5" cy="598.96" r="0.4" fill="#999"/>
<circle cx="125.85" cy="601.83" r="0.4" fill="#999"/>
<circle cx="125.8" cy="598.51" r="0.4" fill="#999"/>
<circle cx="120.82" cy="602.89" r="0.4" fill="#888"/>
<rect x="145.8" y="579.6" width="43.3" height="42.5" fill="none" stroke="#8a8a8a" stroke-width="0.7"/>
<rect x="158.5" y="591.5" width="29.0" height="28.4" fill="none" stroke="#5a5a9c" stroke-width="0.7"/>
<text x="181.8" y="588.8000000000001" font-size="5.98" text-anchor="end" fill="#333" stroke="#333" stroke-width="0.15" textLength="10.12" lengthAdjust="spacingAndGlyphs">1.36</text>
<path d="M150.10000000000002 592.2 L154.0 593.2 L157.60000000000002 597.4000000000001 L159.8 599.0000000000001 L163.3 600.2 L163.3 601.7 L159.8 602.9000000000001 L157.60000000000002 605.2 L154.0 610.0000000000001 L150.10000000000002 611.0000000000001 Z" fill="#12122c" filter="url(#bl)"/>
<ellipse cx="153.0" cy="601.4000000000001" rx="2.9" ry="3.8" fill="#2b46a0" filter="url(#bl)"/>
<ellipse cx="152.0" cy="601.1" rx="1.5" ry="1.8" fill="#4fb4d4" filter="url(#bl)"/>
<circle cx="154.8" cy="605.3" r="0.9" fill="#6a2a8a"/>
<circle cx="169.24" cy="599.65" r="0.4" fill="#555"/>
<circle cx="166.33" cy="601.75" r="0.4" fill="#888"/>
<circle cx="167.35" cy="598.87" r="0.4" fill="#555"/>
<circle cx="168.85" cy="600.74" r="0.4" fill="#555"/>
<circle cx="166.61" cy="601.51" r="0.4" fill="#888"/>
<circle cx="171.68" cy="602.66" r="0.4" fill="#888"/>
<circle cx="162.19" cy="598.57" r="0.4" fill="#888"/>
<circle cx="165.55" cy="602.61" r="0.4" fill="#999"/>
<circle cx="167.43" cy="598.04" r="0.4" fill="#999"/>
<circle cx="162.49" cy="603.33" r="0.4" fill="#888"/>
<circle cx="170.91" cy="600.87" r="0.4" fill="#555"/>
<circle cx="170.58" cy="603.17" r="0.4" fill="#999"/>
<circle cx="173.16" cy="598.62" r="0.4" fill="#555"/>
<circle cx="173.75" cy="602.19" r="0.4" fill="#555"/>
<circle cx="163.32" cy="603.69" r="0.4" fill="#888"/>
<circle cx="164.54" cy="602.67" r="0.4" fill="#555"/>
<circle cx="169.72" cy="602.13" r="0.4" fill="#555"/>
<circle cx="161.65" cy="599.91" r="0.4" fill="#888"/>
<circle cx="162.86" cy="603.18" r="0.4" fill="#888"/>
<circle cx="172.57" cy="600.54" r="0.4" fill="#888"/>
<rect x="191.5" y="579.6" width="43.3" height="42.5" fill="none" stroke="#8a8a8a" stroke-width="0.7"/>
<rect x="204.2" y="591.5" width="29.0" height="28.4" fill="none" stroke="#5a5a9c" stroke-width="0.7"/>
<text x="227.5" y="588.8000000000001" font-size="5.98" text-anchor="end" fill="#333" stroke="#333" stroke-width="0.15" textLength="10.12" lengthAdjust="spacingAndGlyphs">6.89</text>
<path d="M195.8 591.1680000000001 L199.7 592.288 L203.3 597.4000000000001 L210.5 599.0000000000001 L214.0 600.2 L214.0 601.7 L210.5 602.9000000000001 L203.3 605.2 L199.7 611.104 L195.8 612.224 Z" fill="#12122c" filter="url(#bl)"/>
<ellipse cx="198.7" cy="601.4000000000001" rx="2.9" ry="3.8" fill="#2b46a0" filter="url(#bl)"/>
<ellipse cx="197.7" cy="601.1" rx="1.5" ry="1.8" fill="#4fb4d4" filter="url(#bl)"/>
<circle cx="200.5" cy="605.3" r="0.9" fill="#6a2a8a"/>
<circle cx="215.54" cy="603.32" r="0.4" fill="#555"/>
<circle cx="217.15" cy="601.5" r="0.4" fill="#555"/>
<circle cx="212.24" cy="598.02" r="0.4" fill="#555"/>
<circle cx="213.76" cy="601.62" r="0.4" fill="#888"/>
<circle cx="218.73" cy="603.17" r="0.4" fill="#555"/>
<circle cx="220.76" cy="599.39" r="0.4" fill="#999"/>
<circle cx="207.37" cy="602.95" r="0.4" fill="#888"/>
<circle cx="216.49" cy="601.28" r="0.4" fill="#555"/>
<circle cx="211.04" cy="601.01" r="0.4" fill="#888"/>
<circle cx="219.78" cy="600.03" r="0.4" fill="#888"/>
<circle cx="224.33" cy="601.26" r="0.4" fill="#888"/>
<circle cx="212.45" cy="598.29" r="0.4" fill="#555"/>
<circle cx="209.68" cy="602.26" r="0.4" fill="#555"/>
<circle cx="211.83" cy="600.9" r="0.4" fill="#888"/>
<circle cx="218.01" cy="603.7" r="0.4" fill="#999"/>
<circle cx="223.21" cy="603.17" r="0.4" fill="#999"/>
<circle cx="206.53" cy="598.0" r="0.4" fill="#555"/>
<circle cx="211.74" cy="601.55" r="0.4" fill="#888"/>
<circle cx="215.73" cy="603.17" r="0.4" fill="#555"/>
<circle cx="215.29" cy="601.48" r="0.4" fill="#555"/>
<circle cx="206.9" cy="597.82" r="0.4" fill="#888"/>
<circle cx="211.97" cy="600.94" r="0.4" fill="#999"/>
<circle cx="210.54" cy="601.3" r="0.4" fill="#999"/>
<circle cx="208.91" cy="600.0" r="0.4" fill="#888"/>
<circle cx="209.36" cy="597.88" r="0.4" fill="#555"/>
<circle cx="219.23" cy="600.51" r="0.4" fill="#555"/>
<circle cx="217.99" cy="603.03" r="0.4" fill="#888"/>
<circle cx="213.74" cy="599.39" r="0.4" fill="#555"/>
<circle cx="207.51" cy="602.73" r="0.4" fill="#888"/>
<circle cx="217.21" cy="601.27" r="0.4" fill="#999"/>
<rect x="53.7" y="624.3" width="43.3" height="42.5" fill="none" stroke="#8a8a8a" stroke-width="0.7"/>
<rect x="66.4" y="636.1999999999999" width="29.0" height="28.4" fill="none" stroke="#5a5a9c" stroke-width="0.7"/>
<text x="89.7" y="633.5" font-size="5.98" text-anchor="end" fill="#333" stroke="#333" stroke-width="0.15" textLength="10.12" lengthAdjust="spacingAndGlyphs">2.34</text>
<path d="M58.0 639.9 L62.2 641.5 L65.7 643.7 L65.7 645.7 L62.2 647.7 L58.0 649.5 Z" fill="#2c3c98" filter="url(#bl)"/>
<ellipse cx="60.2" cy="644.8" rx="1.6" ry="2.2" fill="#1a1a50" filter="url(#bl)"/>
<circle cx="76.95" cy="645.9" r="0.4" fill="#9090c0"/>
<circle cx="67.68" cy="641.5" r="0.4" fill="#9090c0"/>
<circle cx="72.08" cy="643.94" r="0.4" fill="#9090c0"/>
<circle cx="67.61" cy="646.97" r="0.4" fill="#9090c0"/>
<circle cx="65.85" cy="644.81" r="0.4" fill="#9090c0"/>
<circle cx="67.41" cy="642.7" r="0.4" fill="#aaa"/>
<circle cx="75.46" cy="642.55" r="0.4" fill="#aaa"/>
<circle cx="66.47" cy="645.26" r="0.4" fill="#aaa"/>
<circle cx="74.28" cy="641.54" r="0.4" fill="#aaa"/>
<circle cx="74.64" cy="644.29" r="0.4" fill="#aaa"/>
<circle cx="67.8" cy="647.48" r="0.4" fill="#aaa"/>
<circle cx="68.49" cy="641.73" r="0.4" fill="#aaa"/>
<circle cx="76.4" cy="647.05" r="0.4" fill="#aaa"/>
<circle cx="74.24" cy="643.1" r="0.4" fill="#aaa"/>
<rect x="99.9" y="624.3" width="43.3" height="42.5" fill="none" stroke="#8a8a8a" stroke-width="0.7"/>
<rect x="112.60000000000001" y="636.1999999999999" width="29.0" height="28.4" fill="none" stroke="#5a5a9c" stroke-width="0.7"/>
<text x="135.9" y="633.5" font-size="5.98" text-anchor="end" fill="#333" stroke="#333" stroke-width="0.15" textLength="10.12" lengthAdjust="spacingAndGlyphs">2.70</text>
<path d="M104.2 639.9 L108.4 641.5 L111.9 643.7 L111.9 645.7 L108.4 647.7 L104.2 649.5 Z" fill="#2c3c98" filter="url(#bl)"/>
<ellipse cx="106.4" cy="644.8" rx="1.6" ry="2.2" fill="#1a1a50" filter="url(#bl)"/>
<circle cx="120.13" cy="647.0" r="0.4" fill="#aaa"/>
<circle cx="115.45" cy="647.07" r="0.4" fill="#9090c0"/>
<circle cx="112.93" cy="644.54" r="0.4" fill="#9090c0"/>
<circle cx="115.02" cy="642.92" r="0.4" fill="#9090c0"/>
<circle cx="123.24" cy="645.98" r="0.4" fill="#aaa"/>
<circle cx="114.2" cy="643.83" r="0.4" fill="#9090c0"/>
<circle cx="116.45" cy="646.61" r="0.4" fill="#aaa"/>
<circle cx="117.57" cy="644.68" r="0.4" fill="#9090c0"/>
<circle cx="122.19" cy="644.12" r="0.4" fill="#9090c0"/>
<circle cx="118.74" cy="643.35" r="0.4" fill="#9090c0"/>
<circle cx="116.6" cy="645.01" r="0.4" fill="#9090c0"/>
<circle cx="113.64" cy="641.66" r="0.4" fill="#9090c0"/>
<circle cx="119.36" cy="642.47" r="0.4" fill="#9090c0"/>
<circle cx="120.31" cy="641.69" r="0.4" fill="#9090c0"/>
<rect x="145.8" y="624.3" width="43.3" height="42.5" fill="none" stroke="#8a8a8a" stroke-width="0.7"/>
<rect x="158.5" y="636.1999999999999" width="29.0" height="28.4" fill="none" stroke="#5a5a9c" stroke-width="0.7"/>
<text x="181.8" y="633.5" font-size="5.98" text-anchor="end" fill="#333" stroke="#333" stroke-width="0.15" textLength="13.01" lengthAdjust="spacingAndGlyphs">18.48</text>
<path d="M150.10000000000002 639.9 L154.3 641.5 L162.8 643.7 L162.8 645.7 L154.3 647.7 L150.10000000000002 649.5 Z" fill="#2c3c98" filter="url(#bl)"/>
<ellipse cx="152.3" cy="644.8" rx="1.6" ry="2.2" fill="#1a1a50" filter="url(#bl)"/>
<ellipse cx="153.3" cy="644.5" rx="1.6" ry="1.6" fill="#46b0d0" filter="url(#bl)"/>
<circle cx="157.8" cy="645.5" r="1.0" fill="#8a4aa8"/>
<circle cx="169.57" cy="645.3" r="0.4" fill="#9090c0"/>
<circle cx="170.33" cy="641.89" r="0.4" fill="#aaa"/>
<circle cx="161.19" cy="647.23" r="0.4" fill="#9090c0"/>
<circle cx="172.76" cy="646.03" r="0.4" fill="#aaa"/>
<circle cx="159.62" cy="642.73" r="0.4" fill="#9090c0"/>
<circle cx="158.38" cy="647.2" r="0.4" fill="#9090c0"/>
<circle cx="171.83" cy="645.29" r="0.4" fill="#aaa"/>
<circle cx="165.91" cy="642.3" r="0.4" fill="#9090c0"/>
<circle cx="162.81" cy="643.52" r="0.4" fill="#aaa"/>
<circle cx="158.16" cy="643.04" r="0.4" fill="#aaa"/>
<circle cx="158.62" cy="646.06" r="0.4" fill="#aaa"/>
<circle cx="170.88" cy="645.11" r="0.4" fill="#aaa"/>
<circle cx="172.27" cy="645.21" r="0.4" fill="#9090c0"/>
<circle cx="171.21" cy="641.69" r="0.4" fill="#9090c0"/>
<rect x="191.5" y="624.3" width="43.3" height="42.5" fill="none" stroke="#8a8a8a" stroke-width="0.7"/>
<rect x="204.2" y="636.1999999999999" width="29.0" height="28.4" fill="none" stroke="#5a5a9c" stroke-width="0.7"/>
<text x="227.5" y="633.5" font-size="5.98" text-anchor="end" fill="#333" stroke="#333" stroke-width="0.15" textLength="10.12" lengthAdjust="spacingAndGlyphs">6.29</text>
<path d="M195.8 639.9 L200.0 641.5 L205.5 643.7 L205.5 645.7 L200.0 647.7 L195.8 649.5 Z" fill="#2c3c98" filter="url(#bl)"/>
<ellipse cx="198.0" cy="644.8" rx="1.6" ry="2.2" fill="#1a1a50" filter="url(#bl)"/>
<circle cx="208.35" cy="645.73" r="0.4" fill="#9090c0"/>
<circle cx="213.5" cy="646.47" r="0.4" fill="#aaa"/>
<circle cx="205.89" cy="641.51" r="0.4" fill="#9090c0"/>
<circle cx="207.54" cy="646.0" r="0.4" fill="#9090c0"/>
<circle cx="203.56" cy="644.44" r="0.4" fill="#aaa"/>
<circle cx="213.23" cy="646.45" r="0.4" fill="#aaa"/>
<circle cx="211.8" cy="647.24" r="0.4" fill="#aaa"/>
<circle cx="211.59" cy="642.45" r="0.4" fill="#9090c0"/>
<circle cx="216.64" cy="642.89" r="0.4" fill="#9090c0"/>
<circle cx="205.04" cy="645.32" r="0.4" fill="#9090c0"/>
<circle cx="210.36" cy="647.45" r="0.4" fill="#9090c0"/>
<circle cx="212.29" cy="643.63" r="0.4" fill="#aaa"/>
<circle cx="216.5" cy="646.85" r="0.4" fill="#9090c0"/>
<circle cx="209.41" cy="645.38" r="0.4" fill="#aaa"/>
<text x="36.5" y="597.0" font-size="5.75" text-anchor="middle" fill="#333" stroke="#333" stroke-width="0.144" textLength="12.5" lengthAdjust="spacingAndGlyphs">NBM</text>
<text x="33.4" y="647.0" font-size="5.75" text-anchor="middle" fill="#333" stroke="#333" stroke-width="0.144" textLength="17.4" lengthAdjust="spacingAndGlyphs">652021</text>
<text x="33.1" y="652.6" font-size="5.75" text-anchor="middle" fill="#333" stroke="#333" stroke-width="0.144" textLength="18" lengthAdjust="spacingAndGlyphs">MF pET</text>
<line x1="49.8" y1="646.3" x2="49.8" y2="628.8" stroke="#111" stroke-width="1.4"/>
<path d="M47.6 629.6 L49.8 625.2 L52.0 629.6 Z" fill="#111"/>
<text x="51.8" y="660.1" font-size="6.9" text-anchor="middle" fill="#333" stroke="#333" stroke-width="0.173" textLength="13.8" lengthAdjust="spacingAndGlyphs" transform="rotate(-90 51.8 660.1)">CD45</text>
<text x="59.4" y="674.5" font-size="6.55" text-anchor="middle" fill="#555" stroke="#555" stroke-width="0.164" textLength="9.1" lengthAdjust="spacingAndGlyphs">IL-8</text>
<line x1="71.6" y1="672.2" x2="89.2" y2="672.2" stroke="#111" stroke-width="1.4"/>
<path d="M88.3 670.0 L92.6 672.2 L88.3 674.4 Z" fill="#111"/>
<text x="270.3" y="560.6" font-size="11.0" text-anchor="start" fill="#111" font-weight="bold" stroke="#111" stroke-width="0.35">J</text>
<text x="295.8" y="596.9" font-size="5.98" text-anchor="end" fill="#333" stroke="#333" stroke-width="0.15" textLength="10.11" lengthAdjust="spacingAndGlyphs">TNF</text>
<text x="295.8" y="609.5999999999999" font-size="5.98" text-anchor="end" fill="#333" stroke="#333" stroke-width="0.15" textLength="8.96" lengthAdjust="spacingAndGlyphs">IL-6</text>
<text x="295.8" y="622.3" font-size="5.98" text-anchor="end" fill="#333" stroke="#333" stroke-width="0.15" textLength="8.96" lengthAdjust="spacingAndGlyphs">IL-8</text>
<text x="295.8" y="635.0999999999999" font-size="5.98" text-anchor="end" fill="#333" stroke="#333" stroke-width="0.15" textLength="16.88" lengthAdjust="spacingAndGlyphs">MIP-1α</text>
<text x="295.8" y="648.9499999999999" font-size="5.98" text-anchor="end" fill="#333" stroke="#333" stroke-width="0.15" textLength="16.86" lengthAdjust="spacingAndGlyphs">MIP-1β</text>
<rect x="299.5" y="589.6" width="11.6" height="10.8" fill="#fefafa"/>
<rect x="312.3" y="589.6" width="11.6" height="10.8" fill="#edf3fb"/>
<rect x="325.1" y="589.6" width="11.6" height="10.8" fill="#fefefe"/>
<rect x="299.5" y="602.3" width="11.6" height="10.8" fill="#fefafa"/>
<rect x="312.3" y="602.3" width="11.6" height="10.8" fill="#f2f6fc"/>
<rect x="325.1" y="602.3" width="11.6" height="10.8" fill="#fefbfb"/>
<rect x="299.5" y="615.0" width="11.6" height="10.8" fill="#fefafa"/>
<rect x="312.3" y="615.0" width="11.6" height="10.8" fill="#f5f8fc"/>
<rect x="325.1" y="615.0" width="11.6" height="10.8" fill="#fefafa"/>
<rect x="299.5" y="627.8" width="11.6" height="10.8" fill="#fefbfb"/>
<rect x="312.3" y="627.8" width="11.6" height="10.8" fill="#f8fafd"/>
<rect x="325.1" y="627.8" width="11.6" height="10.8" fill="#fefbfb"/>
<rect x="299.5" y="641.0" width="11.6" height="12.1" fill="#fdf5f5"/>
<rect x="312.3" y="641.0" width="11.6" height="12.1" fill="#fbc8c8"/>
<rect x="325.1" y="641.0" width="11.6" height="12.1" fill="#fde5e5"/>
<text x="304.5" y="583.8" font-size="5.75" text-anchor="start" fill="#333" stroke="#333" stroke-width="0.144" textLength="22" lengthAdjust="spacingAndGlyphs" transform="rotate(-45 304.5 583.8)">CA-4948</text>
<text x="317.3" y="583.8" font-size="5.75" text-anchor="start" fill="#333" stroke="#333" stroke-width="0.144" textLength="12" lengthAdjust="spacingAndGlyphs" transform="rotate(-45 317.3 583.8)">IL-1β</text>
<text x="330.1" y="583.8" font-size="5.75" text-anchor="start" fill="#333" stroke="#333" stroke-width="0.144" textLength="28" lengthAdjust="spacingAndGlyphs" transform="rotate(-45 330.1 583.8)">IL-1β + CA</text>
<rect x="351.3" y="589.6" width="11.6" height="10.8" fill="#d2e4f6"/>
<rect x="364.1" y="589.6" width="11.6" height="10.8" fill="#edf3fb"/>
<rect x="376.90000000000003" y="589.6" width="11.6" height="10.8" fill="#d8e7f7"/>
<rect x="351.3" y="602.3" width="11.6" height="10.8" fill="#dce9f7"/>
<rect x="364.1" y="602.3" width="11.6" height="10.8" fill="#edf3fb"/>
<rect x="376.90000000000003" y="602.3" width="11.6" height="10.8" fill="#e0ebf8"/>
<rect x="351.3" y="615.0" width="11.6" height="10.8" fill="#e2edf9"/>
<rect x="364.1" y="615.0" width="11.6" height="10.8" fill="#f7f9fd"/>
<rect x="376.90000000000003" y="615.0" width="11.6" height="10.8" fill="#edf3fb"/>
<rect x="351.3" y="627.8" width="11.6" height="10.8" fill="#f6f9fd"/>
<rect x="364.1" y="627.8" width="11.6" height="10.8" fill="#fbfcfe"/>
<rect x="376.90000000000003" y="627.8" width="11.6" height="10.8" fill="#f8fafd"/>
<rect x="351.3" y="641.0" width="11.6" height="12.1" fill="#f8fafd"/>
<rect x="364.1" y="641.0" width="11.6" height="12.1" fill="#f8b8b8"/>
<rect x="376.90000000000003" y="641.0" width="11.6" height="12.1" fill="#fde4e4"/>
<text x="356.3" y="583.8" font-size="5.75" text-anchor="start" fill="#333" stroke="#333" stroke-width="0.144" textLength="22" lengthAdjust="spacingAndGlyphs" transform="rotate(-45 356.3 583.8)">CA-4948</text>
<text x="369.1" y="583.8" font-size="5.75" text-anchor="start" fill="#333" stroke="#333" stroke-width="0.144" textLength="12" lengthAdjust="spacingAndGlyphs" transform="rotate(-45 369.1 583.8)">IL-1β</text>
<text x="381.90000000000003" y="583.8" font-size="5.75" text-anchor="start" fill="#333" stroke="#333" stroke-width="0.144" textLength="28" lengthAdjust="spacingAndGlyphs" transform="rotate(-45 381.90000000000003 583.8)">IL-1β + CA</text>
<rect x="403.0" y="589.6" width="11.6" height="10.8" fill="#fefbfb"/>
<rect x="415.8" y="589.6" width="11.6" height="10.8" fill="#fef4f4"/>
<rect x="428.6" y="589.6" width="11.6" height="10.8" fill="#fefbfb"/>
<rect x="403.0" y="602.3" width="11.6" height="10.8" fill="#fefbfb"/>
<rect x="415.8" y="602.3" width="11.6" height="10.8" fill="#fdf2f2"/>
<rect x="428.6" y="602.3" width="11.6" height="10.8" fill="#fefbfb"/>
<rect x="403.0" y="615.0" width="11.6" height="10.8" fill="#fefbfb"/>
<rect x="415.8" y="615.0" width="11.6" height="10.8" fill="#f9d6d6"/>
<rect x="428.6" y="615.0" width="11.6" height="10.8" fill="#fef6f6"/>
<rect x="403.0" y="627.8" width="11.6" height="10.8" fill="#fefbfb"/>
<rect x="415.8" y="627.8" width="11.6" height="10.8" fill="#fef5f5"/>
<rect x="428.6" y="627.8" width="11.6" height="10.8" fill="#fefbfb"/>
<rect x="403.0" y="641.0" width="11.6" height="12.1" fill="#fefafa"/>
<rect x="415.8" y="641.0" width="11.6" height="12.1" fill="#f7c0c0"/>
<rect x="428.6" y="641.0" width="11.6" height="12.1" fill="#fde9e9"/>
<text x="408.0" y="583.8" font-size="5.75" text-anchor="start" fill="#333" stroke="#333" stroke-width="0.144" textLength="22" lengthAdjust="spacingAndGlyphs" transform="rotate(-45 408.0 583.8)">CA-4948</text>
<text x="420.8" y="583.8" font-size="5.75" text-anchor="start" fill="#333" stroke="#333" stroke-width="0.144" textLength="12" lengthAdjust="spacingAndGlyphs" transform="rotate(-45 420.8 583.8)">IL-1β</text>
<text x="433.6" y="583.8" font-size="5.75" text-anchor="start" fill="#333" stroke="#333" stroke-width="0.144" textLength="28" lengthAdjust="spacingAndGlyphs" transform="rotate(-45 433.6 583.8)">IL-1β + CA</text>
<rect x="455.0" y="589.6" width="11.6" height="10.8" fill="#fefafa"/>
<rect x="467.8" y="589.6" width="11.6" height="10.8" fill="#fde5e5"/>
<rect x="480.6" y="589.6" width="11.6" height="10.8" fill="#fef6f6"/>
<rect x="455.0" y="602.3" width="11.6" height="10.8" fill="#fefbfb"/>
<rect x="467.8" y="602.3" width="11.6" height="10.8" fill="#fdf2f2"/>
<rect x="480.6" y="602.3" width="11.6" height="10.8" fill="#fef7f7"/>
<rect x="455.0" y="615.0" width="11.6" height="10.8" fill="#f5f8fd"/>
<rect x="467.8" y="615.0" width="11.6" height="10.8" fill="#f4b8b8"/>
<rect x="480.6" y="615.0" width="11.6" height="10.8" fill="#fadbdb"/>
<rect x="455.0" y="627.8" width="11.6" height="10.8" fill="#fefefe"/>
<rect x="467.8" y="627.8" width="11.6" height="10.8" fill="#fde8e8"/>
<rect x="480.6" y="627.8" width="11.6" height="10.8" fill="#fdf0f0"/>
<rect x="455.0" y="641.0" width="11.6" height="12.1" fill="#c9def3"/>
<rect x="467.8" y="641.0" width="11.6" height="12.1" fill="#e5261d"/>
<rect x="480.6" y="641.0" width="11.6" height="12.1" fill="#ec8989"/>
<text x="460.0" y="583.8" font-size="5.75" text-anchor="start" fill="#333" stroke="#333" stroke-width="0.144" textLength="22" lengthAdjust="spacingAndGlyphs" transform="rotate(-45 460.0 583.8)">CA-4948</text>
<text x="472.8" y="583.8" font-size="5.75" text-anchor="start" fill="#333" stroke="#333" stroke-width="0.144" textLength="12" lengthAdjust="spacingAndGlyphs" transform="rotate(-45 472.8 583.8)">IL-1β</text>
<text x="485.6" y="583.8" font-size="5.75" text-anchor="start" fill="#333" stroke="#333" stroke-width="0.144" textLength="28" lengthAdjust="spacingAndGlyphs" transform="rotate(-45 485.6 583.8)">IL-1β + CA</text>
<text x="323.8" y="662.4" font-size="5.98" text-anchor="middle" fill="#333" stroke="#333" stroke-width="0.15" textLength="11" lengthAdjust="spacingAndGlyphs">NBM</text>
<text x="375.7" y="662.4" font-size="5.98" text-anchor="middle" fill="#333" stroke="#333" stroke-width="0.15" textLength="31" lengthAdjust="spacingAndGlyphs">398253 PMF</text>
<text x="427.5" y="662.4" font-size="5.98" text-anchor="middle" fill="#333" stroke="#333" stroke-width="0.15" textLength="38.5" lengthAdjust="spacingAndGlyphs">652021 MF pET</text>
<text x="472.5" y="662.4" font-size="5.98" text-anchor="middle" fill="#333" stroke="#333" stroke-width="0.15" textLength="37" lengthAdjust="spacingAndGlyphs">700869 MF pET</text>
<defs><filter id="bl" x="-20%" y="-20%" width="140%" height="140%"><feGaussianBlur stdDeviation="0.45"/></filter></defs>
<defs><linearGradient id="cb" x1="0" y1="0" x2="0" y2="1"><stop offset="0" stop-color="#d42a20"/><stop offset="0.5" stop-color="#ffffff"/><stop offset="1" stop-color="#4a86c8"/></linearGradient></defs>
<rect x="498.5" y="630.2" width="5.9" height="16.8" fill="url(#cb)"/>
<text x="508.0" y="631.5" font-size="4.83" text-anchor="middle" fill="#333" stroke="#333" stroke-width="0.121" textLength="2.34" lengthAdjust="spacingAndGlyphs" transform="rotate(90 508.0 631.5)">1</text>
<text x="508.0" y="638.6" font-size="4.83" text-anchor="middle" fill="#333" stroke="#333" stroke-width="0.121" textLength="2.34" lengthAdjust="spacingAndGlyphs" transform="rotate(90 508.0 638.6)">0</text>
<text x="508.0" y="645.6" font-size="4.83" text-anchor="middle" fill="#333" stroke="#333" stroke-width="0.121" textLength="3.73" lengthAdjust="spacingAndGlyphs" transform="rotate(90 508.0 645.6)">-1</text>
<text x="504.9" y="654.2" font-size="5.98" text-anchor="middle" fill="#333" stroke="#333" stroke-width="0.15" textLength="14" lengthAdjust="spacingAndGlyphs">Signal</text>
<rect x="0.5" y="0.5" width="519" height="682" fill="none" stroke="#3a3a3a" stroke-width="1.0"/>
</svg>
</body></html>
